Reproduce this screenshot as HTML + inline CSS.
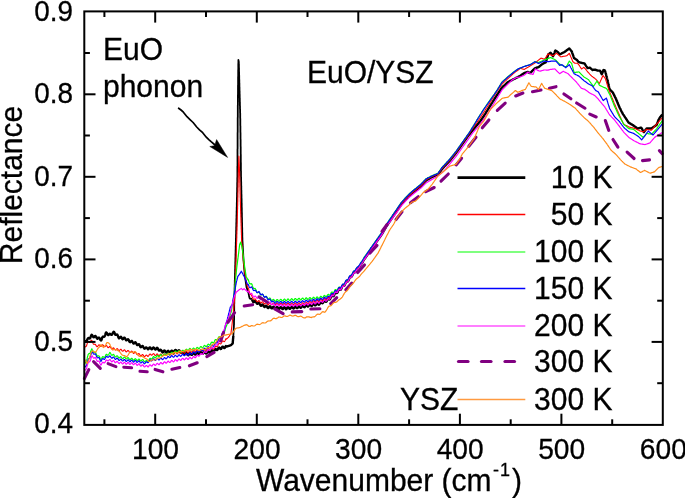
<!DOCTYPE html>
<html><head><meta charset="utf-8"><style>
html,body{margin:0;padding:0;background:#fff;}
body{width:685px;height:498px;overflow:hidden;font-family:"Liberation Sans",sans-serif;}
svg{display:block;will-change:transform;}
</style></head><body>
<svg width="685" height="498" viewBox="0 0 685 498">
<g><path d="M84.4,341.1 L84.8,340.9 L85.1,341.1 L85.5,341.4 L85.9,341.7 L86.2,341.6 L86.6,341.2 L86.9,340.5 L87.3,339.6 L87.7,338.8 L88.0,338.2 L88.4,338.0 L88.7,338.1 L89.0,338.3 L89.4,338.5 L89.7,338.5 L90.0,338.3 L90.3,337.8 L90.6,337.0 L91.0,336.1 L91.3,335.3 L91.6,334.7 L92.0,335.0 L92.5,335.7 L92.9,336.6 L93.4,337.2 L93.8,337.3 L94.3,336.9 L94.7,336.3 L95.2,335.9 L95.6,336.1 L96.1,336.8 L96.5,337.7 L96.9,338.4 L97.4,338.7 L97.8,338.4 L98.2,337.9 L98.7,337.6 L99.1,337.6 L99.6,338.2 L100.0,339.2 L100.4,340.0 L100.9,340.5 L101.3,340.4 L101.6,339.6 L101.9,338.7 L102.1,337.9 L102.4,337.3 L102.7,336.8 L103.0,336.6 L103.3,336.6 L103.6,336.7 L103.8,336.8 L104.1,336.8 L104.4,336.6 L104.7,336.1 L105.0,335.5 L105.3,334.6 L105.5,333.8 L105.8,333.0 L106.1,332.4 L106.5,332.6 L107.0,333.3 L107.4,334.2 L107.9,334.9 L108.3,335.1 L108.8,334.8 L109.2,334.2 L109.7,333.8 L110.1,333.9 L110.5,334.1 L110.9,334.5 L111.3,334.9 L111.7,334.9 L112.1,334.5 L112.5,333.7 L112.9,332.8 L113.3,332.1 L113.7,331.8 L114.1,331.9 L114.4,332.8 L114.8,333.6 L115.1,334.3 L115.4,334.8 L115.7,334.9 L116.1,334.8 L116.4,334.6 L116.7,334.4 L117.0,334.4 L117.4,334.7 L117.7,335.4 L118.0,336.2 L118.3,337.1 L118.7,337.8 L119.0,338.3 L119.5,338.1 L119.9,337.5 L120.4,336.9 L120.8,336.8 L121.3,337.2 L121.7,338.0 L122.2,338.8 L122.7,339.2 L123.1,339.0 L123.6,338.4 L124.0,337.8 L124.5,337.7 L124.9,338.1 L125.4,339.0 L125.8,339.8 L126.3,340.3 L126.7,340.3 L127.1,339.8 L127.6,339.4 L128.0,339.2 L128.5,339.6 L128.9,340.5 L129.3,341.4 L129.8,342.0 L130.2,342.2 L130.6,341.8 L131.1,341.2 L131.5,340.9 L131.9,341.0 L132.3,341.6 L132.8,342.5 L133.2,343.2 L133.6,343.6 L134.0,343.4 L134.5,342.9 L134.9,342.4 L135.3,342.2 L135.7,342.6 L136.2,343.4 L136.6,344.2 L137.0,344.9 L137.4,345.1 L137.9,344.9 L138.3,344.4 L138.7,344.2 L139.2,344.4 L139.6,345.1 L140.0,346.1 L140.4,346.9 L140.9,347.2 L141.3,347.1 L141.7,346.6 L142.1,346.1 L142.6,345.9 L143.0,346.3 L143.4,347.1 L143.9,348.0 L144.3,348.6 L144.7,348.7 L145.1,348.3 L145.6,347.8 L146.0,347.4 L146.5,347.4 L146.9,347.9 L147.4,348.6 L147.8,349.2 L148.3,349.2 L148.8,348.7 L149.2,347.9 L149.7,347.4 L150.2,347.4 L150.6,348.0 L151.1,348.7 L151.5,349.2 L152.0,349.2 L152.5,348.6 L152.9,347.9 L153.4,347.5 L153.8,347.6 L154.3,348.3 L154.8,349.1 L155.2,349.6 L155.7,349.5 L156.2,348.9 L156.6,348.2 L157.1,347.8 L157.5,348.0 L158.0,348.8 L158.4,349.7 L158.8,350.4 L159.2,350.6 L159.6,350.4 L160.1,350.0 L160.5,349.7 L160.9,349.8 L161.3,350.4 L161.7,351.3 L162.2,352.0 L162.6,352.4 L163.1,352.1 L163.6,351.4 L164.0,350.7 L164.5,350.5 L165.0,350.9 L165.4,351.7 L165.9,352.4 L166.4,352.6 L166.8,352.2 L167.3,351.5 L167.8,350.9 L168.2,350.8 L168.7,351.3 L169.2,352.1 L169.6,352.8 L170.1,352.8 L170.6,352.2 L171.0,351.3 L171.5,350.7 L171.9,350.6 L172.4,351.1 L172.9,351.8 L173.3,352.2 L173.8,352.1 L174.3,351.4 L174.7,350.5 L175.2,349.9 L175.6,349.9 L176.1,350.4 L176.6,351.3 L177.0,351.8 L177.5,351.8 L177.9,351.2 L178.4,350.5 L178.9,350.2 L179.3,350.4 L179.8,351.1 L180.2,352.1 L180.7,352.7 L181.2,352.8 L181.6,352.4 L182.1,351.9 L182.5,351.7 L183.0,352.0 L183.4,352.9 L183.9,353.8 L184.4,354.3 L184.8,354.2 L185.3,353.6 L185.8,353.0 L186.3,352.8 L186.8,353.3 L187.2,354.2 L187.7,355.0 L188.2,355.3 L188.7,354.8 L189.1,354.0 L189.6,353.3 L190.0,353.2 L190.5,353.6 L191.0,354.3 L191.4,354.9 L191.9,354.9 L192.4,354.3 L192.8,353.5 L193.3,352.9 L193.7,352.8 L194.2,353.3 L194.7,354.1 L195.2,354.6 L195.6,354.4 L196.1,353.7 L196.6,352.9 L197.1,352.4 L197.6,352.6 L198.1,353.3 L198.6,354.0 L199.0,354.2 L199.5,353.7 L200.0,352.9 L200.5,352.2 L200.9,352.0 L201.4,352.5 L201.9,353.2 L202.4,353.8 L202.8,353.8 L203.3,353.2 L203.8,352.4 L204.2,351.8 L204.7,351.8 L205.2,352.4 L205.6,353.1 L206.1,353.5 L206.6,353.4 L207.1,352.6 L207.5,351.8 L208.0,351.4 L208.4,351.5 L208.9,352.0 L209.3,352.6 L209.7,352.9 L210.2,352.6 L210.6,351.9 L211.1,351.1 L211.5,350.4 L211.9,350.3 L212.4,350.7 L212.8,351.3 L213.2,351.7 L213.7,351.7 L214.1,351.1 L214.5,350.2 L215.0,349.3 L215.4,348.9 L215.9,349.1 L216.3,349.7 L216.8,350.1 L217.2,350.0 L217.7,349.4 L218.2,348.5 L218.7,347.7 L219.1,347.5 L219.6,347.9 L220.1,348.6 L220.6,349.0 L221.1,348.9 L221.5,348.1 L222.0,347.2 L222.5,346.6 L223.0,346.7 L223.5,347.3 L223.9,347.9 L224.4,348.1 L224.9,347.7 L225.4,346.8 L225.9,346.0 L226.3,346.6 L226.8,346.5 L227.3,346.4 L227.8,346.2 L228.2,346.1 L228.7,345.9 L229.1,345.8 L229.6,345.6 L230.0,345.5 L230.5,345.3 L230.9,345.2 L231.3,344.8 L231.6,344.5 L232.0,344.1 L232.3,343.8 L232.7,343.4 L232.7,342.9 L232.8,342.5 L232.8,342.0 L232.8,341.6 L232.9,341.1 L232.9,340.7 L233.0,340.2 L233.0,339.8 L233.0,339.3 L233.1,338.8 L233.1,338.4 L233.2,337.9 L233.2,337.5 L233.2,337.0 L233.3,336.6 L233.3,336.1" fill="none" stroke="#000000" stroke-width="2.4" stroke-linejoin="round"/><path d="M233.3,336.1 L233.3,335.6 L233.4,335.2 L233.4,334.7 L233.4,334.3 L233.4,333.8 L233.5,333.3 L233.5,332.9 L233.5,332.4 L233.5,331.9 L233.6,331.5 L233.6,331.0 L233.6,330.6 L233.7,330.1 L233.7,329.6 L233.7,329.2 L233.7,328.7 L233.8,328.3 L233.8,327.8 L233.8,327.3 L233.8,326.9 L233.9,326.4 L233.9,325.9 L233.9,325.5 L233.9,325.0 L234.0,324.6 L234.0,324.1 L234.0,323.6 L234.0,323.2 L234.0,322.7 L234.0,322.3 L234.0,321.8 L234.0,321.4 L234.0,320.9 L234.0,320.5 L234.1,320.0 L234.1,319.6 L234.1,319.1 L234.1,318.6 L234.1,318.2 L234.1,317.7 L234.1,317.3 L234.1,316.8 L234.1,316.4 L234.1,315.9 L234.1,315.5 L234.1,315.0 L234.1,314.6 L234.1,314.1 L234.1,313.6 L234.1,313.2 L234.1,312.7 L234.1,312.3 L234.2,311.8 L234.2,311.4 L234.2,310.9 L234.2,310.5 L234.2,310.0 L234.2,309.5 L234.2,309.1 L234.2,308.6 L234.2,308.2 L234.2,307.7 L234.2,307.3 L234.2,306.8 L234.2,306.4 L234.2,305.9 L234.2,305.5 L234.2,305.0 L234.2,304.5 L234.2,304.1 L234.3,303.6 L234.3,303.2 L234.3,302.7 L234.3,302.3 L234.3,301.8 L234.3,301.4 L234.3,300.9 L234.3,300.5 L234.3,300.0 L234.3,299.5 L234.3,299.1 L234.3,298.6 L234.4,298.2 L234.4,297.7 L234.4,297.3 L234.4,296.8 L234.4,296.4 L234.4,295.9 L234.4,295.5 L234.4,295.0 L234.5,294.5 L234.5,294.1 L234.5,293.6 L234.5,293.2 L234.5,292.7 L234.5,292.3 L234.5,291.8 L234.5,291.4 L234.6,290.9 L234.6,290.5 L234.6,290.0 L234.6,289.5 L234.6,289.1 L234.6,288.6 L234.6,288.2 L234.6,287.7 L234.7,287.3 L234.7,286.8 L234.7,286.4 L234.7,285.9 L234.7,285.5 L234.7,285.0 L234.7,284.5 L234.7,284.1 L234.8,283.6 L234.8,283.2 L234.8,282.7 L234.8,282.3 L234.8,281.8 L234.8,281.4 L234.8,280.9 L234.8,280.5 L234.9,280.0 L234.9,279.5 L234.9,279.1 L234.9,278.6 L234.9,278.2 L234.9,277.7 L234.9,277.3 L234.9,276.8 L235.0,276.4 L235.0,275.9 L235.0,275.5 L235.0,275.0 L235.0,274.5 L235.0,274.1 L235.0,273.6 L235.0,273.2 L235.1,272.7 L235.1,272.3 L235.1,271.8 L235.1,271.4 L235.1,270.9 L235.1,270.5 L235.1,270.0 L235.1,269.5 L235.2,269.1 L235.2,268.6 L235.2,268.2 L235.2,267.7 L235.2,267.3 L235.2,266.8 L235.2,266.4 L235.2,265.9 L235.2,265.5 L235.3,265.0 L235.3,264.5 L235.3,264.1 L235.3,263.6 L235.3,263.2 L235.3,262.7 L235.3,262.3 L235.3,261.8 L235.4,261.4 L235.4,260.9 L235.4,260.5 L235.4,260.0 L235.4,259.5 L235.4,259.1 L235.4,258.6 L235.4,258.2 L235.4,257.7 L235.5,257.3 L235.5,256.8 L235.5,256.4 L235.5,255.9 L235.5,255.5 L235.5,255.0 L235.5,254.5 L235.5,254.1 L235.5,253.6 L235.6,253.2 L235.6,252.7 L235.6,252.3 L235.6,251.8 L235.6,251.4 L235.6,250.9 L235.6,250.5 L235.6,250.0 L235.7,249.5 L235.7,249.1 L235.7,248.6 L235.7,248.2 L235.7,247.7 L235.7,247.3 L235.7,246.8 L235.7,246.4 L235.7,245.9 L235.8,245.5 L235.8,245.0 L235.8,244.5 L235.8,244.1 L235.8,243.6 L235.8,243.2 L235.8,242.7 L235.8,242.3 L235.9,241.8 L235.9,241.4 L235.9,240.9 L235.9,240.5 L235.9,240.0 L235.9,239.5 L235.9,239.1 L235.9,238.6 L235.9,238.2 L236.0,237.7 L236.0,237.3 L236.0,236.8 L236.0,236.4 L236.0,235.9 L236.0,235.5 L236.0,235.0 L236.0,234.5 L236.1,234.1 L236.1,233.6 L236.1,233.2 L236.1,232.7 L236.1,232.3 L236.1,231.8 L236.1,231.4 L236.1,230.9 L236.1,230.5 L236.2,230.0 L236.2,229.5 L236.2,229.1 L236.2,228.6 L236.2,228.2 L236.2,227.7 L236.2,227.3 L236.2,226.8 L236.3,226.4 L236.3,225.9 L236.3,225.5 L236.3,225.0 L236.3,224.5 L236.3,224.1 L236.3,223.6 L236.3,223.2 L236.3,222.7 L236.4,222.3 L236.4,221.8 L236.4,221.4 L236.4,220.9 L236.4,220.5 L236.4,220.0 L236.4,219.5 L236.4,219.1 L236.4,218.6 L236.5,218.2 L236.5,217.7 L236.5,217.3 L236.5,216.8 L236.5,216.4 L236.5,215.9 L236.5,215.5 L236.5,215.0 L236.6,214.5 L236.6,214.1 L236.6,213.6 L236.6,213.2 L236.6,212.7 L236.6,212.3 L236.6,211.8 L236.6,211.4 L236.6,210.9 L236.7,210.5 L236.7,210.0 L236.7,209.5 L236.7,209.1 L236.7,208.6 L236.7,208.2 L236.7,207.7 L236.7,207.3 L236.8,206.8 L236.8,206.4 L236.8,205.9 L236.8,205.5 L236.8,205.0 L236.8,204.5 L236.8,204.1 L236.8,203.6 L236.8,203.2 L236.8,202.7 L236.9,202.3 L236.9,201.8 L236.9,201.4 L236.9,200.9 L236.9,200.5 L236.9,200.0 L236.9,199.5 L236.9,199.1 L236.9,198.6 L236.9,198.2 L236.9,197.7 L237.0,197.3 L237.0,196.8 L237.0,196.4 L237.0,195.9 L237.0,195.5 L237.0,195.0 L237.0,194.5 L237.0,194.1 L237.0,193.6 L237.0,193.2 L237.0,192.7 L237.1,192.3 L237.1,191.8 L237.1,191.4 L237.1,190.9 L237.1,190.5 L237.1,190.0 L237.1,189.5 L237.1,189.1 L237.1,188.6 L237.1,188.2 L237.1,187.7 L237.2,187.3 L237.2,186.8 L237.2,186.4 L237.2,185.9 L237.2,185.5 L237.2,185.0 L237.2,184.5 L237.2,184.1 L237.2,183.6 L237.2,183.2 L237.2,182.7 L237.3,182.3 L237.3,181.8 L237.3,181.4 L237.3,180.9 L237.3,180.5 L237.3,180.0 L237.3,179.5 L237.3,179.1 L237.3,178.6 L237.3,178.2 L237.3,177.7 L237.4,177.3 L237.4,176.8 L237.4,176.4 L237.4,175.9 L237.4,175.5 L237.4,175.0 L237.4,174.5 L237.4,174.1 L237.4,173.6 L237.4,173.2 L237.4,172.7 L237.4,172.3 L237.4,171.8 L237.4,171.4 L237.4,170.9 L237.4,170.5 L237.4,170.0 L237.4,169.5 L237.4,169.1 L237.4,168.6 L237.4,168.2 L237.4,167.7 L237.4,167.3 L237.4,166.8 L237.4,166.4 L237.5,165.9 L237.5,165.5 L237.5,165.0 L237.5,164.5 L237.5,164.1 L237.5,163.6 L237.5,163.2 L237.5,162.7 L237.5,162.3 L237.5,161.8 L237.5,161.4 L237.5,160.9 L237.5,160.5 L237.5,160.0 L237.5,159.5 L237.5,159.1 L237.5,158.6 L237.5,158.2 L237.5,157.7 L237.5,157.3 L237.5,156.8 L237.5,156.4 L237.5,155.9 L237.5,155.5 L237.5,155.0 L237.5,154.5 L237.5,154.1 L237.5,153.6 L237.5,153.2 L237.5,152.7 L237.5,152.3 L237.5,151.8 L237.5,151.4 L237.5,150.9 L237.5,150.5 L237.5,150.0 L237.5,149.5 L237.5,149.1 L237.6,148.6 L237.6,148.2 L237.6,147.7 L237.6,147.3 L237.6,146.8 L237.6,146.4 L237.6,145.9 L237.6,145.5 L237.6,145.0 L237.6,144.5 L237.6,144.1 L237.6,143.6 L237.6,143.2 L237.6,142.7 L237.6,142.3 L237.6,141.8 L237.6,141.4 L237.6,140.9 L237.6,140.5 L237.6,140.0 L237.6,139.5 L237.6,139.1 L237.6,138.6 L237.6,138.2 L237.6,137.7 L237.6,137.3 L237.6,136.8 L237.6,136.4 L237.6,135.9 L237.6,135.5 L237.6,135.0 L237.6,134.5 L237.6,134.1 L237.6,133.6 L237.6,133.2 L237.6,132.7 L237.7,132.3 L237.7,131.8 L237.7,131.4 L237.7,130.9 L237.7,130.5 L237.7,130.0 L237.7,129.5 L237.7,129.1 L237.7,128.6 L237.7,128.2 L237.7,127.7 L237.7,127.3 L237.7,126.8 L237.7,126.4 L237.7,125.9 L237.7,125.5 L237.7,125.0 L237.7,124.5 L237.7,124.1 L237.7,123.6 L237.7,123.2 L237.7,122.7 L237.7,122.3 L237.7,121.8 L237.7,121.4 L237.7,120.9 L237.7,120.5 L237.7,120.0 L237.7,119.5 L237.7,119.1 L237.7,118.6 L237.7,118.2 L237.7,117.7 L237.8,117.3 L237.8,116.8 L237.8,116.4 L237.8,115.9 L237.8,115.5 L237.8,115.0 L237.8,114.5 L237.8,114.1 L237.8,113.6 L237.8,113.2 L237.8,112.7 L237.8,112.3 L237.8,111.8 L237.8,111.4 L237.8,110.9 L237.8,110.5 L237.8,110.0 L237.8,109.5 L237.8,109.1 L237.8,108.6 L237.8,108.2 L237.8,107.7 L237.8,107.3 L237.8,106.8 L237.8,106.4 L237.8,105.9 L237.8,105.5 L237.9,105.0 L237.9,104.5 L237.9,104.1 L237.9,103.6 L237.9,103.2 L237.9,102.7 L237.9,102.3 L237.9,101.8 L237.9,101.4 L237.9,100.9 L237.9,100.5 L237.9,100.0 L237.9,99.5 L237.9,99.1 L237.9,98.6 L237.9,98.2 L237.9,97.7 L237.9,97.3 L237.9,96.8 L237.9,96.4 L237.9,95.9 L237.9,95.5 L237.9,95.0 L238.0,94.5 L238.0,94.1 L238.0,93.6 L238.0,93.2 L238.0,92.7 L238.0,92.3 L238.0,91.8 L238.0,91.4 L238.0,90.9 L238.0,90.5 L238.0,90.0 L238.0,89.5 L238.0,89.1 L238.0,88.6 L238.0,88.2 L238.0,87.7 L238.0,87.3 L238.0,86.8 L238.0,86.4 L238.0,85.9 L238.0,85.5 L238.1,85.0 L238.1,84.5 L238.1,84.1 L238.1,83.6 L238.1,83.2 L238.1,82.7 L238.1,82.3 L238.1,81.8 L238.1,81.4 L238.1,80.9 L238.1,80.5 L238.1,80.0 L238.1,79.5 L238.1,79.1 L238.1,78.6 L238.1,78.2 L238.1,77.7 L238.1,77.3 L238.1,76.8 L238.2,76.4 L238.2,75.9 L238.2,75.5 L238.2,75.0 L238.2,74.5 L238.2,74.1 L238.2,73.6 L238.2,73.2 L238.2,72.7 L238.2,72.3 L238.2,71.8 L238.2,71.4 L238.2,70.9 L238.2,70.5 L238.2,70.0 L238.3,69.5 L238.3,69.1 L238.3,68.6 L238.3,68.2 L238.3,67.7 L238.3,67.3 L238.3,66.8 L238.3,66.4 L238.3,65.9 L238.3,65.5 L238.3,65.0 L238.3,64.5 L238.3,64.1 L238.3,63.6 L238.4,63.2 L238.4,62.7 L238.4,62.3 L238.4,61.8 L238.4,61.4 L238.4,60.9 L238.4,60.5 L238.4,60.0 L238.5,60.5 L238.6,61.0 L238.7,61.5 L238.8,62.0 L238.8,62.5 L238.8,62.9 L238.8,63.4 L238.8,63.8 L238.9,64.3 L238.9,64.7 L238.9,65.2 L238.9,65.6 L238.9,66.1 L238.9,66.5 L238.9,67.0 L238.9,67.4 L239.0,67.9 L239.0,68.3 L239.0,68.8 L239.0,69.2 L239.0,69.7 L239.0,70.1 L239.0,70.6 L239.0,71.0 L239.0,71.5 L239.1,71.9 L239.1,72.4 L239.1,72.8 L239.1,73.3 L239.1,73.7 L239.1,74.2 L239.1,74.6 L239.1,75.1 L239.2,75.5 L239.2,76.0 L239.2,76.4 L239.2,76.9 L239.2,77.3 L239.2,77.8 L239.2,78.2 L239.2,78.7 L239.2,79.1 L239.3,79.6 L239.3,80.0 L239.3,80.5 L239.3,80.9 L239.3,81.4 L239.3,81.8 L239.3,82.3 L239.3,82.7 L239.4,83.2 L239.4,83.6 L239.4,84.1 L239.4,84.5 L239.4,85.0 L239.4,85.5 L239.4,85.9 L239.4,86.4 L239.4,86.8 L239.5,87.3 L239.5,87.7 L239.5,88.2 L239.5,88.6 L239.5,89.1 L239.5,89.5 L239.5,90.0 L239.5,90.5 L239.6,90.9 L239.6,91.4 L239.6,91.8 L239.6,92.3 L239.6,92.7 L239.6,93.2 L239.6,93.6 L239.6,94.1 L239.7,94.5 L239.7,95.0 L239.7,95.5 L239.7,95.9 L239.7,96.4 L239.7,96.8 L239.7,97.3 L239.7,97.7 L239.8,98.2 L239.8,98.6 L239.8,99.1 L239.8,99.5 L239.8,100.0 L239.8,100.5 L239.8,100.9 L239.8,101.4 L239.8,101.8 L239.9,102.3 L239.9,102.7 L239.9,103.2 L239.9,103.6 L239.9,104.1 L239.9,104.5 L239.9,105.0 L239.9,105.5 L240.0,105.9 L240.0,106.4 L240.0,106.8 L240.0,107.3 L240.0,107.7 L240.0,108.2 L240.0,108.6 L240.0,109.1 L240.1,109.5 L240.1,110.0 L240.1,110.5 L240.1,110.9 L240.1,111.4 L240.1,111.8 L240.1,112.3 L240.1,112.7 L240.2,113.2 L240.2,113.6 L240.2,114.1 L240.2,114.5 L240.2,115.0 L240.2,115.5 L240.2,115.9 L240.2,116.4 L240.2,116.8 L240.2,117.3 L240.2,117.7 L240.2,118.2 L240.3,118.6 L240.3,119.1 L240.3,119.5 L240.3,120.0 L240.3,120.5 L240.3,120.9 L240.3,121.4 L240.3,121.8 L240.3,122.3 L240.3,122.7 L240.3,123.2 L240.3,123.6 L240.3,124.1 L240.3,124.5 L240.3,125.0 L240.3,125.5 L240.4,125.9 L240.4,126.4 L240.4,126.8 L240.4,127.3 L240.4,127.7 L240.4,128.2 L240.4,128.6 L240.4,129.1 L240.4,129.5 L240.4,130.0 L240.4,130.5 L240.4,130.9 L240.4,131.4 L240.4,131.8 L240.4,132.3 L240.5,132.7 L240.5,133.2 L240.5,133.6 L240.5,134.1 L240.5,134.5 L240.5,135.0 L240.5,135.5 L240.5,135.9 L240.5,136.4 L240.5,136.8 L240.5,137.3 L240.5,137.7 L240.5,138.2 L240.5,138.6 L240.5,139.1 L240.6,139.5 L240.6,140.0 L240.6,140.5 L240.6,140.9 L240.6,141.4 L240.6,141.8 L240.6,142.3 L240.6,142.7 L240.6,143.2 L240.6,143.6 L240.6,144.1 L240.6,144.5 L240.6,145.0 L240.6,145.5 L240.6,145.9 L240.6,146.4 L240.7,146.8 L240.7,147.3 L240.7,147.7 L240.7,148.2 L240.7,148.6 L240.7,149.1 L240.7,149.5 L240.7,150.0 L240.7,150.5 L240.7,150.9 L240.7,151.4 L240.7,151.8 L240.7,152.3 L240.7,152.7 L240.7,153.2 L240.7,153.6 L240.7,154.1 L240.8,154.5 L240.8,155.0 L240.8,155.5 L240.8,155.9 L240.8,156.4 L240.8,156.8 L240.8,157.3 L240.8,157.7 L240.8,158.2 L240.8,158.6 L240.8,159.1 L240.8,159.5 L240.8,160.0 L240.8,160.5 L240.8,160.9 L240.8,161.4 L240.8,161.8 L240.8,162.3 L240.9,162.7 L240.9,163.2 L240.9,163.6 L240.9,164.1 L240.9,164.5 L240.9,165.0 L240.9,165.5 L240.9,165.9 L240.9,166.4 L240.9,166.8 L240.9,167.3 L240.9,167.7 L240.9,168.2 L240.9,168.6 L240.9,169.1 L240.9,169.5 L240.9,170.0 L240.9,170.5 L241.0,170.9 L241.0,171.4 L241.0,171.8 L241.0,172.3 L241.0,172.7 L241.0,173.2 L241.0,173.6 L241.0,174.1 L241.0,174.5 L241.0,175.0 L241.0,175.5 L241.0,175.9 L241.0,176.4 L241.0,176.8 L241.1,177.3 L241.1,177.7 L241.1,178.2 L241.1,178.6 L241.1,179.1 L241.1,179.5 L241.1,180.0 L241.1,180.5 L241.1,180.9 L241.1,181.4 L241.2,181.8 L241.2,182.3 L241.2,182.7 L241.2,183.2 L241.2,183.6 L241.2,184.1 L241.2,184.5 L241.2,185.0 L241.2,185.5 L241.3,185.9 L241.3,186.4 L241.3,186.8 L241.3,187.3 L241.3,187.7 L241.3,188.2 L241.3,188.6 L241.3,189.1 L241.3,189.5 L241.3,190.0 L241.4,190.5 L241.4,190.9 L241.4,191.4 L241.4,191.8 L241.4,192.3 L241.4,192.7 L241.4,193.2 L241.4,193.6 L241.4,194.1 L241.5,194.5 L241.5,195.0 L241.5,195.5 L241.5,195.9 L241.5,196.4 L241.5,196.8 L241.5,197.3 L241.5,197.7 L241.5,198.2 L241.6,198.6 L241.6,199.1 L241.6,199.5 L241.6,200.0 L241.6,200.5 L241.6,200.9 L241.6,201.4 L241.6,201.8 L241.6,202.3 L241.6,202.7 L241.7,203.2 L241.7,203.6 L241.7,204.1 L241.7,204.5 L241.7,205.0 L241.7,205.5 L241.7,205.9 L241.7,206.4 L241.7,206.8 L241.7,207.3 L241.8,207.7 L241.8,208.2 L241.8,208.6 L241.8,209.1 L241.8,209.5 L241.8,210.0 L241.8,210.5 L241.8,210.9 L241.8,211.4 L241.8,211.8 L241.8,212.3 L241.9,212.7 L241.9,213.2 L241.9,213.6 L241.9,214.1 L241.9,214.5 L241.9,215.0 L241.9,215.5 L241.9,215.9 L241.9,216.4 L241.9,216.8 L241.9,217.3 L242.0,217.7 L242.0,218.2 L242.0,218.6 L242.0,219.1 L242.0,219.5 L242.0,220.0 L242.0,220.5 L242.0,220.9 L242.0,221.4 L242.0,221.8 L242.0,222.3 L242.1,222.7 L242.1,223.2 L242.1,223.6 L242.1,224.1 L242.1,224.5 L242.1,225.0 L242.1,225.5 L242.1,225.9 L242.1,226.4 L242.1,226.8 L242.1,227.3 L242.2,227.7 L242.2,228.2 L242.2,228.6 L242.2,229.1 L242.2,229.5 L242.2,230.0 L242.2,230.5 L242.2,230.9 L242.2,231.4 L242.2,231.8 L242.2,232.3 L242.3,232.7 L242.3,233.2 L242.3,233.6 L242.3,234.1 L242.3,234.5 L242.3,235.0 L242.3,235.5 L242.3,235.9 L242.3,236.4 L242.3,236.8 L242.3,237.3 L242.4,237.7 L242.4,238.2 L242.4,238.6 L242.4,239.1 L242.4,239.5 L242.4,240.0 L242.4,240.5 L242.5,240.9 L242.5,241.4 L242.5,241.8 L242.5,242.3 L242.6,242.7 L242.6,243.2 L242.6,243.6 L242.6,244.1 L242.7,244.5 L242.7,245.0 L242.7,245.5 L242.7,245.9 L242.8,246.4 L242.8,246.8 L242.8,247.3 L242.8,247.7 L242.8,248.2 L242.9,248.6 L242.9,249.1 L242.9,249.5 L242.9,250.0 L243.0,250.5 L243.0,250.9 L243.0,251.4 L243.1,251.8 L243.1,252.3 L243.1,252.7 L243.1,253.2 L243.2,253.6 L243.2,254.1 L243.2,254.5 L243.2,255.0 L243.2,255.5 L243.3,255.9 L243.3,256.4 L243.3,256.8 L243.3,257.3 L243.4,257.7 L243.4,258.2 L243.4,258.6 L243.4,259.1 L243.5,259.5 L243.5,260.0 L243.5,260.5 L243.6,260.9 L243.6,261.4 L243.7,261.8 L243.7,262.3 L243.7,262.7 L243.8,263.2 L243.8,263.6 L243.9,264.1 L243.9,264.5 L243.9,265.0 L244.0,265.5 L244.0,265.9 L244.1,266.4 L244.1,266.8 L244.1,267.3 L244.2,267.7 L244.2,268.2 L244.2,268.6 L244.3,269.1 L244.3,269.5 L244.4,270.0 L244.4,270.5 L244.4,270.9 L244.5,271.4 L244.5,271.8 L244.6,272.3 L244.6,272.7 L244.6,273.2 L244.7,273.6 L244.7,274.1 L244.8,274.5 L244.8,275.0 L244.9,275.5 L244.9,275.9 L245.0,276.4 L245.1,276.8 L245.1,277.3 L245.2,277.8 L245.3,278.2 L245.3,278.7 L245.4,279.2 L245.5,279.6 L245.5,280.1 L245.6,280.5 L245.7,281.0 L245.7,281.5 L245.8,281.9 L245.8,282.4 L245.9,282.8 L246.0,283.3 L246.0,283.8 L246.1,284.2 L246.2,284.7 L246.2,285.2 L246.3,285.6 L246.4,286.1 L246.4,286.5 L246.5,287.0 L246.6,287.4 L246.8,287.9 L246.9,288.3 L247.0,288.7 L247.2,289.2 L247.3,289.6 L247.4,290.0 L247.5,290.5 L247.7,290.9 L247.8,291.3 L247.9,291.8 L248.1,291.2 L248.2,291.7 L248.3,292.2 L248.5,292.8 L248.6,293.4 L248.7,294.0 L248.8,294.6 L249.0,295.3 L249.1,296.0 L249.2,296.6 L249.4,297.2 L249.5,297.8 L249.8,298.4 L250.1,298.7 L250.3,298.9 L250.6,298.8 L250.9,298.8 L251.2,298.7 L251.4,298.8 L251.7,299.1 L252.0,299.6" fill="none" stroke="#000000" stroke-width="1.8" stroke-linejoin="round"/><path d="M252.0,299.6 L252.4,300.4 L252.9,301.4 L253.3,302.1 L253.8,302.2 L254.2,301.8 L254.7,301.3 L255.1,301.0 L255.6,301.2 L256.0,301.9 L256.4,302.9 L256.9,303.6 L257.3,303.9 L257.7,303.7 L258.1,303.2 L258.6,302.8 L259.0,302.8 L259.4,303.3 L259.9,304.2 L260.3,305.1 L260.7,305.7 L261.1,305.7 L261.6,305.3 L262.0,304.8 L262.4,304.5 L262.9,304.7 L263.3,305.4 L263.7,306.2 L264.2,306.9 L264.6,307.0 L265.1,306.6 L265.5,306.0 L265.9,305.6 L266.4,305.6 L266.8,306.2 L267.2,307.0 L267.7,307.8 L268.1,308.1 L268.6,307.8 L269.0,307.1 L269.5,306.4 L269.9,306.3 L270.4,306.7 L270.9,307.5 L271.3,308.2 L271.8,308.4 L272.3,308.1 L272.7,307.3 L273.2,306.8 L273.6,306.7 L274.1,307.2 L274.6,308.0 L275.0,308.6 L275.5,308.7 L275.9,308.3 L276.4,307.5 L276.9,306.9 L277.3,306.9 L277.8,307.5 L278.3,308.3 L278.7,308.9 L279.2,308.9 L279.6,308.3 L280.1,307.6 L280.6,307.1 L281.0,307.1 L281.5,307.7 L281.9,308.5 L282.4,309.1 L282.9,309.0 L283.3,308.4 L283.8,307.7 L284.3,307.2 L284.7,307.4 L285.2,308.0 L285.6,308.8 L286.1,309.3 L286.5,309.1 L287.0,308.4 L287.4,307.6 L287.9,307.2 L288.3,307.2 L288.8,307.8 L289.2,308.5 L289.7,308.9 L290.1,308.8 L290.6,308.2 L291.0,307.4 L291.5,306.8 L291.9,306.8 L292.4,307.3 L292.8,308.0 L293.3,308.5 L293.7,308.5 L294.2,307.9 L294.6,307.1 L295.1,306.5 L295.5,306.4 L296.0,306.9 L296.4,307.6 L296.9,308.1 L297.3,308.1 L297.8,307.6 L298.2,306.8 L298.7,306.1 L299.1,306.0 L299.6,306.5 L300.1,307.3 L300.6,307.7 L301.1,307.6 L301.5,306.9 L302.0,306.1 L302.4,305.6 L302.9,305.6 L303.3,306.1 L303.8,306.8 L304.2,307.2 L304.7,307.1 L305.1,306.4 L305.6,305.6 L306.0,305.0 L306.4,305.0 L306.9,305.4 L307.3,306.1 L307.8,306.6 L308.2,306.5 L308.7,306.0 L309.1,305.1 L309.6,304.5 L310.0,304.3 L310.4,304.7 L310.9,305.4 L311.4,305.9 L311.8,306.0 L312.2,305.5 L312.7,304.6 L313.1,303.9 L313.6,303.7 L314.1,304.1 L314.5,304.7 L314.9,305.3 L315.4,305.4 L315.9,304.9 L316.3,304.1 L316.8,303.4 L317.2,303.1 L317.6,303.4 L318.1,304.1 L318.6,304.7 L319.0,304.8 L319.4,304.3 L319.9,303.4 L320.3,302.6 L320.7,302.1 L321.1,302.1 L321.6,302.6 L322.0,303.1 L322.4,303.3 L322.9,303.0 L323.3,302.3 L323.7,301.4 L324.1,300.7 L324.6,300.5 L325.0,300.8 L325.4,301.3 L325.9,301.7 L326.3,301.7 L326.7,301.2 L327.1,300.3 L327.6,299.5 L328.0,299.0 L328.3,298.9 L328.7,299.0 L329.0,299.3 L329.4,299.5 L329.7,299.5 L330.1,299.1 L330.4,298.4 L330.8,297.5 L331.1,296.6 L331.5,296.0 L331.8,295.7 L332.2,295.7 L332.5,296.0 L332.9,296.2 L333.2,296.3 L333.6,296.1 L333.9,295.5 L334.3,294.7 L334.6,293.8 L335.0,293.1 L335.3,292.6 L335.7,292.5 L336.0,292.7 L336.3,292.9 L336.7,293.1 L337.0,293.1 L337.3,292.7 L337.7,292.0 L338.0,291.2 L338.3,290.3 L338.7,289.7 L339.0,289.3 L339.3,289.2 L339.7,289.4 L340.0,289.6 L340.3,289.8 L340.7,289.7 L341.0,289.3 L341.3,288.6 L341.7,287.8 L342.0,287.0 L342.3,286.3 L342.6,285.9 L342.9,285.7 L343.2,285.7 L343.5,285.8 L343.8,285.9 L344.1,285.8 L344.4,285.5 L344.7,285.1 L345.0,284.4 L345.3,283.6 L345.6,282.9 L345.9,282.3 L346.2,281.8 L346.5,281.6 L346.8,281.5 L347.1,281.5 L347.4,281.6 L347.7,281.5 L348.0,281.2 L348.3,280.8 L348.6,280.2 L348.9,279.5 L349.1,278.8 L349.4,278.2 L349.7,277.7 L350.0,277.4 L350.3,277.2 L350.6,277.1 L350.9,277.1 L351.1,277.0 L351.4,276.8 L351.7,276.4 L352.0,276.0 L352.3,275.4 L352.6,274.8 L352.9,274.2 L353.1,273.6 L353.4,273.2 L353.7,272.9 L354.0,272.7 L354.3,272.6 L354.6,272.5 L354.9,272.3 L355.2,272.1 L355.5,271.7 L355.8,271.2 L356.1,270.6 L356.4,270.1 L356.7,269.5 L357.0,269.1 L357.3,268.8 L357.6,268.6 L357.9,268.4 L358.2,268.2 L358.5,268.0 L358.8,267.7 L359.1,267.4 L359.4,266.9 L359.7,266.4 L360.0,265.9 L360.2,265.4 L360.5,265.0 L360.8,264.6 L361.0,264.2 L361.2,263.9 L361.5,263.6 L361.8,263.3 L362.0,263.0 L362.2,262.6 L362.5,262.3 L362.8,261.8 L363.0,261.4 L363.2,260.9 L363.5,260.5 L363.8,260.0 L364.0,259.6 L364.3,259.2 L364.5,258.8 L364.8,258.5 L365.0,258.1 L365.3,257.8 L365.6,257.5 L365.8,257.1 L366.1,256.7 L366.3,256.4 L366.6,256.0 L366.9,255.6 L367.1,255.2 L367.4,254.8 L367.7,254.4 L367.9,254.0 L368.2,253.6 L368.4,253.3 L368.7,252.9 L369.0,252.5 L369.2,252.1 L369.5,251.8 L369.7,251.4 L370.0,251.0 L370.3,250.6 L370.5,250.3 L370.8,249.9 L371.0,249.5 L371.3,249.2 L371.6,248.8 L371.8,248.4 L372.1,248.0 L372.3,247.7 L372.6,247.3 L372.9,246.9 L373.1,246.6 L373.4,246.2 L373.7,245.8 L373.9,245.5 L374.2,245.1 L374.4,244.7 L374.7,244.3 L375.0,244.0 L375.2,243.6 L375.5,243.2 L375.7,242.9 L376.0,242.5 L376.3,242.1 L376.5,241.8 L376.8,241.4 L377.0,241.0 L377.3,240.7 L377.6,240.3 L377.8,239.9 L378.1,239.5 L378.3,239.2 L378.6,238.8 L378.9,238.4 L379.1,238.1 L379.4,237.7 L379.7,237.3 L379.9,237.0 L380.2,236.6 L380.4,236.2 L380.7,235.8 L381.0,235.5 L381.2,235.1 L381.5,234.7 L381.7,234.4 L382.0,234.0 L382.2,233.6 L382.5,233.2 L382.7,232.8 L382.9,232.4 L383.1,232.0 L383.4,231.6 L383.6,231.2 L383.8,230.8 L384.1,230.4 L384.3,230.0 L384.5,229.6 L384.8,229.2 L385.0,228.8 L385.2,228.4 L385.5,228.0 L385.7,227.6 L385.9,227.2 L386.1,226.8 L386.4,226.4 L386.6,226.0 L386.9,225.6 L387.1,225.2 L387.4,224.9 L387.6,224.5 L387.9,224.1 L388.1,223.7 L388.4,223.3 L388.6,223.0 L388.9,222.6 L389.2,222.2 L389.4,221.8 L389.7,221.4 L389.9,221.1 L390.2,220.7 L390.4,220.3 L390.7,219.9 L391.0,219.5 L391.2,219.2 L391.5,218.8 L391.7,218.4 L392.0,218.0 L392.2,217.6 L392.5,217.3 L392.7,216.9 L393.0,216.5 L393.3,216.1 L393.5,215.7 L393.8,215.3 L394.1,215.0 L394.3,214.6 L394.6,214.2 L394.9,213.8 L395.1,213.4 L395.4,213.0 L395.7,212.6 L395.9,212.2 L396.2,211.9 L396.5,211.5 L396.7,211.1 L397.0,210.7 L397.3,210.3 L397.5,209.9 L397.8,209.5 L398.1,209.1 L398.3,208.7 L398.6,208.3 L398.9,207.9 L399.1,207.6 L399.4,207.2 L399.7,206.8 L399.9,206.4 L400.2,206.0 L400.5,205.6 L400.7,205.2 L401.0,204.8 L401.3,204.4 L401.6,204.1 L401.9,203.7 L402.2,203.4 L402.5,203.0 L402.8,202.7 L403.2,202.3 L403.5,202.0 L403.8,201.6 L404.1,201.3 L404.4,200.9 L404.7,200.6 L405.0,200.2 L405.3,199.8 L405.7,199.5 L406.0,199.1 L406.3,198.8 L406.7,198.4 L407.0,198.1 L407.3,197.8 L407.7,197.4 L408.0,197.1 L408.3,196.7 L408.7,196.3 L409.0,196.0 L409.4,195.7 L409.7,195.4 L410.1,195.0 L410.5,194.7 L410.8,194.4 L411.2,194.1 L411.5,193.8 L411.9,193.5 L412.3,193.1 L412.6,192.8 L413.0,192.5 L413.4,192.2 L413.7,191.9 L414.1,191.6 L414.5,191.3 L414.8,191.0 L415.2,190.8 L415.5,190.5 L415.9,190.2 L416.3,189.9 L416.6,189.6 L417.0,189.3 L417.4,189.0 L417.7,188.7 L418.1,188.4 L418.5,188.1 L418.8,187.8 L419.2,187.5 L419.5,187.2 L419.9,186.9 L420.3,186.6 L420.6,186.3 L421.0,186.0 L421.3,185.7 L421.6,185.3 L421.9,185.0 L422.2,184.6 L422.6,184.3 L422.9,183.9 L423.2,183.6 L423.5,183.2 L423.8,182.9 L424.1,182.6 L424.4,182.2 L424.8,181.9 L425.1,181.5 L425.4,181.2 L425.7,180.8 L426.0,180.5 L426.4,180.3 L426.8,180.0 L427.2,179.8 L427.6,179.6 L428.0,179.3 L428.4,179.1 L428.8,178.9 L429.2,178.6 L429.6,178.4 L430.0,178.2 L430.4,177.9 L430.8,177.7 L431.2,177.5 L431.6,177.2 L432.0,177.0 L432.4,176.8 L432.9,176.6 L433.3,176.5 L433.7,176.3 L434.1,176.1 L434.6,175.9 L435.0,175.8 L435.4,175.6 L435.9,175.4 L436.3,175.2 L436.7,175.0 L437.1,174.9 L437.6,174.7 L438.0,174.5 L438.3,174.1 L438.6,173.7 L438.9,173.3 L439.1,173.0 L439.4,172.6 L439.7,172.2 L440.0,171.8 L440.3,171.4 L440.6,171.0 L440.8,170.7 L441.1,170.3 L441.4,169.9 L441.7,169.5 L442.0,169.1 L442.4,168.7 L442.7,168.3 L443.0,168.0 L443.3,167.6 L443.7,167.2 L444.0,166.8 L444.3,166.5 L444.6,166.1 L444.9,165.8 L445.3,165.5 L445.6,165.1 L445.9,164.8 L446.2,164.5 L446.5,164.1 L446.8,163.8 L447.2,163.5 L447.5,163.2 L447.8,162.8 L448.1,162.5 L448.4,162.2 L448.7,161.8 L449.1,161.5 L449.4,161.2 L449.7,160.8 L450.0,160.5 L450.3,160.1 L450.6,159.8 L450.9,159.4 L451.1,159.1 L451.4,158.7 L451.7,158.4 L452.0,158.0 L452.3,157.6 L452.6,157.3 L452.9,156.9 L453.1,156.6 L453.4,156.2 L453.7,155.9 L454.0,155.5 L454.3,155.1 L454.6,154.8 L454.9,154.4 L455.1,154.1 L455.4,153.7 L455.7,153.4 L456.0,153.0 L456.3,152.6 L456.5,152.3 L456.8,151.9 L457.0,151.5 L457.3,151.2 L457.6,150.8 L457.8,150.4 L458.1,150.0 L458.3,149.7 L458.6,149.3 L458.9,148.9 L459.1,148.6 L459.4,148.2 L459.7,147.8 L459.9,147.5 L460.2,147.1 L460.4,146.7 L460.7,146.3 L461.0,146.0 L461.2,145.6 L461.5,145.2 L461.7,144.9 L462.0,144.5 L462.3,144.1 L462.5,143.8 L462.8,143.4 L463.0,143.0 L463.3,142.7 L463.6,142.3 L463.8,141.9 L464.1,141.5 L464.3,141.2 L464.6,140.8 L464.9,140.4 L465.1,140.1 L465.4,139.7 L465.7,139.3 L465.9,139.0 L466.2,138.6 L466.4,138.2 L466.7,137.8 L467.0,137.5 L467.2,137.1 L467.5,136.7 L467.7,136.4 L468.0,136.0 L468.3,135.6 L468.6,135.3 L468.9,134.9 L469.2,134.5 L469.5,134.2 L469.8,133.8 L470.1,133.5 L470.4,133.1 L470.7,132.7 L471.0,132.4 L471.2,132.0 L471.5,131.6 L471.8,131.3 L472.1,130.9 L472.4,130.5 L472.7,130.2 L473.0,129.8 L473.3,129.5 L473.6,129.1 L473.9,128.7 L474.2,128.4 L474.5,128.0 L474.8,127.6 L475.1,127.3 L475.4,126.9 L475.7,126.6 L476.0,126.2 L476.3,125.8 L476.6,125.5 L476.9,125.1 L477.2,124.8 L477.6,124.4 L477.9,124.0 L478.2,123.7 L478.5,123.3 L478.8,122.9 L479.1,122.6 L479.4,122.2 L479.7,121.9 L480.0,121.5 L480.3,121.1 L480.5,120.7 L480.8,120.4 L481.1,120.0 L481.3,119.6 L481.6,119.2 L481.9,118.8 L482.1,118.5 L482.4,118.1 L482.7,117.7 L482.9,117.3 L483.2,116.9 L483.5,116.6 L483.7,116.2 L484.0,115.8 L484.2,115.4 L484.5,115.0 L484.7,114.6 L485.0,114.2 L485.2,113.9 L485.4,113.5 L485.7,113.1 L485.9,112.7 L486.2,112.3 L486.4,111.9 L486.6,111.5 L486.9,111.1 L487.1,110.8 L487.4,110.4 L487.6,110.0 L487.8,109.6 L488.1,109.2 L488.3,108.8 L488.6,108.4 L488.8,108.0 L489.0,107.7 L489.3,107.3 L489.5,106.9 L489.8,106.5 L490.0,106.1 L490.2,105.7 L490.5,105.3 L490.7,104.9 L491.0,104.6 L491.2,104.2 L491.4,103.8 L491.7,103.4 L491.9,103.0 L492.2,102.6 L492.4,102.3 L492.6,101.9 L492.9,101.5 L493.1,101.1 L493.4,100.7 L493.6,100.3 L493.8,100.0 L494.1,99.6 L494.3,99.2 L494.6,98.8 L494.8,98.4 L495.0,98.0 L495.3,97.7 L495.5,97.3 L495.8,96.9 L496.0,96.5 L496.2,96.1 L496.5,95.8 L496.8,95.4 L497.0,95.0 L497.2,94.6 L497.5,94.2 L497.8,93.9 L498.0,93.5 L498.2,93.1 L498.5,92.8 L498.8,92.4 L499.0,92.0 L499.2,91.6 L499.5,91.2 L499.8,90.9 L500.0,90.5 L500.2,90.1 L500.5,89.8 L500.8,89.4 L501.0,89.0 L501.2,88.6 L501.5,88.2 L501.8,87.9 L502.0,87.5 L502.3,87.2 L502.7,86.9 L503.0,86.6 L503.3,86.3 L503.7,86.0 L504.0,85.7 L504.3,85.4 L504.7,85.1 L505.0,84.8 L505.3,84.4 L505.7,84.1 L506.0,83.8 L506.3,83.5 L506.7,83.2 L507.0,82.9 L507.3,82.6 L507.7,82.3 L508.0,82.0 L508.4,81.8 L508.9,81.6 L509.3,81.4 L509.7,81.1 L510.1,80.9 L510.6,80.7 L511.0,80.5 L511.4,80.3 L511.9,80.1 L512.3,79.9 L512.7,79.6 L513.1,79.4 L513.6,79.2 L514.0,79.0 L514.4,78.8 L514.9,78.6 L515.3,78.4 L515.7,78.1 L516.1,77.9 L516.6,77.7 L517.0,77.5 L517.4,77.3 L517.9,77.1 L518.3,76.9 L518.7,76.6 L519.1,76.4 L519.6,76.2 L520.0,76.0 L520.4,75.7 L520.7,75.5 L521.1,75.2 L521.5,74.9 L521.9,74.7 L522.2,74.4 L522.6,74.2 L523.0,73.9 L523.4,73.6 L523.7,73.4 L524.1,73.1 L524.6,72.9 L525.0,72.8 L525.5,72.7 L525.9,72.5 L526.4,72.3 L526.8,72.2 L527.2,72.1 L527.7,71.9 L528.2,72.1 L528.7,72.4 L529.1,72.6 L529.6,72.9 L530.1,73.1 L530.4,72.8 L530.7,72.5 L531.1,72.1 L531.4,71.8 L531.7,71.5 L532.0,71.2 L532.3,70.9 L532.7,70.5 L533.0,70.2 L533.3,69.9 L533.6,69.6 L533.9,69.3 L534.3,68.9 L534.6,68.6 L534.9,68.3 L535.4,68.1 L535.8,68.0 L536.3,67.8 L536.8,67.7 L537.2,67.5 L537.7,67.4 L538.1,67.2 L538.6,67.1 L539.0,66.8 L539.3,66.5 L539.7,66.2 L540.0,65.9 L540.4,65.6 L540.8,65.3 L541.1,65.0 L541.5,64.7 L541.8,64.4 L542.2,64.1 L542.7,63.9 L543.1,63.6 L543.5,63.4 L544.0,63.2 L544.5,63.0 L544.9,62.8 L545.3,62.5 L545.8,62.3 L545.9,61.9 L546.1,61.4 L546.2,61.0 L546.3,60.6 L546.5,60.1 L546.6,59.7 L546.7,59.3 L546.9,58.8 L547.0,58.4 L547.1,58.0 L547.3,57.5 L547.4,57.1 L547.5,56.7 L547.7,56.2 L547.8,55.8 L547.9,55.4 L548.1,54.9 L548.2,54.5 L548.6,54.2 L549.0,53.9 L549.4,53.6 L549.8,53.3 L550.2,53.0 L550.6,52.7 L550.9,53.1 L551.1,53.5 L551.4,53.9 L551.7,54.3 L551.9,54.7 L552.2,55.1 L552.5,55.5 L552.7,55.9 L553.0,56.3 L553.2,55.9 L553.4,55.4 L553.6,55.0 L553.7,54.5 L553.9,54.1 L554.1,53.6 L554.3,53.2 L554.5,52.7 L554.7,52.3 L554.8,51.8 L555.0,51.4 L555.2,50.9 L555.4,50.5 L555.8,50.8 L556.2,51.0 L556.6,51.2 L557.0,51.5 L557.4,51.8 L557.8,52.0 L558.1,52.4 L558.4,52.8 L558.7,53.2 L559.0,53.7 L559.3,54.1 L559.6,54.5 L560.0,54.3 L560.4,54.1 L560.8,53.9 L561.2,53.7 L561.6,53.5 L562.0,53.2 L562.5,53.0 L562.9,52.8 L563.3,52.6 L563.7,52.4 L564.1,52.2 L564.5,52.0 L564.9,51.7 L565.2,51.4 L565.6,51.2 L566.0,50.9 L566.3,50.6 L566.7,50.3 L567.1,50.1 L567.5,49.8 L567.8,49.5 L568.2,49.2 L568.6,49.0 L568.9,48.7 L569.3,48.4 L569.6,48.8 L569.9,49.1 L570.2,49.5 L570.5,49.9 L570.8,50.3 L571.1,50.6 L571.4,51.0 L571.7,51.4 L571.9,51.8 L572.0,52.3 L572.2,52.7 L572.3,53.2 L572.5,53.6 L572.7,54.1 L572.8,54.5 L573.0,55.0 L573.1,55.4 L573.3,55.9 L573.5,56.3 L573.6,56.8 L573.8,57.2 L573.9,57.7 L574.1,58.1 L574.5,58.4 L574.9,58.6 L575.3,58.9 L575.8,59.2 L576.2,59.5 L576.6,59.7 L577.0,60.0 L577.3,60.4 L577.6,60.8 L577.9,61.2 L578.2,61.6 L578.5,62.0 L579.0,62.2 L579.5,62.3 L580.0,62.5 L580.5,62.6 L580.9,62.7 L581.4,62.8 L581.8,62.9 L582.2,63.0 L582.7,63.1 L583.1,63.2 L583.6,63.3 L584.0,63.4 L584.5,63.5 L584.8,63.9 L585.0,64.2 L585.2,64.6 L585.5,65.0 L585.8,65.4 L586.0,65.8 L586.2,66.1 L586.5,66.5 L586.8,66.9 L587.0,67.2 L587.2,67.6 L587.5,68.0 L588.0,68.0 L588.5,67.9 L589.0,67.9 L589.5,67.8 L590.0,67.8 L590.4,68.1 L590.7,68.4 L591.1,68.7 L591.5,69.1 L591.9,69.4 L592.2,69.7 L592.6,70.0 L593.1,69.9 L593.6,69.8 L594.0,69.8 L594.5,69.7 L595.0,69.6 L595.4,69.8 L595.9,69.9 L596.3,70.1 L596.7,70.3 L597.2,70.4 L597.6,70.6 L598.1,70.6 L598.6,70.6 L599.0,70.6 L599.5,70.6 L600.0,70.6 L600.2,71.0 L600.4,71.4 L600.6,71.8 L600.8,72.2 L601.0,72.7 L601.2,73.1 L601.4,73.5 L601.6,73.9 L601.8,74.3 L602.0,73.9 L602.1,73.4 L602.3,73.0 L602.5,72.6 L602.6,72.2 L602.8,71.7 L603.0,71.3 L603.2,70.9 L603.3,70.4 L603.5,70.0 L604.0,70.2 L604.5,70.3 L605.0,70.5 L605.1,71.0 L605.2,71.4 L605.4,71.9 L605.5,72.3 L605.6,72.8 L605.7,73.2 L605.8,73.7 L606.0,74.1 L606.1,74.6 L606.2,75.0 L606.3,75.5 L606.4,75.9 L606.5,76.4 L606.7,76.8 L606.8,77.3 L606.9,77.7 L607.0,78.2 L607.1,78.6 L607.3,79.1 L607.4,79.5 L607.5,80.0 L607.6,80.4 L607.7,80.9 L607.8,81.3 L607.9,81.8 L608.0,82.2 L608.1,82.7 L608.2,83.1 L608.3,83.5 L608.4,84.0 L608.5,84.4 L608.6,84.9 L608.7,85.3 L608.8,85.8 L608.9,86.2 L609.0,86.6 L609.1,87.1 L609.2,87.5 L609.3,88.0 L609.4,88.4 L609.5,88.9 L609.6,89.3 L609.9,89.6 L610.2,89.9 L610.6,90.3 L610.9,90.6 L611.2,90.9 L611.5,91.2 L611.8,91.5 L612.2,91.9 L612.5,92.2 L612.8,92.5 L613.0,92.9 L613.2,93.4 L613.4,93.8 L613.7,94.2 L613.9,94.6 L614.1,95.1 L614.3,95.5 L614.5,95.9 L614.7,96.3 L614.9,96.8 L615.1,97.2 L615.4,97.6 L615.6,98.0 L615.8,98.5 L616.0,98.9 L616.2,99.3 L616.3,99.7 L616.5,100.2 L616.7,100.6 L616.9,101.0 L617.0,101.4 L617.2,101.8 L617.4,102.3 L617.6,102.7 L617.7,103.1 L617.9,103.5 L618.1,104.0 L618.3,104.4 L618.4,104.8 L618.6,105.2 L618.8,105.6 L619.0,106.1 L619.1,106.5 L619.3,106.9 L619.5,107.3 L619.7,107.8 L619.9,108.2 L620.2,108.6 L620.4,109.0 L620.6,109.5 L620.8,109.9 L621.0,110.3 L621.2,110.7 L621.4,111.2 L621.6,111.6 L621.9,112.0 L622.1,112.4 L622.3,112.9 L622.5,113.3 L622.7,113.7 L623.0,114.1 L623.2,114.4 L623.5,114.8 L623.7,115.2 L624.0,115.6 L624.2,115.9 L624.5,116.3 L624.7,116.7 L625.0,117.1 L625.2,117.4 L625.5,117.8 L625.7,118.2 L626.0,118.6 L626.2,119.0 L626.5,119.4 L626.8,119.8 L627.0,120.2 L627.3,120.6 L627.5,121.0 L627.8,121.4 L628.1,121.8 L628.3,122.2 L628.6,122.6 L629.0,122.8 L629.4,123.1 L629.8,123.3 L630.2,123.6 L630.6,123.8 L631.1,124.1 L631.5,124.3 L631.9,124.6 L632.3,124.8 L632.7,125.1 L633.1,125.3 L633.5,125.6 L633.9,125.8 L634.2,126.1 L634.6,126.4 L635.0,126.6 L635.4,126.9 L635.7,127.2 L636.1,127.4 L636.5,127.7 L636.9,128.0 L637.2,128.2 L637.6,128.5 L638.1,128.4 L638.5,128.3 L639.0,128.2 L639.4,128.1 L639.9,127.9 L640.3,127.8 L640.8,127.7 L641.2,127.6 L641.4,128.0 L641.7,128.4 L641.9,128.8 L642.2,129.2 L642.4,129.6 L642.7,130.1 L642.9,130.5 L643.2,130.9 L643.4,131.3 L643.7,131.7 L643.9,132.1 L644.2,131.7 L644.4,131.4 L644.7,131.0 L645.0,130.7 L645.2,130.3 L645.5,129.9 L645.8,129.6 L646.1,129.2 L646.3,128.9 L646.6,128.5 L647.1,128.5 L647.5,128.5 L648.0,128.5 L648.4,128.5 L648.9,128.5 L649.4,128.5 L649.8,128.5 L650.3,128.5 L650.7,128.5 L651.2,128.5 L651.6,128.2 L652.0,128.0 L652.4,127.8 L652.7,127.5 L653.1,127.2 L653.5,127.0 L653.9,126.7 L654.3,126.5 L654.7,126.2 L655.0,126.0 L655.4,125.7 L655.8,125.4 L656.2,125.2 L656.6,124.9 L656.8,124.5 L656.9,124.0 L657.1,123.6 L657.3,123.1 L657.5,122.7 L657.6,122.2 L657.8,121.8 L658.0,121.3 L658.2,120.9 L658.3,120.4 L658.5,120.0 L658.7,119.6 L659.0,119.1 L659.2,118.7 L659.5,118.3 L659.7,117.9 L660.0,117.4 L660.2,117.0 L660.5,116.6 L660.9,116.3 L661.2,115.9 L661.5,115.6 L661.8,115.2 L662.2,114.9 L662.5,114.5" fill="none" stroke="#000000" stroke-width="2.4" stroke-linejoin="round"/><path d="M84.4,347.6 L84.6,347.2 L84.9,347.0 L85.1,346.9 L85.3,346.8 L85.5,346.8 L85.8,346.7 L86.0,346.5 L86.2,346.3 L86.5,345.8 L86.7,345.3 L86.9,344.6 L87.1,343.9 L87.4,343.1 L87.6,342.4 L88.0,341.9 L88.4,341.7 L88.8,341.9 L89.2,342.3 L89.6,342.5 L90.0,342.4 L90.4,341.8 L90.8,341.0 L91.2,340.2 L91.5,340.2 L91.8,340.5 L92.2,341.1 L92.5,341.8 L92.8,342.7 L93.1,343.5 L93.4,344.1 L93.8,344.4 L94.1,344.4 L94.4,344.3 L94.7,344.2 L95.0,344.2 L95.4,344.4 L95.7,344.9 L96.0,345.6 L96.5,346.2 L96.9,346.7 L97.4,346.7 L97.8,346.2 L98.3,345.5 L98.8,344.9 L99.2,344.9 L99.7,345.3 L100.2,346.0 L100.6,346.5 L101.1,346.4 L101.5,345.8 L102.0,345.1 L102.5,344.7 L102.9,344.9 L103.4,345.5 L103.8,346.3 L104.3,346.8 L104.8,346.8 L105.2,346.4 L105.7,345.8 L106.2,345.5 L106.6,345.7 L107.1,346.3 L107.5,347.1 L108.0,347.6 L108.4,347.6 L108.9,347.3 L109.3,346.8 L109.7,346.5 L110.1,346.7 L110.6,347.3 L111.0,348.1 L111.4,348.8 L111.9,349.1 L112.3,348.9 L112.7,348.4 L113.1,348.0 L113.6,347.9 L114.0,348.4 L114.5,349.1 L114.9,349.8 L115.4,350.1 L115.8,349.9 L116.3,349.3 L116.8,348.8 L117.2,348.6 L117.7,349.0 L118.2,349.8 L118.6,350.5 L119.1,350.7 L119.5,350.5 L120.0,349.9 L120.5,349.3 L120.9,349.3 L121.4,349.7 L121.8,350.5 L122.3,351.1 L122.8,351.3 L123.2,351.0 L123.7,350.4 L124.2,349.9 L124.6,349.9 L125.1,350.4 L125.5,351.2 L126.0,351.8 L126.5,351.9 L126.9,351.5 L127.4,350.9 L127.8,350.5 L128.3,350.5 L128.8,351.1 L129.2,351.9 L129.7,352.5 L130.2,352.5 L130.6,352.1 L131.1,351.5 L131.5,351.1 L132.0,351.2 L132.4,351.8 L132.9,352.6 L133.3,353.2 L133.7,353.4 L134.1,353.2 L134.6,352.7 L135.0,352.3 L135.4,352.2 L135.9,352.7 L136.3,353.4 L136.7,354.2 L137.1,354.6 L137.6,354.6 L138.0,354.1 L138.5,353.6 L139.0,353.6 L139.5,354.1 L140.0,355.0 L140.5,355.7 L140.9,356.0 L141.4,355.7 L141.8,355.1 L142.3,354.6 L142.8,354.6 L143.2,355.1 L143.7,355.9 L144.2,356.5 L144.6,356.7 L145.1,356.3 L145.5,355.7 L146.0,355.3 L146.5,355.1 L146.9,355.4 L147.4,356.0 L147.8,356.4 L148.3,356.2 L148.8,355.6 L149.2,354.8 L149.7,354.2 L150.2,354.0 L150.6,354.4 L151.1,355.0 L151.5,355.3 L152.0,355.1 L152.5,354.6 L152.9,354.0 L153.4,353.6 L153.8,353.7 L154.3,354.3 L154.8,355.1 L155.2,355.5 L155.7,355.4 L156.2,354.9 L156.6,354.3 L157.1,353.9 L157.5,354.1 L158.0,354.8 L158.5,355.5 L158.9,355.8 L159.4,355.6 L159.9,354.9 L160.3,354.3 L160.8,354.0 L161.3,354.3 L161.8,355.0 L162.2,355.6 L162.7,355.8 L163.2,355.4 L163.6,354.8 L164.1,354.2 L164.6,354.0 L165.0,354.3 L165.5,355.0 L165.9,355.5 L166.4,355.5 L166.9,355.1 L167.3,354.3 L167.8,353.7 L168.3,353.6 L168.7,354.0 L169.2,354.7 L169.6,355.2 L170.1,355.1 L170.6,354.6 L171.0,353.8 L171.5,353.2 L171.9,353.1 L172.4,353.5 L172.9,354.1 L173.3,354.5 L173.8,354.4 L174.3,353.8 L174.7,353.0 L175.2,352.4 L175.6,352.4 L176.1,352.9 L176.5,353.5 L177.0,353.9 L177.4,353.8 L177.9,353.2 L178.3,352.5 L178.8,352.0 L179.2,352.0 L179.7,352.4 L180.1,353.1 L180.6,353.5 L181.0,353.4 L181.5,352.9 L181.9,352.2 L182.4,351.7 L182.8,351.6 L183.3,352.0 L183.7,352.6 L184.2,353.1 L184.6,353.1 L185.1,352.6 L185.5,351.9 L186.0,351.3 L186.4,351.2 L186.9,351.6 L187.3,352.2 L187.8,352.7 L188.2,352.8 L188.7,352.3 L189.1,351.5 L189.6,350.9 L190.0,350.7 L190.5,351.1 L191.0,351.7 L191.4,352.1 L191.9,352.2 L192.3,351.6 L192.8,350.9 L193.2,350.3 L193.7,350.1 L194.2,350.5 L194.6,351.1 L195.1,351.6 L195.5,351.5 L196.0,351.0 L196.5,350.2 L197.0,349.7 L197.5,349.8 L198.0,350.4 L198.5,351.1 L199.0,351.4 L199.5,351.1 L200.0,350.3 L200.5,349.7 L200.9,349.5 L201.4,349.9 L201.9,350.5 L202.4,351.0 L202.8,351.0 L203.3,350.4 L203.8,349.6 L204.2,349.1 L204.7,349.1 L205.2,349.5 L205.6,350.2 L206.1,350.5 L206.6,350.3 L207.1,349.7 L207.5,348.9 L208.0,348.5 L208.5,348.6 L208.9,349.2 L209.4,349.7 L209.9,349.9 L210.3,349.6 L210.8,348.8 L211.3,348.1 L211.8,347.8 L212.2,348.0 L212.7,348.6 L213.2,349.1 L213.6,349.2 L214.1,348.7 L214.5,347.9 L214.8,347.1 L215.2,346.5 L215.5,346.2 L215.9,346.2 L216.2,346.5 L216.6,346.7 L216.9,346.8 L217.3,346.5 L217.6,346.0 L218.0,345.2 L218.3,344.4 L218.7,343.7 L219.0,343.4 L219.4,343.3 L219.7,343.5 L220.1,343.7 L220.5,343.9 L220.9,343.8 L221.3,343.2 L221.7,342.4 L222.1,341.6 L222.5,341.0 L222.9,340.9 L223.3,341.1 L223.7,341.4 L224.1,341.7 L224.5,341.5 L224.9,341.0 L225.3,340.2 L225.6,339.3 L226.0,338.7 L226.3,339.2 L226.7,338.9 L227.1,338.5 L227.4,338.2 L227.8,337.9 L228.1,337.6 L228.5,337.3 L228.8,336.9 L229.0,336.5 L229.3,336.1 L229.6,335.7 L229.8,335.3 L230.1,334.9 L230.4,334.5 L230.6,334.1 L230.9,333.7 L231.0,333.2 L231.0,332.8 L231.1,332.3 L231.1,331.9 L231.2,331.4 L231.2,331.0 L231.3,330.5 L231.4,330.0 L231.4,329.6 L231.5,329.1 L231.5,328.7 L231.6,328.2 L231.6,327.8 L231.7,327.3 L231.8,326.8 L231.8,326.4 L231.9,325.9 L231.9,325.5 L232.0,325.0 L232.0,324.6 L232.1,324.1 L232.1,323.7 L232.2,323.2 L232.2,322.8 L232.3,322.3 L232.3,321.9 L232.4,321.4 L232.4,321.0 L232.5,320.5 L232.5,320.1 L232.5,319.6 L232.6,319.2 L232.6,318.7 L232.7,318.3 L232.7,317.8 L232.8,317.4 L232.8,316.9 L232.9,316.5 L232.9,316.0 L232.9,315.6 L233.0,315.1 L233.0,314.7 L233.1,314.2 L233.1,313.8 L233.2,313.3 L233.2,312.9 L233.3,312.4 L233.3,312.0 L233.4,311.5 L233.4,311.1 L233.5,310.6 L233.5,310.2 L233.6,309.7 L233.6,309.2 L233.7,308.8 L233.7,308.3 L233.8,307.8 L233.8,307.4 L233.8,306.9 L233.9,306.5 L233.9,306.0 L234.0,305.5 L234.1,305.1 L234.1,304.6 L234.2,304.2 L234.2,303.7 L234.2,303.2 L234.3,302.8 L234.3,302.3 L234.4,301.8 L234.4,301.4 L234.5,300.9 L234.5,300.5 L234.6,300.0 L234.6,299.5 L234.6,299.1 L234.6,298.6 L234.7,298.2 L234.7,297.7 L234.7,297.3 L234.7,296.8 L234.7,296.4 L234.7,295.9 L234.8,295.5 L234.8,295.0 L234.8,294.5 L234.8,294.1 L234.8,293.6 L234.8,293.2 L234.9,292.7 L234.9,292.3 L234.9,291.8 L234.9,291.4 L234.9,290.9 L234.9,290.5 L235.0,290.0 L235.0,289.5 L235.0,289.1 L235.0,288.6 L235.0,288.2 L235.0,287.7 L235.1,287.3 L235.1,286.8 L235.1,286.4 L235.1,285.9 L235.1,285.5 L235.1,285.0 L235.2,284.5 L235.2,284.1 L235.2,283.6 L235.2,283.2 L235.2,282.7 L235.2,282.3 L235.3,281.8 L235.3,281.4 L235.3,280.9 L235.3,280.5 L235.3,280.0 L235.3,279.5 L235.4,279.1 L235.4,278.6 L235.4,278.2 L235.4,277.7 L235.4,277.3 L235.4,276.8 L235.5,276.4 L235.5,275.9 L235.5,275.5 L235.5,275.0 L235.5,274.5 L235.5,274.1 L235.5,273.6 L235.6,273.2 L235.6,272.7 L235.6,272.3 L235.6,271.8 L235.6,271.4 L235.6,270.9 L235.7,270.5 L235.7,270.0 L235.7,269.5 L235.7,269.1 L235.7,268.6 L235.7,268.2 L235.7,267.7 L235.8,267.3 L235.8,266.8 L235.8,266.4 L235.8,265.9 L235.8,265.5 L235.8,265.0 L235.9,264.5 L235.9,264.1 L235.9,263.6 L235.9,263.2 L235.9,262.7 L235.9,262.3 L236.0,261.8 L236.0,261.4 L236.0,260.9 L236.0,260.5 L236.0,260.0 L236.0,259.5 L236.0,259.1 L236.1,258.6 L236.1,258.2 L236.1,257.7 L236.1,257.3 L236.1,256.8 L236.1,256.4 L236.2,255.9 L236.2,255.5 L236.2,255.0 L236.2,254.5 L236.2,254.1 L236.2,253.6 L236.2,253.2 L236.3,252.7 L236.3,252.3 L236.3,251.8 L236.3,251.4 L236.3,250.9 L236.3,250.5 L236.4,250.0 L236.4,249.5 L236.4,249.1 L236.4,248.6 L236.4,248.2 L236.4,247.7 L236.5,247.3 L236.5,246.8 L236.5,246.4 L236.5,245.9 L236.5,245.5 L236.5,245.0 L236.5,244.5 L236.6,244.1 L236.6,243.6 L236.6,243.2 L236.6,242.7 L236.6,242.3 L236.6,241.8 L236.7,241.4 L236.7,240.9 L236.7,240.5 L236.7,240.0 L236.7,239.5 L236.7,239.1 L236.7,238.6 L236.8,238.2 L236.8,237.7 L236.8,237.3 L236.8,236.8 L236.8,236.4 L236.8,235.9 L236.8,235.5 L236.8,235.0 L236.8,234.5 L236.9,234.1 L236.9,233.6 L236.9,233.2 L236.9,232.7 L236.9,232.3 L236.9,231.8 L236.9,231.4 L236.9,230.9 L237.0,230.5 L237.0,230.0 L237.0,229.5 L237.0,229.1 L237.0,228.6 L237.0,228.2 L237.0,227.7 L237.0,227.3 L237.1,226.8 L237.1,226.4 L237.1,225.9 L237.1,225.5 L237.1,225.0 L237.1,224.5 L237.1,224.1 L237.2,223.6 L237.2,223.2 L237.2,222.7 L237.2,222.3 L237.2,221.8 L237.2,221.4 L237.2,220.9 L237.2,220.5 L237.2,220.0 L237.3,219.5 L237.3,219.1 L237.3,218.6 L237.3,218.2 L237.3,217.7 L237.3,217.3 L237.3,216.8 L237.3,216.4 L237.4,215.9 L237.4,215.5 L237.4,215.0 L237.4,214.5 L237.4,214.1 L237.4,213.6 L237.4,213.2 L237.5,212.7 L237.5,212.3 L237.5,211.8 L237.5,211.4 L237.5,210.9 L237.5,210.5 L237.5,210.0 L237.5,209.5 L237.6,209.1 L237.6,208.6 L237.6,208.2 L237.6,207.7 L237.6,207.3 L237.6,206.8 L237.6,206.4 L237.6,205.9 L237.7,205.5 L237.7,205.0 L237.7,204.5 L237.7,204.1 L237.7,203.6 L237.7,203.2 L237.7,202.7 L237.7,202.3 L237.8,201.8 L237.8,201.4 L237.8,200.9 L237.8,200.5 L237.8,200.0 L237.8,199.5 L237.8,199.1 L237.8,198.6 L237.8,198.2 L237.8,197.7 L237.9,197.3 L237.9,196.8 L237.9,196.4 L237.9,195.9 L237.9,195.5 L237.9,195.0 L237.9,194.5 L237.9,194.1 L237.9,193.6 L237.9,193.2 L237.9,192.7 L238.0,192.3 L238.0,191.8 L238.0,191.4 L238.0,190.9 L238.0,190.5 L238.0,190.0 L238.0,189.5 L238.0,189.1 L238.0,188.6 L238.0,188.2 L238.0,187.7 L238.1,187.3 L238.1,186.8 L238.1,186.4 L238.1,185.9 L238.1,185.5 L238.1,185.0 L238.1,184.5 L238.1,184.1 L238.1,183.6 L238.1,183.2 L238.1,182.7 L238.2,182.3 L238.2,181.8 L238.2,181.4 L238.2,180.9 L238.2,180.5 L238.2,180.0 L238.2,179.5 L238.2,179.1 L238.2,178.6 L238.2,178.2 L238.2,177.7 L238.3,177.3 L238.3,176.8 L238.3,176.4 L238.3,175.9 L238.3,175.5 L238.3,175.0 L238.3,174.5 L238.3,174.1 L238.3,173.6 L238.3,173.2 L238.3,172.7 L238.4,172.3 L238.4,171.8 L238.4,171.4 L238.4,170.9 L238.4,170.5 L238.4,170.0 L238.4,169.5 L238.4,169.1 L238.4,168.6 L238.5,168.2 L238.5,167.7 L238.5,167.3 L238.5,166.8 L238.5,166.4 L238.5,165.9 L238.6,165.5 L238.6,165.0 L238.6,164.6 L238.6,164.1 L238.6,163.7 L238.6,163.2 L238.7,162.8 L238.7,162.3 L238.7,161.9 L238.7,161.4 L238.7,161.0 L238.7,160.5 L238.8,160.1 L238.8,159.6 L238.8,159.2 L238.8,158.7 L238.8,158.3 L238.8,157.8 L238.9,157.4 L238.9,156.9 L238.9,156.5 L238.9,156.0 L238.9,156.5 L238.9,156.9 L239.0,157.4 L239.0,157.8 L239.0,158.3 L239.0,158.7 L239.0,159.2 L239.1,159.6 L239.1,160.1 L239.1,160.5 L239.1,161.0 L239.1,161.4 L239.2,161.9 L239.2,162.3 L239.2,162.8 L239.2,163.2 L239.2,163.7 L239.2,164.1 L239.3,164.6 L239.3,165.0 L239.3,165.5 L239.3,165.9 L239.3,166.4 L239.4,166.8 L239.4,167.3 L239.4,167.7 L239.4,168.2 L239.4,168.6 L239.5,169.1 L239.5,169.5 L239.5,170.0 L239.5,170.5 L239.5,170.9 L239.5,171.4 L239.5,171.8 L239.6,172.3 L239.6,172.7 L239.6,173.2 L239.6,173.6 L239.6,174.1 L239.6,174.5 L239.6,175.0 L239.6,175.5 L239.7,175.9 L239.7,176.4 L239.7,176.8 L239.7,177.3 L239.7,177.7 L239.7,178.2 L239.7,178.6 L239.7,179.1 L239.8,179.5 L239.8,180.0 L239.8,180.5 L239.8,180.9 L239.8,181.4 L239.8,181.8 L239.8,182.3 L239.8,182.7 L239.9,183.2 L239.9,183.6 L239.9,184.1 L239.9,184.5 L239.9,185.0 L239.9,185.5 L239.9,185.9 L239.9,186.4 L239.9,186.8 L240.0,187.3 L240.0,187.7 L240.0,188.2 L240.0,188.6 L240.0,189.1 L240.0,189.5 L240.0,190.0 L240.0,190.5 L240.1,190.9 L240.1,191.4 L240.1,191.8 L240.1,192.3 L240.1,192.7 L240.1,193.2 L240.1,193.6 L240.1,194.1 L240.2,194.5 L240.2,195.0 L240.2,195.5 L240.2,195.9 L240.2,196.4 L240.2,196.8 L240.2,197.3 L240.2,197.7 L240.3,198.2 L240.3,198.6 L240.3,199.1 L240.3,199.5 L240.3,200.0 L240.3,200.5 L240.3,200.9 L240.3,201.4 L240.4,201.8 L240.4,202.3 L240.4,202.7 L240.4,203.2 L240.4,203.6 L240.4,204.1 L240.4,204.5 L240.5,205.0 L240.5,205.5 L240.5,205.9 L240.5,206.4 L240.5,206.8 L240.5,207.3 L240.6,207.7 L240.6,208.2 L240.6,208.6 L240.6,209.1 L240.6,209.5 L240.6,210.0 L240.6,210.5 L240.7,210.9 L240.7,211.4 L240.7,211.8 L240.7,212.3 L240.7,212.7 L240.7,213.2 L240.7,213.6 L240.8,214.1 L240.8,214.5 L240.8,215.0 L240.8,215.5 L240.8,215.9 L240.8,216.4 L240.8,216.8 L240.9,217.3 L240.9,217.7 L240.9,218.2 L240.9,218.6 L240.9,219.1 L240.9,219.5 L240.9,220.0 L241.0,220.5 L241.0,220.9 L241.0,221.4 L241.0,221.8 L241.0,222.3 L241.0,222.7 L241.1,223.2 L241.1,223.6 L241.1,224.1 L241.1,224.5 L241.1,225.0 L241.1,225.5 L241.1,225.9 L241.2,226.4 L241.2,226.8 L241.2,227.3 L241.2,227.7 L241.2,228.2 L241.2,228.6 L241.2,229.1 L241.3,229.5 L241.3,230.0 L241.3,230.5 L241.3,230.9 L241.3,231.4 L241.3,231.8 L241.3,232.3 L241.4,232.7 L241.4,233.2 L241.4,233.6 L241.4,234.1 L241.4,234.5 L241.4,235.0 L241.5,235.5 L241.5,235.9 L241.5,236.4 L241.5,236.8 L241.5,237.3 L241.5,237.7 L241.5,238.2 L241.6,238.6 L241.6,239.1 L241.6,239.5 L241.6,240.0 L241.6,240.4 L241.7,240.9 L241.7,241.3 L241.8,241.8 L241.8,242.2 L241.8,242.7 L241.9,243.1 L241.9,243.6 L241.9,244.0 L242.0,244.5 L242.0,244.9 L242.1,245.4 L242.1,245.8 L242.1,246.3 L242.2,246.7 L242.2,247.2 L242.3,247.6 L242.3,248.1 L242.3,248.5 L242.4,249.0 L242.4,249.4 L242.5,249.9 L242.5,250.3 L242.5,250.8 L242.6,251.2 L242.6,251.7 L242.6,252.1 L242.7,252.6 L242.7,253.0 L242.8,253.5 L242.8,253.9 L242.8,254.4 L242.9,254.8 L242.9,255.3 L243.0,255.7 L243.0,256.2 L243.0,256.6 L243.1,257.1 L243.1,257.5 L243.2,258.0 L243.2,258.4 L243.2,258.9 L243.3,259.3 L243.3,259.8 L243.3,260.2 L243.4,260.7 L243.4,261.1 L243.5,261.6 L243.5,262.0 L243.6,262.5 L243.6,262.9 L243.7,263.4 L243.7,263.8 L243.8,264.3 L243.8,264.7 L243.9,265.2 L244.0,265.7 L244.0,266.1 L244.1,266.6 L244.1,267.0 L244.2,267.5 L244.2,267.9 L244.3,268.4 L244.4,268.9 L244.4,269.3 L244.5,269.8 L244.5,270.2 L244.6,270.7 L244.6,271.1 L244.7,271.6 L244.8,272.1 L244.8,272.5 L244.9,273.0 L244.9,273.4 L245.0,273.9 L245.0,274.3 L245.1,274.8 L245.2,275.3 L245.2,275.7 L245.3,276.2 L245.3,276.6 L245.4,277.1 L245.4,277.5 L245.5,278.0 L245.6,278.4 L245.7,278.9 L245.8,279.4 L245.9,279.8 L246.0,280.2 L246.1,280.7 L246.2,281.1 L246.3,281.6 L246.4,282.1 L246.5,282.5 L246.6,282.9 L246.7,283.4 L246.8,283.9 L246.9,284.3 L247.0,284.8 L247.1,285.2 L247.2,285.6 L247.3,286.1 L247.4,286.6 L247.5,287.0 L247.7,287.4 L247.9,287.9 L248.0,287.4 L248.2,287.9 L248.4,288.4 L248.6,289.0 L248.8,289.7 L248.9,290.4 L249.1,291.1 L249.3,291.8 L249.5,292.4 L249.6,293.0 L249.8,293.5 L250.0,293.9 L250.2,294.2 L250.4,294.4 L250.6,294.5 L250.8,294.6 L251.0,294.8 L251.2,294.9 L251.4,295.1 L251.6,295.5 L251.8,295.9 L252.0,296.4 L252.4,297.2 L252.7,298.0 L253.1,298.8 L253.5,299.3 L253.8,299.5 L254.2,299.3 L254.5,299.1 L254.9,298.9 L255.3,299.0 L255.6,299.4 L256.0,300.2 L256.4,300.9 L256.9,301.6 L257.3,301.8 L257.7,301.6 L258.1,301.1 L258.6,300.6 L259.0,300.6 L259.4,301.0 L259.9,301.8 L260.3,302.5 L260.7,303.0 L261.1,302.9 L261.6,302.5 L262.0,302.0 L262.5,301.7 L262.9,302.0 L263.4,302.7 L263.8,303.5 L264.3,304.0 L264.8,303.9 L265.2,303.4 L265.7,302.9 L266.2,302.6 L266.6,303.0 L267.1,303.7 L267.5,304.5 L268.0,304.9 L268.5,304.7 L268.9,304.0 L269.4,303.3 L269.9,303.1 L270.3,303.4 L270.8,304.0 L271.3,304.6 L271.8,304.8 L272.2,304.5 L272.7,303.8 L273.2,303.2 L273.6,303.0 L274.1,303.4 L274.6,304.2 L275.0,304.7 L275.5,304.8 L275.9,304.3 L276.4,303.7 L276.9,303.1 L277.3,303.1 L277.8,303.6 L278.3,304.3 L278.7,304.8 L279.2,304.8 L279.6,304.3 L280.1,303.6 L280.6,303.2 L281.0,303.2 L281.5,303.7 L281.9,304.4 L282.4,304.9 L282.9,304.8 L283.3,304.3 L283.8,303.6 L284.3,303.2 L284.7,303.3 L285.2,303.9 L285.6,304.6 L286.1,305.0 L286.6,304.8 L287.0,304.2 L287.5,303.6 L287.9,303.2 L288.4,303.3 L288.8,303.9 L289.3,304.5 L289.8,304.9 L290.2,304.7 L290.7,304.1 L291.1,303.4 L291.6,303.1 L292.1,303.2 L292.5,303.8 L293.0,304.5 L293.4,304.8 L293.9,304.6 L294.3,304.0 L294.8,303.3 L295.3,303.0 L295.7,303.2 L296.2,303.8 L296.6,304.4 L297.1,304.7 L297.5,304.5 L298.0,303.8 L298.5,303.1 L299.0,302.9 L299.5,303.3 L300.0,304.0 L300.5,304.6 L301.0,304.6 L301.5,304.1 L302.0,303.3 L302.4,302.8 L302.9,302.9 L303.3,303.3 L303.8,303.9 L304.2,304.2 L304.7,304.1 L305.1,303.5 L305.6,302.8 L306.0,302.2 L306.4,302.1 L306.9,302.5 L307.3,303.1 L307.8,303.5 L308.2,303.5 L308.7,303.0 L309.1,302.2 L309.6,301.6 L310.0,301.4 L310.4,301.8 L310.9,302.4 L311.4,302.8 L311.8,302.9 L312.2,302.4 L312.7,301.6 L313.1,301.0 L313.6,300.8 L314.1,301.1 L314.5,301.7 L314.9,302.2 L315.4,302.2 L315.9,301.8 L316.3,301.0 L316.8,300.4 L317.2,300.1 L317.6,300.4 L318.1,301.0 L318.6,301.5 L319.0,301.6 L319.4,301.2 L319.9,300.4 L320.4,299.7 L320.8,299.4 L321.2,299.6 L321.7,300.1 L322.1,300.6 L322.6,300.7 L323.1,300.3 L323.5,299.6 L323.9,298.8 L324.4,298.5 L324.9,298.6 L325.3,299.2 L325.8,299.7 L326.2,299.8 L326.6,299.5 L327.1,298.7 L327.6,298.0 L328.0,297.6 L328.4,297.5 L328.7,297.6 L329.1,297.9 L329.5,298.0 L329.8,297.9 L330.2,297.5 L330.5,296.7 L330.9,295.9 L331.3,295.1 L331.6,294.6 L332.0,294.5 L332.4,294.6 L332.7,294.9 L333.1,295.1 L333.5,295.0 L333.8,294.5 L334.2,293.8 L334.5,292.9 L334.9,292.2 L335.3,291.7 L335.6,291.6 L336.0,291.7 L336.4,291.9 L336.7,292.1 L337.1,292.0 L337.4,291.6 L337.8,290.9 L338.1,290.1 L338.5,289.3 L338.8,288.8 L339.2,288.5 L339.5,288.6 L339.9,288.8 L340.2,289.0 L340.6,289.0 L340.9,288.7 L341.3,288.1 L341.6,287.3 L342.0,286.5 L342.3,285.9 L342.6,285.5 L342.9,285.3 L343.2,285.2 L343.5,285.3 L343.8,285.3 L344.1,285.2 L344.4,285.0 L344.7,284.5 L345.0,283.9 L345.3,283.1 L345.6,282.4 L345.9,281.8 L346.2,281.4 L346.5,281.2 L346.8,281.1 L347.1,281.0 L347.4,281.0 L347.7,280.9 L348.0,280.6 L348.3,280.2 L348.6,279.6 L348.9,279.0 L349.1,278.3 L349.4,277.8 L349.7,277.3 L350.0,276.9 L350.3,276.7 L350.6,276.6 L350.9,276.5 L351.1,276.4 L351.4,276.2 L351.7,275.9 L352.0,275.4 L352.3,274.9 L352.6,274.3 L352.9,273.7 L353.1,273.2 L353.4,272.7 L353.7,272.4 L354.0,272.2 L354.3,272.1 L354.6,272.0 L354.9,271.8 L355.2,271.5 L355.5,271.1 L355.8,270.6 L356.1,270.1 L356.4,269.6 L356.7,269.1 L357.0,268.7 L357.3,268.3 L357.6,268.1 L357.9,267.9 L358.2,267.7 L358.5,267.5 L358.8,267.2 L359.1,266.8 L359.4,266.4 L359.7,265.9 L360.0,265.4 L360.2,264.9 L360.5,264.5 L360.8,264.1 L361.0,263.7 L361.2,263.4 L361.5,263.1 L361.8,262.8 L362.0,262.5 L362.2,262.1 L362.5,261.7 L362.8,261.3 L363.0,260.9 L363.2,260.4 L363.5,260.0 L363.8,259.5 L364.0,259.1 L364.3,258.7 L364.5,258.3 L364.8,258.0 L365.0,257.6 L365.3,257.3 L365.6,257.0 L365.8,256.6 L366.1,256.2 L366.3,255.8 L366.6,255.5 L366.9,255.1 L367.1,254.7 L367.4,254.3 L367.7,253.9 L367.9,253.5 L368.2,253.1 L368.4,252.8 L368.7,252.4 L369.0,252.0 L369.2,251.6 L369.5,251.3 L369.7,250.9 L370.0,250.5 L370.3,250.1 L370.5,249.8 L370.8,249.4 L371.0,249.0 L371.3,248.7 L371.6,248.3 L371.8,247.9 L372.1,247.5 L372.3,247.2 L372.6,246.8 L372.9,246.4 L373.1,246.1 L373.4,245.7 L373.7,245.3 L373.9,245.0 L374.2,244.6 L374.4,244.2 L374.7,243.8 L375.0,243.5 L375.2,243.1 L375.5,242.7 L375.7,242.4 L376.0,242.0 L376.3,241.6 L376.5,241.3 L376.8,240.9 L377.0,240.5 L377.3,240.2 L377.6,239.8 L377.8,239.4 L378.1,239.0 L378.3,238.7 L378.6,238.3 L378.9,237.9 L379.1,237.6 L379.4,237.2 L379.7,236.8 L379.9,236.5 L380.2,236.1 L380.4,235.7 L380.7,235.3 L381.0,235.0 L381.2,234.6 L381.5,234.2 L381.7,233.9 L382.0,233.5 L382.2,233.1 L382.5,232.7 L382.7,232.3 L382.9,231.9 L383.1,231.5 L383.4,231.1 L383.6,230.7 L383.8,230.3 L384.1,229.9 L384.3,229.5 L384.5,229.1 L384.8,228.7 L385.0,228.3 L385.2,227.9 L385.5,227.5 L385.7,227.1 L385.9,226.7 L386.1,226.3 L386.4,225.9 L386.6,225.5 L386.9,225.1 L387.1,224.7 L387.4,224.4 L387.6,224.0 L387.9,223.6 L388.1,223.2 L388.4,222.8 L388.6,222.5 L388.9,222.1 L389.2,221.7 L389.4,221.3 L389.7,220.9 L389.9,220.6 L390.2,220.2 L390.4,219.8 L390.7,219.4 L391.0,219.0 L391.2,218.7 L391.5,218.3 L391.7,217.9 L392.0,217.5 L392.2,217.1 L392.5,216.8 L392.7,216.4 L393.0,216.0 L393.3,215.6 L393.5,215.2 L393.8,214.8 L394.1,214.5 L394.3,214.1 L394.6,213.7 L394.9,213.3 L395.1,212.9 L395.4,212.5 L395.7,212.1 L395.9,211.7 L396.2,211.4 L396.5,211.0 L396.7,210.6 L397.0,210.2 L397.3,209.8 L397.5,209.4 L397.8,209.0 L398.1,208.6 L398.3,208.2 L398.6,207.8 L398.9,207.4 L399.1,207.1 L399.4,206.7 L399.7,206.3 L399.9,205.9 L400.2,205.5 L400.5,205.1 L400.7,204.7 L401.0,204.3 L401.3,203.9 L401.6,203.6 L401.9,203.2 L402.2,202.9 L402.5,202.5 L402.8,202.2 L403.2,201.8 L403.5,201.5 L403.8,201.1 L404.1,200.8 L404.4,200.4 L404.7,200.1 L405.0,199.7 L405.3,199.3 L405.7,199.0 L406.0,198.6 L406.3,198.3 L406.7,197.9 L407.0,197.6 L407.3,197.2 L407.7,196.9 L408.0,196.6 L408.3,196.2 L408.7,195.8 L409.0,195.5 L409.4,195.2 L409.7,194.9 L410.1,194.5 L410.5,194.2 L410.8,193.9 L411.2,193.6 L411.5,193.3 L411.9,193.0 L412.3,192.6 L412.6,192.3 L413.0,192.0 L413.4,191.7 L413.7,191.4 L414.1,191.1 L414.5,190.8 L414.8,190.5 L415.2,190.3 L415.5,190.0 L415.9,189.7 L416.3,189.4 L416.6,189.1 L417.0,188.8 L417.4,188.5 L417.7,188.2 L418.1,187.9 L418.5,187.6 L418.8,187.3 L419.2,187.0 L419.5,186.7 L419.9,186.4 L420.3,186.1 L420.6,185.8 L421.0,185.5 L421.3,185.2 L421.6,184.8 L421.9,184.5 L422.2,184.1 L422.6,183.8 L422.9,183.4 L423.2,183.1 L423.5,182.8 L423.8,182.4 L424.1,182.1 L424.4,181.7 L424.8,181.4 L425.1,181.0 L425.4,180.7 L425.7,180.3 L426.0,180.0 L426.4,179.8 L426.8,179.5 L427.2,179.3 L427.6,179.1 L428.0,178.8 L428.4,178.6 L428.8,178.4 L429.2,178.1 L429.6,177.9 L430.0,177.7 L430.4,177.4 L430.8,177.2 L431.2,177.0 L431.6,176.7 L432.0,176.5 L432.4,176.3 L432.9,176.1 L433.3,176.0 L433.7,175.8 L434.1,175.6 L434.6,175.4 L435.0,175.2 L435.4,175.1 L435.9,174.9 L436.3,174.7 L436.7,174.5 L437.1,174.4 L437.6,174.2 L438.0,174.0 L438.3,173.6 L438.6,173.2 L438.9,172.8 L439.1,172.5 L439.4,172.1 L439.7,171.7 L440.0,171.3 L440.3,170.9 L440.6,170.5 L440.8,170.2 L441.1,169.8 L441.4,169.4 L441.7,169.0 L442.0,168.6 L442.4,168.2 L442.7,167.8 L443.0,167.5 L443.3,167.1 L443.7,166.7 L444.0,166.3 L444.3,166.0 L444.6,165.6 L444.9,165.3 L445.3,165.0 L445.6,164.6 L445.9,164.3 L446.2,164.0 L446.5,163.6 L446.8,163.3 L447.2,163.0 L447.5,162.7 L447.8,162.3 L448.1,162.0 L448.4,161.7 L448.7,161.3 L449.1,161.0 L449.4,160.7 L449.7,160.3 L450.0,160.0 L450.3,159.6 L450.6,159.3 L450.9,158.9 L451.1,158.6 L451.4,158.2 L451.7,157.9 L452.0,157.5 L452.3,157.1 L452.6,156.8 L452.9,156.4 L453.1,156.1 L453.4,155.7 L453.7,155.4 L454.0,155.0 L454.3,154.6 L454.6,154.3 L454.9,153.9 L455.1,153.6 L455.4,153.2 L455.7,152.9 L456.0,152.5 L456.3,152.1 L456.5,151.8 L456.8,151.4 L457.0,151.0 L457.3,150.7 L457.6,150.3 L457.8,149.9 L458.1,149.5 L458.3,149.2 L458.6,148.8 L458.9,148.4 L459.1,148.1 L459.4,147.7 L459.7,147.3 L459.9,147.0 L460.2,146.6 L460.4,146.2 L460.7,145.8 L461.0,145.5 L461.2,145.1 L461.5,144.7 L461.7,144.4 L462.0,144.0 L462.3,143.6 L462.5,143.3 L462.8,142.9 L463.0,142.5 L463.3,142.2 L463.6,141.8 L463.8,141.4 L464.1,141.0 L464.3,140.7 L464.6,140.3 L464.9,139.9 L465.1,139.6 L465.4,139.2 L465.7,138.8 L465.9,138.5 L466.2,138.1 L466.4,137.7 L466.7,137.3 L467.0,137.0 L467.2,136.6 L467.5,136.2 L467.7,135.9 L468.0,135.5 L468.2,135.1 L468.5,134.8 L468.8,134.4 L469.0,134.0 L469.2,133.6 L469.5,133.2 L469.8,132.9 L470.0,132.5 L470.2,132.1 L470.5,131.8 L470.8,131.4 L471.0,131.0 L471.2,130.6 L471.5,130.2 L471.8,129.9 L472.0,129.5 L472.2,129.1 L472.5,128.8 L472.8,128.4 L473.0,128.0 L473.3,127.6 L473.5,127.3 L473.8,126.9 L474.1,126.5 L474.3,126.2 L474.6,125.8 L474.8,125.4 L475.1,125.1 L475.4,124.7 L475.6,124.3 L475.9,123.9 L476.2,123.6 L476.4,123.2 L476.7,122.8 L476.9,122.5 L477.2,122.1 L477.5,121.7 L477.7,121.4 L478.0,121.0 L478.2,120.6 L478.5,120.2 L478.8,119.9 L479.0,119.5 L479.2,119.1 L479.5,118.8 L479.8,118.4 L480.0,118.0 L480.2,117.6 L480.5,117.2 L480.8,116.9 L481.0,116.5 L481.2,116.1 L481.5,115.8 L481.8,115.4 L482.0,115.0 L482.2,114.6 L482.5,114.2 L482.8,113.9 L483.0,113.5 L483.2,113.1 L483.5,112.8 L483.8,112.4 L484.0,112.0 L484.2,111.6 L484.5,111.2 L484.8,110.8 L485.0,110.4 L485.2,110.0 L485.5,109.6 L485.8,109.2 L486.0,108.8 L486.2,108.4 L486.5,108.0 L486.8,107.6 L487.0,107.2 L487.2,106.9 L487.5,106.5 L487.8,106.1 L488.0,105.7 L488.2,105.3 L488.5,104.9 L488.8,104.5 L489.0,104.1 L489.2,103.7 L489.5,103.3 L489.8,102.9 L490.0,102.5 L490.2,102.1 L490.5,101.7 L490.8,101.3 L491.0,100.9 L491.2,100.5 L491.5,100.1 L491.8,99.7 L492.0,99.3 L492.2,98.9 L492.5,98.5 L492.8,98.1 L493.0,97.8 L493.2,97.4 L493.5,97.0 L493.8,96.6 L494.0,96.2 L494.2,95.8 L494.5,95.4 L494.8,95.0 L495.0,94.6 L495.2,94.2 L495.5,93.8 L495.8,93.4 L496.0,93.0 L496.2,92.6 L496.5,92.2 L496.8,91.9 L497.0,91.5 L497.2,91.1 L497.5,90.8 L497.8,90.4 L498.0,90.0 L498.2,89.6 L498.5,89.2 L498.8,88.9 L499.0,88.5 L499.2,88.1 L499.5,87.8 L499.8,87.4 L500.0,87.0 L500.2,86.6 L500.5,86.2 L500.8,85.9 L501.0,85.5 L501.2,85.1 L501.5,84.8 L501.8,84.4 L502.0,84.0 L502.3,83.7 L502.7,83.4 L503.0,83.1 L503.3,82.8 L503.7,82.5 L504.0,82.2 L504.3,81.9 L504.7,81.6 L505.0,81.2 L505.3,80.9 L505.7,80.6 L506.0,80.3 L506.3,80.0 L506.7,79.7 L507.0,79.4 L507.3,79.1 L507.7,78.8 L508.0,78.5 L508.3,78.2 L508.7,77.9 L509.0,77.6 L509.3,77.3 L509.7,77.0 L510.0,76.7 L510.3,76.4 L510.7,76.1 L511.0,75.8 L511.3,75.4 L511.7,75.1 L512.0,74.8 L512.3,74.5 L512.7,74.2 L513.0,73.9 L513.3,73.6 L513.7,73.3 L514.0,73.0 L514.4,72.7 L514.8,72.4 L515.1,72.2 L515.5,71.9 L515.9,71.6 L516.3,71.3 L516.7,71.1 L517.1,70.8 L517.4,70.5 L517.8,70.2 L518.2,70.0 L518.6,69.7 L519.0,69.4 L519.4,69.1 L519.7,68.9 L520.1,68.6 L520.5,68.3 L521.0,68.5 L521.4,68.6 L521.9,68.8 L522.3,68.9 L522.8,69.0 L523.2,69.2 L523.6,69.3 L524.1,69.5 L524.5,69.3 L524.9,69.0 L525.3,68.8 L525.7,68.6 L526.1,68.3 L526.5,68.1 L526.9,67.9 L527.2,67.6 L527.6,67.4 L528.0,67.2 L528.4,66.9 L528.8,66.7 L529.2,66.5 L529.6,66.2 L530.0,66.0 L530.4,65.8 L530.8,65.5 L531.2,65.2 L531.6,65.0 L532.0,64.8 L532.5,64.5 L532.9,64.2 L533.3,64.0 L533.7,63.8 L534.1,63.5 L534.5,63.2 L534.9,63.0 L535.3,62.7 L535.6,62.4 L536.0,62.1 L536.3,61.8 L536.7,61.6 L537.1,61.3 L537.4,61.0 L537.8,60.7 L538.1,60.4 L538.5,60.1 L538.8,59.8 L539.2,59.5 L539.6,59.3 L539.9,59.0 L540.3,58.7 L540.6,58.4 L541.0,58.1 L541.5,58.2 L541.9,58.4 L542.4,58.5 L542.8,58.7 L543.2,58.9 L543.7,59.0 L544.1,59.1 L544.6,59.3 L544.9,58.9 L545.1,58.5 L545.4,58.1 L545.6,57.8 L545.9,57.4 L546.1,57.0 L546.4,56.6 L546.7,56.2 L546.9,55.8 L547.2,55.4 L547.4,55.1 L547.7,54.7 L547.9,54.3 L548.2,53.9 L548.6,54.1 L549.1,54.2 L549.5,54.4 L549.9,54.6 L550.4,54.7 L550.8,54.9 L551.3,55.0 L551.7,55.2 L552.1,55.4 L552.6,55.5 L553.0,55.7 L553.4,55.4 L553.8,55.2 L554.2,54.9 L554.6,54.6 L555.0,54.4 L555.4,54.1 L555.8,53.8 L556.2,53.6 L556.6,53.3 L557.0,53.6 L557.3,53.9 L557.6,54.2 L558.0,54.5 L558.4,54.8 L558.7,55.1 L559.0,55.4 L559.4,55.7 L559.8,56.0 L560.1,56.3 L560.4,56.6 L560.8,56.9 L561.3,56.8 L561.7,56.7 L562.2,56.6 L562.7,56.5 L563.1,56.4 L563.6,56.3 L564.1,56.3 L564.6,56.2 L565.0,56.1 L565.5,56.0 L566.0,55.9 L566.4,55.8 L566.9,55.7 L567.2,55.4 L567.6,55.0 L567.9,54.7 L568.3,54.3 L568.6,54.0 L569.0,53.6 L569.3,53.3 L569.5,53.7 L569.7,54.1 L569.8,54.6 L570.0,55.0 L570.2,55.4 L570.4,55.8 L570.6,56.2 L570.7,56.7 L570.9,57.1 L571.1,57.5 L571.3,57.9 L571.5,58.3 L571.6,58.8 L571.8,59.2 L572.0,59.6 L572.2,60.0 L572.4,60.4 L572.5,60.9 L572.7,61.3 L572.9,61.7 L573.3,62.0 L573.7,62.3 L574.2,62.7 L574.6,63.0 L575.0,63.3 L575.5,63.3 L576.0,63.3 L576.5,63.3 L577.0,63.3 L577.5,63.3 L577.8,63.6 L578.1,64.0 L578.4,64.3 L578.7,64.7 L579.0,65.0 L579.2,65.4 L579.5,65.8 L579.8,66.2 L580.0,66.6 L580.2,67.0 L580.5,67.4 L580.8,67.8 L581.0,68.2 L581.2,68.6 L581.5,69.0 L581.9,68.7 L582.3,68.4 L582.6,68.2 L583.0,67.9 L583.4,67.6 L583.8,67.3 L584.1,67.6 L584.5,68.0 L584.8,68.3 L585.2,68.7 L585.5,69.0 L585.8,69.4 L586.1,69.7 L586.4,70.1 L586.6,70.5 L586.9,70.9 L587.2,71.2 L587.5,71.6 L587.8,72.0 L588.1,72.3 L588.5,72.7 L588.8,73.0 L589.1,73.4 L589.4,73.7 L589.7,74.1 L590.0,74.4 L590.4,74.8 L590.7,75.1 L591.0,75.5 L591.4,75.8 L591.7,76.1 L592.1,76.4 L592.5,76.6 L592.8,76.9 L593.2,77.2 L593.6,77.5 L594.0,77.8 L594.3,78.1 L594.7,78.3 L595.1,78.6 L595.4,78.9 L595.8,79.2 L596.1,79.5 L596.4,79.9 L596.7,80.2 L597.0,80.6 L597.3,81.0 L597.6,81.3 L597.9,81.7 L598.2,82.0 L598.5,82.4 L598.8,82.7 L599.1,83.1 L599.4,83.4 L599.6,83.0 L599.8,82.6 L600.0,82.2 L600.2,81.7 L600.3,81.3 L600.5,80.9 L600.7,80.5 L600.9,80.1 L601.1,79.7 L601.3,79.2 L601.5,78.8 L601.7,78.4 L601.9,78.0 L602.1,77.6 L602.2,77.2 L602.4,76.7 L602.6,76.3 L602.8,75.9 L603.0,75.5 L603.3,75.9 L603.6,76.3 L603.9,76.7 L604.2,77.0 L604.5,77.4 L604.8,77.8 L605.1,78.2 L605.4,78.6 L605.5,79.0 L605.7,79.5 L605.8,79.9 L605.9,80.4 L606.1,80.8 L606.2,81.2 L606.3,81.7 L606.5,82.1 L606.6,82.5 L606.7,83.0 L606.9,83.4 L607.0,83.9 L607.1,84.3 L607.3,84.7 L607.4,85.2 L607.5,85.6 L607.7,86.1 L607.8,86.5 L608.0,87.0 L608.1,87.4 L608.3,87.9 L608.4,88.3 L608.6,88.8 L608.7,89.2 L608.9,89.7 L609.0,90.1 L609.2,90.6 L609.3,91.0 L609.5,91.5 L609.7,91.9 L609.8,92.3 L610.0,92.8 L610.2,93.2 L610.4,93.6 L610.5,94.0 L610.7,94.5 L610.9,94.9 L611.0,95.3 L611.2,95.8 L611.4,96.2 L611.5,96.6 L611.7,97.0 L611.9,97.5 L612.1,97.9 L612.2,98.3 L612.4,98.7 L612.6,99.2 L612.7,99.6 L612.9,100.0 L613.1,100.4 L613.3,100.8 L613.4,101.3 L613.6,101.7 L613.8,102.1 L614.0,102.5 L614.1,102.9 L614.3,103.4 L614.5,103.8 L614.7,104.2 L614.8,104.6 L615.0,105.0 L615.2,105.4 L615.4,105.8 L615.6,106.3 L615.7,106.7 L615.9,107.1 L616.1,107.5 L616.3,107.9 L616.4,108.3 L616.6,108.8 L616.8,109.2 L617.0,109.6 L617.2,110.0 L617.3,110.4 L617.5,110.8 L617.7,111.2 L617.9,111.7 L618.0,112.1 L618.2,112.5 L618.4,112.9 L618.6,113.3 L618.8,113.7 L619.0,114.1 L619.2,114.5 L619.3,115.0 L619.5,115.4 L619.7,115.8 L619.9,116.2 L620.1,116.6 L620.3,117.0 L620.5,117.4 L620.7,117.8 L620.9,118.2 L621.0,118.7 L621.2,119.1 L621.4,119.5 L621.6,119.9 L621.8,120.3 L622.0,120.7 L622.2,121.1 L622.4,121.5 L622.6,121.9 L622.7,122.4 L622.9,122.8 L623.1,123.2 L623.3,123.6 L623.5,124.0 L623.9,124.2 L624.3,124.5 L624.7,124.7 L625.2,124.9 L625.6,125.2 L626.0,125.4 L626.4,125.6 L626.8,125.8 L627.2,126.1 L627.7,126.3 L628.1,126.5 L628.5,126.8 L628.9,127.0 L629.4,127.1 L629.8,127.2 L630.3,127.3 L630.7,127.5 L631.2,127.6 L631.6,127.7 L632.1,127.8 L632.6,127.9 L633.0,128.0 L633.5,128.1 L633.9,128.3 L634.4,128.4 L634.8,128.5 L635.3,128.6 L635.7,128.8 L636.2,129.0 L636.6,129.3 L637.0,129.5 L637.5,129.7 L637.9,129.9 L638.4,130.1 L638.8,130.3 L639.2,130.6 L639.7,130.8 L640.1,131.0 L640.6,131.1 L641.0,131.2 L641.5,131.3 L641.9,131.5 L642.4,131.6 L642.8,131.7 L643.3,131.8 L643.7,131.5 L644.1,131.2 L644.5,130.9 L644.9,130.6 L645.3,130.3 L645.7,130.0 L646.1,129.7 L646.5,129.4 L646.9,129.5 L647.4,129.5 L647.8,129.6 L648.3,129.7 L648.7,129.8 L649.2,129.8 L649.6,129.9 L650.1,130.0 L650.5,130.1 L651.0,130.1 L651.4,130.2 L651.7,129.8 L652.0,129.5 L652.3,129.1 L652.6,128.8 L652.9,128.4 L653.2,128.1 L653.5,127.7 L653.8,127.4 L654.1,127.0 L654.4,126.7 L654.7,126.3 L655.0,126.0 L655.3,125.6 L655.6,125.3 L655.9,124.9 L656.2,124.6 L656.5,124.2 L656.8,123.9 L657.1,123.5 L657.4,123.2 L657.8,122.8 L658.1,122.5 L658.4,122.1 L658.7,121.8 L659.0,121.4 L659.3,121.0 L659.6,120.7 L659.9,120.3 L660.2,120.0 L660.6,119.6 L660.9,119.3 L661.2,118.9 L661.5,118.6 L661.8,118.2 L662.1,117.8 L662.4,117.3 L662.7,116.9 L663.0,116.5" fill="none" stroke="#ff0000" stroke-width="1.1" stroke-linejoin="round"/><path d="M84.2,365.2 L84.4,364.7 L84.5,364.2 L84.7,363.9 L84.9,363.6 L85.0,363.3 L85.2,363.1 L85.3,362.9 L85.5,362.7 L85.7,362.5 L85.8,362.3 L86.0,362.0 L86.2,361.7 L86.3,361.3 L86.5,360.8 L86.7,360.2 L86.8,359.6 L87.0,359.0 L87.2,358.3 L87.3,357.6 L87.5,356.9 L87.7,356.3 L87.8,355.7 L88.0,355.2 L88.1,354.7 L88.3,354.3 L88.5,354.0 L88.6,353.8 L88.8,353.6 L89.1,353.6 L89.3,353.6 L89.6,353.5 L89.9,353.3 L90.2,352.8 L90.4,352.2 L90.7,351.4 L91.0,350.6 L91.3,349.9 L91.5,349.2 L91.8,348.8 L92.1,349.3 L92.4,350.0 L92.8,350.8 L93.1,351.6 L93.4,352.2 L93.7,352.5 L94.1,352.5 L94.4,352.4 L94.7,352.3 L95.0,352.2 L95.4,352.4 L95.7,352.8 L96.0,353.5 L96.3,354.3 L96.7,355.1 L97.0,355.7 L97.3,356.1 L97.6,356.2 L98.0,356.0 L98.3,355.9 L98.6,355.8 L98.9,355.9 L99.3,356.3 L99.6,356.9 L99.9,357.7 L100.2,358.5 L100.6,359.2 L100.9,359.6 L101.3,359.1 L101.7,358.3 L102.1,357.4 L102.5,356.8 L102.9,356.6 L103.3,356.8 L103.7,357.2 L104.1,357.4 L104.5,357.3 L104.9,356.9 L105.3,356.1 L105.7,355.2 L106.1,354.6 L106.5,354.4 L107.0,354.6 L107.4,355.0 L107.8,355.3 L108.2,355.1 L108.6,354.6 L109.1,353.7 L109.5,352.9 L109.9,352.4 L110.3,352.8 L110.7,353.6 L111.2,354.5 L111.6,355.1 L112.0,355.3 L112.4,355.1 L112.8,354.7 L113.3,354.4 L113.7,354.6 L114.1,355.2 L114.6,356.0 L115.0,356.7 L115.5,357.0 L115.9,356.7 L116.4,356.2 L116.9,355.8 L117.3,355.8 L117.8,356.4 L118.3,357.2 L118.7,357.9 L119.2,358.1 L119.6,357.8 L120.1,357.2 L120.6,356.7 L121.0,356.8 L121.5,357.3 L122.0,358.1 L122.4,358.6 L122.9,358.6 L123.4,358.1 L123.9,357.4 L124.3,357.0 L124.8,357.2 L125.3,357.8 L125.7,358.6 L126.2,359.0 L126.7,358.9 L127.1,358.4 L127.6,357.8 L128.0,357.6 L128.5,357.9 L129.0,358.6 L129.4,359.4 L129.9,359.7 L130.4,359.6 L130.8,359.0 L131.3,358.5 L131.7,358.3 L132.2,358.7 L132.7,359.4 L133.1,360.1 L133.6,360.3 L134.0,360.1 L134.5,359.5 L135.0,358.9 L135.4,358.7 L135.9,359.1 L136.4,359.8 L136.8,360.5 L137.3,360.7 L137.7,360.4 L138.2,359.7 L138.7,359.2 L139.2,359.1 L139.6,359.7 L140.1,360.4 L140.6,361.0 L141.1,361.0 L141.6,360.5 L142.1,359.8 L142.6,359.5 L143.0,359.7 L143.5,360.4 L144.0,361.1 L144.4,361.6 L144.8,361.7 L145.2,361.4 L145.6,361.0 L146.0,360.8 L146.4,360.5 L146.8,360.6 L147.2,360.9 L147.6,361.2 L148.0,361.3 L148.4,360.9 L148.8,360.2 L149.2,359.4 L149.6,358.7 L150.0,358.3 L150.4,358.4 L150.8,358.7 L151.2,359.0 L151.6,359.1 L152.0,358.8 L152.5,358.1 L152.9,357.3 L153.4,356.7 L153.8,356.6 L154.3,357.1 L154.8,357.6 L155.2,357.9 L155.7,357.6 L156.2,356.9 L156.6,356.0 L157.1,355.5 L157.5,355.5 L158.0,356.0 L158.5,356.6 L158.9,356.8 L159.4,356.5 L159.9,355.8 L160.3,355.0 L160.8,354.6 L161.3,354.8 L161.8,355.4 L162.2,356.0 L162.7,356.1 L163.2,355.6 L163.6,354.8 L164.1,354.2 L164.6,353.9 L165.0,354.2 L165.5,354.8 L165.9,355.3 L166.4,355.3 L166.9,354.8 L167.3,354.0 L167.8,353.4 L168.3,353.2 L168.7,353.6 L169.2,354.2 L169.6,354.6 L170.1,354.5 L170.6,353.9 L171.0,353.1 L171.5,352.5 L171.9,352.3 L172.4,352.7 L172.9,353.2 L173.3,353.6 L173.8,353.4 L174.3,352.7 L174.7,351.9 L175.2,351.3 L175.6,351.2 L176.1,351.7 L176.6,352.3 L177.0,352.7 L177.5,352.5 L178.0,351.9 L178.4,351.1 L178.9,350.7 L179.4,350.9 L179.9,351.5 L180.3,352.1 L180.8,352.3 L181.3,352.0 L181.7,351.3 L182.2,350.6 L182.7,350.3 L183.1,350.4 L183.6,351.0 L184.0,351.4 L184.5,351.5 L185.0,351.0 L185.4,350.2 L185.9,349.5 L186.4,349.2 L186.8,349.4 L187.3,350.0 L187.7,350.4 L188.2,350.4 L188.7,349.9 L189.1,349.2 L189.6,348.6 L190.0,348.4 L190.5,348.8 L191.0,349.5 L191.4,350.0 L191.9,350.0 L192.4,349.5 L192.8,348.7 L193.3,348.2 L193.7,348.1 L194.2,348.5 L194.6,349.1 L195.1,349.5 L195.5,349.5 L196.0,348.9 L196.4,348.2 L196.9,347.6 L197.3,347.4 L197.8,347.7 L198.2,348.3 L198.7,348.7 L199.1,348.8 L199.6,348.3 L200.0,347.5 L200.4,346.8 L200.9,346.5 L201.3,346.7 L201.8,347.3 L202.2,347.7 L202.7,347.8 L203.1,347.3 L203.6,346.5 L204.0,345.8 L204.4,345.4 L204.9,345.5 L205.3,346.0 L205.8,346.5 L206.2,346.7 L206.7,346.3 L207.1,345.5 L207.6,344.8 L208.0,344.3 L208.4,344.2 L208.8,344.5 L209.2,344.9 L209.6,345.1 L210.0,344.9 L210.4,344.3 L210.8,343.4 L211.3,342.6 L211.7,342.1 L212.1,342.1 L212.5,342.4 L212.9,342.7 L213.3,342.9 L213.7,342.7 L214.1,342.1 L214.5,341.2 L214.8,340.4 L215.2,339.8 L215.5,339.6 L215.9,339.6 L216.3,339.8 L216.6,340.0 L217.0,340.1 L217.3,339.8 L217.7,339.1 L218.1,338.3 L218.5,337.4 L218.9,336.9 L219.3,336.7 L219.7,336.9 L220.1,337.3 L220.5,337.4 L220.9,337.3 L221.3,336.7 L221.5,335.9 L221.8,335.2 L222.0,334.4 L222.3,333.8 L222.5,333.2 L222.7,332.8 L223.0,332.6 L223.2,332.5 L223.5,332.4 L223.7,332.4 L223.9,332.3 L224.2,332.1 L224.4,331.8 L224.7,331.3 L224.9,330.7 L225.1,330.1 L225.2,329.4 L225.4,328.7 L225.6,328.0 L225.7,327.4 L225.9,326.7 L226.0,327.0 L226.2,326.6 L226.4,326.2 L226.5,325.7 L226.7,325.3 L226.9,324.9 L227.0,324.4 L227.2,324.0 L227.4,323.6 L227.5,323.1 L227.7,322.7 L227.8,322.2 L228.0,321.8 L228.2,321.4 L228.3,320.9 L228.5,320.5 L228.6,320.1 L228.8,319.6 L228.9,319.2 L229.0,318.7 L229.2,318.3 L229.3,317.9 L229.5,317.4 L229.6,317.0 L229.7,316.5 L229.9,316.1 L230.0,315.6 L230.1,315.2 L230.3,314.8 L230.4,314.3 L230.5,313.9 L230.7,313.4 L230.8,313.0 L231.0,312.6 L231.1,312.1 L231.2,311.7 L231.4,311.2 L231.5,310.8 L231.6,310.4 L231.6,309.9 L231.7,309.4 L231.8,309.0 L231.8,308.6 L231.9,308.1 L231.9,307.7 L232.0,307.2 L232.1,306.8 L232.1,306.3 L232.2,305.9 L232.2,305.4 L232.3,304.9 L232.4,304.5 L232.4,304.1 L232.5,303.6 L232.6,303.1 L232.6,302.7 L232.7,302.2 L232.8,301.8 L232.8,301.4 L232.9,300.9 L232.9,300.4 L233.0,300.0 L233.1,299.6 L233.2,299.1 L233.3,298.7 L233.3,298.2 L233.4,297.8 L233.5,297.3 L233.6,296.9 L233.7,296.4 L233.8,296.0 L233.9,295.5 L234.0,295.1 L234.0,294.6 L234.1,294.2 L234.2,293.7 L234.3,293.3 L234.3,292.8 L234.4,292.4 L234.4,291.9 L234.5,291.5 L234.5,291.0 L234.5,290.6 L234.6,290.1 L234.6,289.7 L234.7,289.2 L234.7,288.8 L234.7,288.3 L234.8,287.9 L234.8,287.4 L234.9,287.0 L234.9,286.5 L234.9,286.1 L235.0,285.6 L235.0,285.2 L235.1,284.7 L235.1,284.3 L235.1,283.8 L235.2,283.4 L235.2,282.9 L235.3,282.5 L235.3,282.0 L235.3,281.5 L235.4,281.1 L235.4,280.6 L235.5,280.2 L235.5,279.7 L235.6,279.3 L235.6,278.8 L235.7,278.4 L235.7,277.9 L235.8,277.5 L235.8,277.0 L235.8,276.6 L235.9,276.1 L235.9,275.7 L236.0,275.2 L236.0,274.8 L236.1,274.3 L236.1,273.9 L236.2,273.4 L236.2,273.0 L236.2,272.5 L236.3,272.1 L236.3,271.6 L236.4,271.2 L236.4,270.7 L236.5,270.3 L236.5,269.8 L236.6,269.4 L236.6,268.9 L236.7,268.5 L236.7,268.0 L236.8,267.5 L236.8,267.1 L236.9,266.6 L236.9,266.2 L237.0,265.7 L237.0,265.3 L237.1,264.8 L237.2,264.4 L237.2,263.9 L237.3,263.5 L237.3,263.0 L237.4,262.6 L237.5,262.1 L237.5,261.7 L237.6,261.2 L237.6,260.8 L237.7,260.3 L237.7,259.9 L237.8,259.4 L237.9,259.0 L237.9,258.5 L238.0,258.1 L238.0,257.6 L238.1,257.2 L238.2,256.7 L238.2,256.3 L238.3,255.8 L238.3,255.4 L238.4,254.9 L238.4,254.5 L238.5,254.0 L238.6,253.6 L238.6,253.1 L238.7,252.7 L238.7,252.2 L238.8,251.8 L238.8,251.3 L238.9,250.8 L238.9,250.4 L239.0,249.9 L239.1,249.5 L239.1,249.1 L239.2,248.6 L239.2,248.2 L239.3,247.7 L239.3,247.2 L239.4,246.8 L239.4,246.3 L239.5,245.9 L239.5,245.4 L239.6,245.0 L239.8,244.5 L239.9,244.0 L240.1,243.6 L240.3,243.1 L240.4,242.6 L240.6,242.1 L240.7,242.5 L240.9,243.0 L241.0,243.4 L241.1,243.9 L241.2,244.3 L241.4,244.8 L241.5,245.2 L241.6,245.7 L241.7,246.1 L241.9,246.6 L242.0,247.0 L242.1,247.5 L242.1,247.9 L242.2,248.4 L242.3,248.9 L242.3,249.3 L242.4,249.8 L242.5,250.3 L242.5,250.7 L242.6,251.2 L242.7,251.7 L242.7,252.1 L242.8,252.6 L242.9,253.1 L242.9,253.5 L243.0,254.0 L243.1,254.5 L243.1,254.9 L243.2,255.4 L243.3,255.9 L243.3,256.3 L243.4,256.8 L243.5,257.2 L243.5,257.7 L243.6,258.1 L243.6,258.6 L243.7,259.0 L243.7,259.5 L243.8,259.9 L243.8,260.4 L243.9,260.8 L244.0,261.3 L244.0,261.7 L244.1,262.2 L244.1,262.6 L244.2,263.1 L244.2,263.5 L244.3,264.0 L244.4,264.4 L244.4,264.9 L244.5,265.3 L244.5,265.8 L244.6,266.2 L244.6,266.7 L244.7,267.1 L244.7,267.6 L244.8,268.0 L244.9,268.4 L244.9,268.9 L245.0,269.3 L245.1,269.8 L245.2,270.2 L245.2,270.7 L245.3,271.1 L245.4,271.6 L245.5,272.0 L245.5,272.5 L245.6,272.9 L245.7,273.4 L245.8,273.8 L245.8,274.3 L245.9,274.7 L246.0,275.2 L246.1,275.6 L246.1,276.1 L246.2,276.5 L246.4,276.9 L246.6,277.3 L246.8,277.8 L247.1,278.2 L247.3,278.6 L247.5,279.0 L247.7,279.5 L247.9,279.9 L248.1,279.4 L248.4,280.0 L248.6,280.6 L248.8,281.3 L249.0,282.1 L249.3,282.9 L249.6,283.5 L250.0,283.9 L250.3,284.0 L250.6,283.9 L250.9,283.8 L251.3,283.7 L251.6,283.8 L251.9,284.2 L252.1,284.7 L252.3,285.4 L252.6,286.1 L252.8,286.9 L253.0,287.6 L253.3,288.2 L253.6,288.6 L253.9,288.7 L254.2,288.6 L254.6,288.5 L254.9,288.4 L255.2,288.5 L255.5,288.9 L255.8,289.5 L256.1,290.3 L256.4,291.1 L256.8,291.8 L257.1,292.4 L257.4,292.6 L257.7,292.7 L258.0,292.6 L258.4,292.2 L258.8,292.1 L259.2,292.4 L259.6,293.0 L260.0,293.9 L260.4,294.6 L260.8,295.0 L261.2,295.0 L261.6,294.7 L262.0,294.4 L262.4,294.2 L262.8,294.5 L263.2,295.1 L263.6,295.9 L264.0,296.7 L264.4,297.1 L264.9,297.1 L265.3,296.7 L265.7,296.3 L266.1,296.2 L266.6,296.5 L267.0,297.3 L267.4,298.2 L267.9,298.8 L268.3,299.0 L268.7,298.7 L269.1,298.3 L269.6,298.0 L270.0,298.1 L270.5,298.7 L270.9,299.6 L271.4,300.3 L271.8,300.5 L272.3,300.3 L272.7,299.8 L273.2,299.4 L273.6,299.5 L274.1,300.0 L274.6,300.7 L275.0,301.2 L275.5,301.3 L275.9,300.8 L276.4,300.1 L276.9,299.6 L277.3,299.5 L277.8,299.9 L278.3,300.6 L278.7,301.1 L279.2,301.1 L279.6,300.6 L280.1,299.8 L280.6,299.3 L281.0,299.3 L281.5,299.8 L281.9,300.5 L282.4,300.9 L282.9,300.9 L283.3,300.3 L283.8,299.6 L284.3,299.1 L284.7,299.2 L285.2,299.7 L285.6,300.4 L286.1,300.8 L286.6,300.6 L287.0,300.0 L287.5,299.3 L287.9,298.9 L288.4,299.0 L288.8,299.6 L289.3,300.2 L289.7,300.6 L290.2,300.4 L290.6,299.8 L291.1,299.1 L291.6,298.7 L292.0,298.8 L292.5,299.4 L292.9,300.0 L293.4,300.4 L293.8,300.2 L294.3,299.6 L294.7,298.9 L295.2,298.5 L295.6,298.6 L296.1,299.1 L296.5,299.8 L297.0,300.2 L297.5,300.0 L297.9,299.4 L298.4,298.7 L298.8,298.3 L299.3,298.4 L299.7,298.9 L300.2,299.6 L300.6,300.0 L301.1,299.8 L301.5,299.2 L302.0,298.5 L302.5,298.1 L302.9,298.2 L303.4,298.8 L303.9,299.4 L304.4,299.7 L304.8,299.4 L305.3,298.8 L305.8,298.1 L306.2,297.8 L306.7,298.1 L307.2,298.7 L307.6,299.3 L308.1,299.4 L308.6,299.0 L309.1,298.3 L309.5,297.7 L310.0,297.5 L310.4,297.9 L310.9,298.5 L311.4,299.1 L311.8,299.1 L312.2,298.7 L312.7,298.0 L313.1,297.4 L313.6,297.2 L314.1,297.5 L314.5,298.2 L314.9,298.7 L315.4,298.8 L315.9,298.4 L316.3,297.7 L316.8,297.1 L317.2,296.9 L317.6,297.2 L318.1,297.8 L318.6,298.4 L319.0,298.5 L319.4,298.1 L319.9,297.3 L320.4,296.6 L320.8,296.3 L321.2,296.5 L321.7,297.0 L322.1,297.5 L322.6,297.6 L323.1,297.2 L323.5,296.5 L323.9,295.7 L324.4,295.4 L324.9,295.5 L325.3,296.1 L325.8,296.6 L326.2,296.7 L326.6,296.4 L327.1,295.6 L327.6,294.9 L328.0,294.5 L328.4,294.4 L328.8,294.6 L329.1,295.0 L329.5,295.1 L329.9,295.0 L330.3,294.5 L330.7,293.7 L331.0,292.9 L331.4,292.3 L331.8,292.0 L332.2,292.0 L332.6,292.3 L333.0,292.6 L333.3,292.7 L333.7,292.4 L334.1,291.7 L334.5,290.9 L334.9,290.1 L335.2,289.6 L335.6,289.5 L336.0,289.7 L336.4,290.0 L336.8,290.2 L337.1,290.1 L337.5,289.7 L337.9,289.0 L338.2,288.1 L338.6,287.5 L339.0,287.1 L339.4,287.1 L339.8,287.4 L340.1,287.7 L340.5,287.8 L340.9,287.6 L341.2,287.0 L341.6,286.3 L342.0,285.5 L342.3,284.9 L342.6,284.5 L342.9,284.3 L343.2,284.2 L343.5,284.3 L343.8,284.3 L344.1,284.2 L344.4,284.0 L344.7,283.5 L345.0,282.9 L345.3,282.1 L345.6,281.4 L345.9,280.8 L346.2,280.4 L346.5,280.2 L346.8,280.1 L347.1,280.0 L347.4,280.0 L347.7,279.9 L348.0,279.6 L348.3,279.2 L348.6,278.6 L348.9,278.0 L349.1,277.3 L349.4,276.7 L349.7,276.2 L350.0,275.9 L350.3,275.7 L350.6,275.5 L350.9,275.4 L351.1,275.3 L351.4,275.1 L351.7,274.8 L352.0,274.3 L352.3,273.7 L352.6,273.1 L352.9,272.5 L353.1,272.0 L353.4,271.6 L353.7,271.2 L354.0,271.0 L354.3,270.9 L354.6,270.8 L354.9,270.6 L355.3,270.3 L355.6,269.9 L355.9,269.4 L356.2,268.9 L356.5,268.3 L356.8,267.9 L357.2,267.5 L357.5,267.2 L357.8,267.0 L358.1,266.8 L358.4,266.6 L358.7,266.4 L359.1,266.0 L359.4,265.6 L359.7,265.1 L360.0,264.6 L360.2,264.1 L360.5,263.7 L360.7,263.2 L360.9,262.8 L361.2,262.5 L361.4,262.1 L361.6,261.8 L361.9,261.5 L362.1,261.1 L362.4,260.8 L362.6,260.3 L362.8,259.9 L363.1,259.4 L363.3,259.0 L363.5,258.5 L363.8,258.0 L364.0,257.6 L364.3,257.2 L364.5,256.8 L364.8,256.5 L365.0,256.1 L365.3,255.8 L365.6,255.5 L365.8,255.1 L366.1,254.7 L366.3,254.3 L366.6,254.0 L366.9,253.6 L367.1,253.2 L367.4,252.8 L367.7,252.4 L367.9,252.0 L368.2,251.6 L368.4,251.3 L368.7,250.9 L369.0,250.5 L369.2,250.1 L369.5,249.8 L369.7,249.4 L370.0,249.0 L370.3,248.6 L370.5,248.3 L370.8,247.9 L371.0,247.5 L371.3,247.2 L371.6,246.8 L371.8,246.4 L372.1,246.0 L372.3,245.7 L372.6,245.3 L372.9,244.9 L373.1,244.6 L373.4,244.2 L373.7,243.8 L373.9,243.5 L374.2,243.1 L374.4,242.7 L374.7,242.3 L375.0,242.0 L375.2,241.6 L375.5,241.2 L375.7,240.9 L376.0,240.5 L376.3,240.1 L376.5,239.8 L376.8,239.4 L377.0,239.0 L377.3,238.7 L377.6,238.3 L377.8,237.9 L378.1,237.5 L378.3,237.2 L378.6,236.8 L378.9,236.4 L379.1,236.1 L379.4,235.7 L379.7,235.3 L379.9,235.0 L380.2,234.6 L380.4,234.2 L380.7,233.8 L381.0,233.5 L381.2,233.1 L381.5,232.7 L381.7,232.4 L382.0,232.0 L382.2,231.6 L382.5,231.2 L382.7,230.8 L382.9,230.4 L383.1,230.0 L383.4,229.6 L383.6,229.2 L383.8,228.8 L384.1,228.4 L384.3,228.0 L384.5,227.6 L384.8,227.2 L385.0,226.8 L385.2,226.4 L385.5,226.0 L385.7,225.6 L385.9,225.2 L386.1,224.8 L386.4,224.4 L386.6,224.0 L386.9,223.6 L387.1,223.2 L387.4,222.9 L387.6,222.5 L387.9,222.1 L388.1,221.7 L388.4,221.3 L388.6,221.0 L388.9,220.6 L389.2,220.2 L389.4,219.8 L389.7,219.4 L389.9,219.1 L390.2,218.7 L390.4,218.3 L390.7,217.9 L391.0,217.5 L391.2,217.2 L391.5,216.8 L391.7,216.4 L392.0,216.0 L392.2,215.6 L392.5,215.3 L392.7,214.9 L393.0,214.5 L393.3,214.1 L393.5,213.7 L393.8,213.3 L394.1,213.0 L394.3,212.6 L394.6,212.2 L394.9,211.8 L395.1,211.4 L395.4,211.0 L395.7,210.6 L395.9,210.2 L396.2,209.9 L396.5,209.5 L396.7,209.1 L397.0,208.7 L397.3,208.3 L397.5,207.9 L397.8,207.5 L398.1,207.1 L398.3,206.7 L398.6,206.3 L398.9,205.9 L399.1,205.6 L399.4,205.2 L399.7,204.8 L399.9,204.4 L400.2,204.0 L400.5,203.6 L400.7,203.2 L401.0,202.8 L401.3,202.4 L401.6,202.1 L401.9,201.7 L402.2,201.4 L402.5,201.0 L402.8,200.7 L403.2,200.3 L403.5,200.0 L403.8,199.6 L404.1,199.3 L404.4,198.9 L404.7,198.6 L405.0,198.2 L405.3,197.8 L405.7,197.5 L406.0,197.1 L406.3,196.8 L406.7,196.4 L407.0,196.1 L407.3,195.8 L407.7,195.4 L408.0,195.1 L408.3,194.7 L408.7,194.3 L409.0,194.0 L409.4,193.7 L409.7,193.4 L410.1,193.0 L410.5,192.7 L410.8,192.4 L411.2,192.1 L411.5,191.8 L411.9,191.5 L412.3,191.1 L412.6,190.8 L413.0,190.5 L413.4,190.2 L413.7,189.9 L414.1,189.6 L414.5,189.3 L414.8,189.0 L415.2,188.8 L415.5,188.5 L415.9,188.2 L416.3,187.9 L416.6,187.6 L417.0,187.3 L417.4,187.0 L417.7,186.7 L418.1,186.4 L418.5,186.1 L418.8,185.8 L419.2,185.5 L419.5,185.2 L419.9,184.9 L420.3,184.6 L420.6,184.3 L421.0,184.0 L421.3,183.7 L421.6,183.3 L421.9,183.0 L422.2,182.7 L422.6,182.3 L422.9,182.0 L423.2,181.7 L423.5,181.3 L423.8,181.0 L424.1,180.7 L424.4,180.4 L424.8,180.0 L425.1,179.7 L425.4,179.4 L425.7,179.0 L426.0,178.7 L426.4,178.5 L426.9,178.3 L427.3,178.1 L427.7,177.8 L428.1,177.6 L428.6,177.4 L429.0,177.2 L429.4,177.0 L429.9,176.8 L430.3,176.6 L430.7,176.3 L431.1,176.1 L431.6,175.9 L432.0,175.7 L432.4,175.5 L432.9,175.3 L433.3,175.2 L433.7,175.0 L434.1,174.8 L434.6,174.6 L435.0,174.4 L435.4,174.3 L435.9,174.1 L436.3,173.9 L436.7,173.7 L437.1,173.6 L437.6,173.4 L438.0,173.2 L438.3,172.8 L438.5,172.4 L438.8,172.0 L439.1,171.7 L439.3,171.3 L439.6,170.9 L439.9,170.5 L440.1,170.1 L440.4,169.7 L440.6,169.3 L440.9,169.0 L441.2,168.6 L441.4,168.2 L441.7,167.8 L442.0,167.4 L442.4,167.1 L442.7,166.7 L443.0,166.3 L443.3,165.9 L443.7,165.6 L444.0,165.2 L444.3,164.9 L444.6,164.5 L444.9,164.2 L445.3,163.8 L445.6,163.5 L445.9,163.1 L446.2,162.8 L446.5,162.5 L446.8,162.1 L447.2,161.8 L447.5,161.4 L447.8,161.1 L448.1,160.8 L448.4,160.4 L448.7,160.1 L449.1,159.7 L449.4,159.4 L449.7,159.0 L450.0,158.7 L450.3,158.3 L450.6,158.0 L450.9,157.6 L451.1,157.3 L451.4,156.9 L451.7,156.6 L452.0,156.2 L452.3,155.8 L452.6,155.5 L452.9,155.1 L453.1,154.8 L453.4,154.4 L453.7,154.1 L454.0,153.7 L454.3,153.3 L454.6,153.0 L454.9,152.6 L455.1,152.3 L455.4,151.9 L455.7,151.6 L456.0,151.2 L456.3,150.8 L456.5,150.5 L456.8,150.1 L457.0,149.7 L457.3,149.4 L457.6,149.0 L457.8,148.6 L458.1,148.2 L458.3,147.9 L458.6,147.5 L458.9,147.1 L459.1,146.8 L459.4,146.4 L459.7,146.0 L459.9,145.7 L460.2,145.3 L460.4,144.9 L460.7,144.5 L461.0,144.2 L461.2,143.8 L461.5,143.4 L461.7,143.1 L462.0,142.7 L462.3,142.3 L462.5,142.0 L462.8,141.6 L463.0,141.2 L463.3,140.9 L463.6,140.5 L463.8,140.1 L464.1,139.7 L464.3,139.4 L464.6,139.0 L464.9,138.6 L465.1,138.3 L465.4,137.9 L465.7,137.5 L465.9,137.2 L466.2,136.8 L466.4,136.4 L466.7,136.0 L467.0,135.7 L467.2,135.3 L467.5,134.9 L467.7,134.6 L468.0,134.2 L468.3,133.8 L468.5,133.4 L468.8,133.1 L469.0,132.7 L469.3,132.3 L469.5,131.9 L469.8,131.5 L470.0,131.1 L470.3,130.8 L470.5,130.4 L470.8,130.0 L471.0,129.6 L471.3,129.2 L471.5,128.8 L471.8,128.4 L472.0,128.0 L472.2,127.6 L472.5,127.2 L472.7,126.9 L473.0,126.5 L473.2,126.1 L473.4,125.7 L473.7,125.3 L473.9,124.9 L474.2,124.5 L474.4,124.1 L474.6,123.7 L474.9,123.3 L475.1,122.9 L475.4,122.5 L475.6,122.1 L475.8,121.7 L476.1,121.3 L476.3,121.0 L476.6,120.6 L476.8,120.2 L477.0,119.8 L477.3,119.4 L477.5,119.0 L477.8,118.6 L478.0,118.2 L478.2,117.8 L478.5,117.4 L478.7,117.0 L479.0,116.7 L479.2,116.3 L479.4,115.9 L479.7,115.5 L479.9,115.1 L480.2,114.7 L480.4,114.4 L480.6,114.0 L480.9,113.6 L481.1,113.2 L481.4,112.8 L481.6,112.4 L481.8,112.1 L482.1,111.7 L482.3,111.3 L482.6,110.9 L482.8,110.5 L483.0,110.1 L483.3,109.8 L483.5,109.4 L483.8,109.0 L484.0,108.6 L484.3,108.2 L484.5,107.9 L484.8,107.5 L485.0,107.1 L485.3,106.8 L485.6,106.4 L485.8,106.0 L486.1,105.6 L486.3,105.3 L486.6,104.9 L486.9,104.5 L487.1,104.2 L487.4,103.8 L487.7,103.4 L487.9,103.1 L488.2,102.7 L488.4,102.3 L488.7,101.9 L489.0,101.6 L489.2,101.2 L489.5,100.8 L489.7,100.5 L490.0,100.1 L490.3,99.7 L490.5,99.3 L490.8,99.0 L491.1,98.6 L491.4,98.2 L491.6,97.8 L491.9,97.4 L492.2,97.0 L492.5,96.7 L492.7,96.3 L493.0,95.9 L493.3,95.5 L493.5,95.1 L493.8,94.8 L494.1,94.4 L494.4,94.0 L494.6,93.6 L494.9,93.2 L495.2,92.8 L495.5,92.5 L495.7,92.1 L496.0,91.7 L496.2,91.3 L496.5,90.9 L496.7,90.5 L497.0,90.1 L497.2,89.8 L497.4,89.4 L497.7,89.0 L497.9,88.6 L498.2,88.2 L498.4,87.8 L498.6,87.4 L498.9,87.0 L499.1,86.7 L499.4,86.3 L499.6,85.9 L499.8,85.5 L500.1,85.1 L500.3,84.7 L500.6,84.3 L500.8,83.9 L501.0,83.6 L501.3,83.2 L501.5,82.8 L501.8,82.4 L502.0,82.0 L502.4,81.7 L502.7,81.4 L503.1,81.0 L503.4,80.7 L503.8,80.4 L504.1,80.1 L504.5,79.8 L504.8,79.5 L505.2,79.1 L505.5,78.8 L505.9,78.5 L506.2,78.2 L506.6,77.9 L506.9,77.6 L507.3,77.2 L507.6,76.9 L508.0,76.6 L508.4,76.3 L508.7,76.0 L509.1,75.7 L509.4,75.4 L509.8,75.2 L510.1,74.9 L510.5,74.6 L510.8,74.3 L511.2,74.0 L511.5,73.7 L511.9,73.4 L512.2,73.1 L512.6,72.9 L512.9,72.6 L513.3,72.3 L513.6,72.0 L514.0,71.7 L514.4,71.4 L514.8,71.2 L515.2,70.9 L515.6,70.6 L516.0,70.3 L516.4,70.1 L516.8,69.8 L517.2,69.5 L517.6,69.3 L518.0,69.0 L518.4,68.8 L518.9,68.6 L519.3,68.5 L519.7,68.3 L520.1,68.1 L520.6,67.9 L521.0,67.8 L521.4,67.6 L521.9,67.4 L522.3,67.2 L522.7,67.0 L523.1,66.9 L523.6,66.7 L524.0,66.5 L524.5,66.4 L524.9,66.2 L525.4,66.1 L525.8,65.9 L526.3,65.8 L526.8,65.7 L527.2,65.5 L527.7,65.4 L528.2,65.3 L528.6,65.1 L529.1,65.0 L529.5,64.8 L530.0,64.7 L530.4,64.5 L530.8,64.2 L531.2,64.0 L531.6,63.7 L532.0,63.5 L532.5,63.2 L532.9,63.0 L533.3,62.7 L533.7,62.5 L534.1,62.2 L534.5,62.0 L534.9,61.7 L535.4,61.8 L535.8,61.9 L536.3,62.0 L536.8,62.1 L537.2,62.2 L537.7,62.3 L538.1,62.4 L538.6,62.5 L539.0,62.3 L539.5,62.1 L539.9,61.9 L540.3,61.8 L540.7,61.6 L541.2,61.4 L541.6,61.2 L542.0,61.0 L542.5,60.8 L542.9,60.6 L543.3,60.5 L543.7,60.3 L544.2,60.1 L544.6,59.9 L545.0,59.7 L545.5,59.6 L545.9,59.4 L546.3,59.2 L546.7,59.0 L547.2,58.9 L547.6,58.7 L548.0,58.5 L548.5,58.4 L548.9,58.2 L549.3,58.0 L549.7,57.8 L550.2,57.7 L550.6,57.5 L551.0,57.7 L551.5,57.9 L551.9,58.2 L552.3,58.4 L552.8,58.6 L553.2,58.8 L553.7,59.0 L554.1,59.2 L554.5,59.5 L555.0,59.7 L555.4,59.9 L555.7,60.2 L556.0,60.5 L556.4,60.9 L556.7,61.2 L557.0,61.5 L557.3,61.8 L557.7,62.2 L558.0,62.5 L558.3,62.8 L558.6,63.1 L559.0,63.5 L559.3,63.8 L559.6,64.1 L560.0,64.3 L560.4,64.5 L560.8,64.7 L561.2,64.9 L561.6,65.1 L562.0,65.3 L562.5,65.5 L562.9,65.7 L563.3,65.9 L563.7,66.1 L564.1,66.3 L564.5,66.5 L565.0,66.5 L565.5,66.5 L566.0,66.5 L566.5,66.5 L566.7,66.1 L566.9,65.7 L567.1,65.3 L567.4,64.8 L567.6,64.4 L567.8,64.0 L568.0,63.6 L568.2,63.2 L568.4,62.8 L568.7,62.3 L568.9,61.9 L569.1,61.5 L569.3,61.1 L569.6,61.4 L570.0,61.8 L570.3,62.1 L570.7,62.5 L571.0,62.8 L571.4,63.2 L571.7,63.5 L571.8,64.0 L571.9,64.4 L572.1,64.8 L572.2,65.3 L572.3,65.8 L572.4,66.2 L572.5,66.7 L572.7,67.1 L572.8,67.5 L572.9,68.0 L573.0,68.5 L573.1,68.9 L573.3,69.3 L573.4,69.8 L573.5,70.2 L573.6,70.7 L573.7,71.2 L573.9,71.6 L574.0,72.0 L574.1,72.5 L574.6,72.4 L575.1,72.4 L575.5,72.3 L576.0,72.3 L576.5,72.2 L577.0,72.1 L577.5,72.1 L577.9,72.0 L578.4,72.0 L578.9,71.9 L579.2,72.2 L579.5,72.5 L579.9,72.9 L580.2,73.2 L580.5,73.5 L580.8,73.8 L581.1,74.1 L581.5,74.5 L581.8,74.8 L582.1,75.1 L582.4,75.4 L582.7,75.7 L583.1,76.1 L583.4,76.4 L583.7,76.7 L584.1,77.0 L584.5,77.2 L584.9,77.5 L585.3,77.7 L585.7,78.0 L586.2,78.2 L586.6,78.5 L587.0,78.8 L587.4,79.0 L587.8,79.3 L588.2,79.5 L588.6,79.8 L588.9,80.2 L589.1,80.5 L589.4,80.9 L589.7,81.3 L589.9,81.6 L590.2,82.0 L590.5,82.4 L590.7,82.7 L591.0,83.1 L591.3,83.5 L591.5,83.8 L591.8,84.2 L592.1,84.6 L592.3,84.9 L592.6,85.3 L592.9,85.7 L593.1,86.0 L593.4,86.4 L593.7,86.0 L593.9,85.6 L594.2,85.2 L594.4,84.9 L594.7,84.5 L594.9,84.1 L595.2,83.7 L595.5,83.3 L595.7,82.9 L596.0,82.5 L596.2,82.2 L596.5,81.8 L596.7,81.4 L597.0,81.0 L597.2,81.4 L597.5,81.8 L597.7,82.3 L598.0,82.7 L598.2,83.1 L598.4,83.5 L598.7,83.9 L598.9,84.4 L599.2,84.8 L599.4,85.2 L599.9,85.4 L600.3,85.7 L600.8,85.9 L601.2,86.1 L601.6,86.3 L602.1,86.5 L602.5,86.8 L603.0,87.0 L603.5,87.2 L603.9,87.4 L604.4,87.6 L604.8,87.8 L605.2,87.9 L605.7,88.1 L606.1,88.3 L606.6,88.5 L606.8,88.9 L607.0,89.3 L607.2,89.7 L607.5,90.1 L607.7,90.5 L607.9,90.9 L608.1,91.3 L608.3,91.8 L608.5,92.2 L608.7,92.6 L608.9,93.0 L609.1,93.4 L609.4,93.8 L609.6,94.2 L609.8,94.6 L610.0,95.0 L610.2,95.4 L610.3,95.8 L610.5,96.3 L610.7,96.7 L610.8,97.1 L611.0,97.5 L611.2,98.0 L611.4,98.4 L611.5,98.8 L611.7,99.2 L611.9,99.7 L612.0,100.1 L612.2,100.5 L612.4,100.9 L612.5,101.3 L612.7,101.8 L612.9,102.2 L613.0,102.6 L613.2,103.0 L613.4,103.5 L613.6,103.9 L613.7,104.3 L613.9,104.7 L614.1,105.2 L614.2,105.6 L614.4,106.0 L614.6,106.4 L614.8,106.8 L615.0,107.3 L615.2,107.7 L615.4,108.1 L615.6,108.5 L615.8,108.9 L616.0,109.4 L616.2,109.8 L616.4,110.2 L616.6,110.6 L616.8,111.0 L616.9,111.5 L617.1,111.9 L617.3,112.3 L617.5,112.7 L617.7,113.1 L617.9,113.6 L618.1,114.0 L618.3,114.4 L618.5,114.8 L618.7,115.2 L618.9,115.7 L619.1,116.1 L619.3,116.5 L619.5,116.9 L619.8,117.3 L620.0,117.7 L620.3,118.1 L620.5,118.5 L620.7,118.9 L621.0,119.3 L621.2,119.7 L621.5,120.1 L621.7,120.5 L621.9,121.0 L622.2,121.4 L622.4,121.8 L622.7,122.2 L622.9,122.6 L623.1,123.0 L623.4,123.4 L623.6,123.8 L623.9,124.2 L624.1,124.6 L624.5,124.9 L624.8,125.2 L625.2,125.5 L625.6,125.8 L625.9,126.1 L626.3,126.4 L626.7,126.8 L627.1,127.1 L627.4,127.4 L627.8,127.7 L628.2,128.0 L628.5,128.3 L628.9,128.6 L629.4,128.7 L629.9,128.8 L630.3,128.8 L630.8,128.9 L631.3,129.0 L631.8,129.1 L632.3,129.2 L632.7,129.2 L633.2,129.3 L633.7,129.4 L634.1,129.7 L634.4,130.0 L634.8,130.3 L635.2,130.6 L635.5,130.9 L635.9,131.2 L636.3,131.6 L636.7,131.9 L637.0,132.2 L637.4,132.5 L637.8,132.8 L638.1,133.1 L638.5,133.4 L638.9,133.7 L639.2,134.0 L639.6,134.3 L640.0,134.6 L640.3,134.9 L640.7,135.2 L641.1,135.6 L641.5,135.9 L641.8,136.2 L642.2,136.5 L642.6,136.8 L642.9,137.1 L643.3,137.4 L643.6,137.0 L643.9,136.7 L644.2,136.3 L644.5,135.9 L644.8,135.6 L645.0,135.2 L645.3,134.9 L645.6,134.5 L645.9,134.1 L646.2,133.8 L646.5,133.4 L646.9,133.5 L647.4,133.5 L647.8,133.6 L648.3,133.7 L648.7,133.8 L649.2,133.8 L649.6,133.9 L650.1,134.0 L650.5,134.1 L651.0,134.1 L651.4,134.2 L651.7,133.9 L652.0,133.6 L652.4,133.2 L652.7,132.9 L653.0,132.6 L653.3,132.3 L653.6,132.0 L654.0,131.6 L654.3,131.3 L654.6,131.0 L654.9,130.7 L655.2,130.4 L655.6,130.0 L655.9,129.7 L656.2,129.4 L656.5,129.0 L656.7,128.6 L657.0,128.3 L657.3,127.9 L657.5,127.5 L657.8,127.1 L658.1,126.7 L658.3,126.4 L658.6,126.0 L658.9,125.6 L659.1,125.2 L659.4,124.8 L659.7,124.4 L659.9,124.1 L660.2,123.7 L660.5,123.3 L660.7,122.9 L661.0,122.5 L661.3,122.2 L661.5,121.8 L661.8,121.4 L662.1,120.9 L662.4,120.5 L662.7,120.0 L663.0,119.5" fill="none" stroke="#00ff00" stroke-width="1.2" stroke-linejoin="round"/><path d="M84.2,368.6 L84.4,368.1 L84.6,367.7 L84.7,367.3 L84.9,367.1 L85.1,366.9 L85.3,366.8 L85.5,366.6 L85.7,366.5 L85.8,366.3 L86.0,366.0 L86.2,365.7 L86.4,365.3 L86.6,364.8 L86.8,364.2 L86.9,363.5 L87.1,362.8 L87.3,362.1 L87.5,361.5 L87.7,360.8 L87.9,360.2 L88.0,359.7 L88.2,359.3 L88.4,359.0 L88.6,358.8 L88.8,358.7 L89.0,358.6 L89.2,358.5 L89.5,358.4 L89.7,358.2 L89.9,357.9 L90.1,357.4 L90.3,356.9 L90.5,356.2 L90.7,355.5 L90.9,354.8 L91.1,354.1 L91.3,353.4 L91.6,352.9 L91.8,352.4 L92.0,352.1 L92.2,351.9 L92.4,351.7 L92.7,352.5 L93.1,353.3 L93.4,353.9 L93.7,354.2 L94.0,354.3 L94.4,354.1 L94.7,353.9 L95.0,353.8 L95.3,354.0 L95.7,354.4 L96.0,355.1 L96.3,355.9 L96.7,356.7 L97.0,357.3 L97.3,357.7 L97.6,357.8 L98.0,357.7 L98.3,357.6 L98.6,357.5 L98.9,357.6 L99.3,358.0 L99.6,358.7 L99.9,359.5 L100.2,360.3 L100.6,361.0 L100.9,361.4 L101.3,360.9 L101.7,360.1 L102.1,359.3 L102.5,358.7 L102.9,358.5 L103.3,358.7 L103.7,359.1 L104.1,359.4 L104.5,359.3 L104.9,358.8 L105.3,358.1 L105.7,357.2 L106.1,356.6 L106.5,356.4 L106.9,356.6 L107.3,356.9 L107.7,357.2 L108.1,357.2 L108.6,357.1 L109.0,356.6 L109.5,356.1 L109.9,355.9 L110.4,356.3 L110.8,357.1 L111.3,357.8 L111.7,358.2 L112.2,358.1 L112.6,357.6 L113.1,357.1 L113.5,357.0 L114.0,357.4 L114.4,358.1 L114.9,358.9 L115.3,359.3 L115.7,359.3 L116.2,358.8 L116.6,358.3 L117.0,358.1 L117.5,358.3 L117.9,358.9 L118.4,359.7 L118.8,360.3 L119.2,360.5 L119.7,360.1 L120.1,359.6 L120.6,359.1 L121.0,359.1 L121.5,359.6 L121.9,360.4 L122.4,360.9 L122.8,361.0 L123.3,360.6 L123.7,360.0 L124.2,359.5 L124.6,359.5 L125.1,360.0 L125.5,360.7 L126.0,361.3 L126.5,361.4 L127.0,360.9 L127.4,360.3 L127.9,359.8 L128.4,359.9 L128.9,360.6 L129.3,361.3 L129.8,361.8 L130.3,361.6 L130.8,361.0 L131.2,360.4 L131.7,360.2 L132.2,360.5 L132.7,361.2 L133.2,361.9 L133.6,362.1 L134.1,361.7 L134.6,361.0 L135.1,360.5 L135.6,360.5 L136.1,361.1 L136.6,361.8 L137.0,362.3 L137.5,362.2 L138.0,361.6 L138.5,361.1 L138.9,360.8 L139.4,361.1 L139.8,361.8 L140.3,362.6 L140.8,363.0 L141.2,362.9 L141.7,362.4 L142.2,361.9 L142.6,361.7 L143.1,362.0 L143.5,362.8 L144.0,363.5 L144.5,363.8 L145.0,363.4 L145.5,362.6 L146.0,362.0 L146.4,361.7 L146.9,361.9 L147.3,362.3 L147.7,362.7 L148.1,362.6 L148.6,362.1 L149.0,361.3 L149.4,360.5 L149.9,360.0 L150.3,359.9 L150.7,360.3 L151.1,360.7 L151.6,360.9 L152.0,360.6 L152.4,360.0 L152.9,359.3 L153.3,358.8 L153.8,358.8 L154.2,359.3 L154.7,359.9 L155.1,360.3 L155.6,360.3 L156.0,359.8 L156.5,359.0 L156.9,358.5 L157.4,358.4 L157.8,358.8 L158.3,359.5 L158.7,359.9 L159.2,359.9 L159.6,359.5 L160.1,358.7 L160.5,358.2 L161.0,358.0 L161.4,358.4 L161.9,359.0 L162.3,359.5 L162.8,359.6 L163.2,359.2 L163.7,358.5 L164.1,357.9 L164.6,357.6 L165.0,357.8 L165.5,358.4 L165.9,358.8 L166.4,358.7 L166.9,358.2 L167.3,357.3 L167.8,356.6 L168.3,356.4 L168.7,356.7 L169.2,357.3 L169.6,357.7 L170.1,357.5 L170.6,357.0 L171.0,356.3 L171.5,355.7 L171.9,355.7 L172.4,356.1 L172.9,356.8 L173.3,357.2 L173.8,357.1 L174.3,356.6 L174.7,355.8 L175.2,355.3 L175.6,355.4 L176.1,355.9 L176.5,356.5 L177.0,356.8 L177.4,356.7 L177.9,356.1 L178.3,355.4 L178.8,354.9 L179.2,354.8 L179.7,355.2 L180.1,355.9 L180.6,356.3 L181.0,356.2 L181.5,355.7 L181.9,354.9 L182.4,354.3 L182.8,354.3 L183.3,354.6 L183.7,355.3 L184.2,355.7 L184.6,355.7 L185.1,355.2 L185.5,354.4 L186.0,353.8 L186.4,353.7 L186.9,354.0 L187.3,354.6 L187.8,355.1 L188.2,355.2 L188.6,354.7 L189.1,353.9 L189.5,353.2 L189.9,352.9 L190.4,353.1 L190.8,353.6 L191.3,354.1 L191.7,354.2 L192.1,353.9 L192.6,353.1 L193.0,352.4 L193.4,351.9 L193.9,352.0 L194.3,352.4 L194.8,352.9 L195.2,353.2 L195.6,353.0 L196.1,352.4 L196.5,351.6 L196.9,351.0 L197.4,350.9 L197.8,351.2 L198.3,351.8 L198.7,352.2 L199.1,352.1 L199.6,351.6 L200.0,350.8 L200.4,350.1 L200.8,349.7 L201.3,349.8 L201.7,350.3 L202.1,350.7 L202.5,350.8 L202.9,350.5 L203.4,349.8 L203.8,349.0 L204.2,348.4 L204.6,348.2 L205.1,348.4 L205.5,348.9 L205.9,349.2 L206.3,349.2 L206.7,348.7 L207.2,348.0 L207.6,347.2 L208.0,346.7 L208.4,346.7 L208.9,347.1 L209.3,347.6 L209.7,347.8 L210.2,347.5 L210.6,346.8 L211.1,346.0 L211.5,345.4 L211.9,345.2 L212.4,345.5 L212.8,346.0 L213.2,346.3 L213.7,346.2 L214.1,345.7 L214.4,344.9 L214.7,344.1 L215.0,343.4 L215.4,342.9 L215.7,342.7 L216.0,342.7 L216.3,342.9 L216.6,343.0 L216.9,342.9 L217.3,342.6 L217.6,342.1 L217.9,341.3 L218.2,340.5 L218.5,339.7 L218.8,339.1 L219.2,338.8 L219.5,338.7 L219.8,338.8 L220.1,338.9 L220.3,338.8 L220.5,338.6 L220.7,338.3 L220.9,337.9 L221.1,337.3 L221.3,336.7 L221.5,336.1 L221.7,335.3 L221.9,334.6 L222.1,334.0 L222.3,333.4 L222.5,332.8 L222.7,332.4 L222.9,332.1 L223.1,331.9 L223.3,331.8 L223.5,331.7 L223.7,331.6 L223.8,331.3 L224.0,331.0 L224.1,330.7 L224.2,330.4 L224.4,330.0 L224.5,329.5 L224.6,329.0 L224.8,328.5 L224.9,327.9 L225.0,327.3 L225.2,326.7 L225.3,326.0 L225.4,325.4 L225.6,324.7 L225.7,324.1 L225.8,323.5 L226.0,322.9 L226.1,323.3 L226.2,322.9 L226.4,322.4 L226.5,322.0 L226.6,321.5 L226.8,321.1 L226.9,320.6 L227.0,320.2 L227.2,319.7 L227.3,319.3 L227.4,318.9 L227.5,318.4 L227.6,318.0 L227.7,317.5 L227.9,317.1 L228.0,316.6 L228.1,316.2 L228.2,315.7 L228.3,315.3 L228.4,314.8 L228.5,314.4 L228.6,313.9 L228.7,313.5 L228.9,313.0 L229.0,312.6 L229.1,312.1 L229.2,311.7 L229.3,311.2 L229.4,310.8 L229.5,310.3 L229.6,309.9 L229.7,309.4 L229.9,309.0 L230.0,308.5 L230.1,308.1 L230.2,307.6 L230.3,307.2 L230.6,306.8 L230.8,306.5 L231.1,306.1 L231.4,305.7 L231.7,305.3 L231.9,305.0 L232.2,304.6 L232.3,304.1 L232.4,303.7 L232.5,303.2 L232.5,302.8 L232.6,302.3 L232.7,301.9 L232.8,301.4 L232.9,301.0 L233.0,300.5 L233.0,300.1 L233.1,299.6 L233.2,299.2 L233.3,298.7 L233.4,298.3 L233.5,297.8 L233.5,297.4 L233.6,296.9 L233.7,296.5 L233.8,296.0 L233.9,295.6 L234.0,295.1 L234.0,294.7 L234.1,294.2 L234.2,293.8 L234.3,293.3 L234.4,292.8 L234.5,292.4 L234.6,291.9 L234.6,291.5 L234.7,291.0 L234.8,290.6 L234.9,290.1 L235.0,289.7 L235.1,289.2 L235.1,288.8 L235.2,288.3 L235.3,287.9 L235.4,287.4 L235.5,287.0 L235.6,286.5 L235.6,286.1 L235.7,285.6 L235.8,285.2 L235.9,284.7 L236.0,284.3 L236.1,283.8 L236.1,283.4 L236.2,282.9 L236.3,282.5 L236.4,282.0 L236.5,281.5 L236.6,281.1 L236.8,280.6 L236.9,280.2 L237.0,279.7 L237.1,279.2 L237.2,278.8 L237.3,278.3 L237.5,277.9 L237.6,277.4 L237.7,277.0 L237.8,276.5 L238.1,276.1 L238.4,275.7 L238.7,275.3 L239.0,274.9 L239.3,274.5 L239.6,274.1 L239.9,273.7 L240.1,273.3 L240.4,272.9 L240.6,272.4 L240.8,272.0 L241.1,271.6 L241.3,271.2 L241.5,271.6 L241.8,272.0 L242.0,272.4 L242.2,272.9 L242.5,273.3 L242.7,273.7 L242.9,274.1 L243.1,274.5 L243.3,275.0 L243.5,275.4 L243.8,275.8 L244.0,276.2 L244.2,276.6 L244.4,277.1 L244.6,277.5 L244.8,277.9 L245.0,278.3 L245.1,278.8 L245.3,279.2 L245.5,279.6 L245.6,280.1 L245.8,280.5 L246.0,280.9 L246.2,281.3 L246.3,281.8 L246.5,282.2 L246.7,282.6 L246.8,283.1 L247.0,283.5 L247.3,283.9 L247.6,284.3 L247.9,284.7 L248.1,284.2 L248.4,284.8 L248.7,285.5 L249.0,286.4 L249.4,287.2 L249.8,287.7 L250.2,287.7 L250.7,287.5 L251.1,287.1 L251.5,286.9 L251.9,287.2 L252.2,287.8 L252.6,288.7 L252.9,289.5 L253.3,290.2 L253.6,290.5 L254.0,290.6 L254.3,290.5 L254.7,290.3 L255.0,290.2 L255.4,290.3 L255.9,290.8 L256.3,291.7 L256.8,292.4 L257.2,292.7 L257.7,292.5 L258.1,292.1 L258.6,291.6 L259.0,291.6 L259.4,292.1 L259.8,292.9 L260.2,293.7 L260.5,294.4 L260.9,294.7 L261.3,294.7 L261.7,294.4 L262.1,294.1 L262.5,294.0 L262.8,294.4 L263.2,295.1 L263.6,295.9 L264.0,296.7 L264.4,297.2 L264.8,297.3 L265.2,297.1 L265.5,296.7 L265.9,296.6 L266.3,296.7 L266.7,297.3 L267.1,298.1 L267.5,298.9 L267.8,299.5 L268.2,299.8 L268.6,299.7 L269.0,299.4 L269.4,299.1 L269.9,299.1 L270.3,299.5 L270.7,300.3 L271.1,301.2 L271.6,301.8 L272.0,301.9 L272.4,301.7 L272.8,301.2 L273.2,301.0 L273.7,301.2 L274.1,301.8 L274.6,302.5 L275.0,303.1 L275.5,303.2 L275.9,302.7 L276.4,302.0 L276.9,301.5 L277.3,301.5 L277.8,301.9 L278.3,302.6 L278.7,303.1 L279.2,303.1 L279.6,302.6 L280.1,301.9 L280.6,301.5 L281.0,301.5 L281.5,302.0 L281.9,302.7 L282.4,303.2 L282.9,303.1 L283.3,302.5 L283.8,301.9 L284.3,301.4 L284.7,301.5 L285.2,302.1 L285.6,302.8 L286.1,303.2 L286.6,303.0 L287.0,302.4 L287.5,301.8 L287.9,301.4 L288.4,301.5 L288.8,302.1 L289.3,302.7 L289.8,303.1 L290.2,302.9 L290.7,302.3 L291.1,301.6 L291.6,301.3 L292.1,301.4 L292.5,302.0 L293.0,302.7 L293.4,303.0 L293.9,302.8 L294.3,302.2 L294.8,301.5 L295.3,301.2 L295.7,301.4 L296.2,302.0 L296.6,302.6 L297.1,302.9 L297.5,302.7 L298.0,302.0 L298.5,301.3 L299.0,301.0 L299.5,301.3 L300.0,302.0 L300.5,302.6 L301.0,302.5 L301.5,301.9 L302.0,301.1 L302.5,300.7 L302.9,300.8 L303.4,301.3 L303.9,301.9 L304.4,302.2 L304.8,301.9 L305.3,301.2 L305.8,300.5 L306.2,300.2 L306.7,300.4 L307.2,301.0 L307.6,301.6 L308.1,301.7 L308.6,301.3 L309.1,300.5 L309.5,299.9 L310.0,299.7 L310.4,300.1 L310.9,300.7 L311.4,301.2 L311.8,301.2 L312.2,300.8 L312.7,300.0 L313.1,299.4 L313.6,299.2 L314.1,299.6 L314.5,300.2 L314.9,300.7 L315.4,300.8 L315.9,300.3 L316.3,299.6 L316.8,299.0 L317.2,298.7 L317.6,299.0 L318.1,299.6 L318.6,300.2 L319.0,300.3 L319.4,299.9 L319.9,299.1 L320.4,298.4 L320.8,298.1 L321.2,298.3 L321.7,298.8 L322.1,299.3 L322.6,299.4 L323.1,299.0 L323.5,298.3 L323.9,297.5 L324.4,297.2 L324.9,297.3 L325.3,297.9 L325.8,298.4 L326.2,298.5 L326.6,298.2 L327.1,297.4 L327.6,296.7 L328.0,296.3 L328.4,296.2 L328.7,296.3 L329.1,296.6 L329.5,296.8 L329.8,296.7 L330.2,296.3 L330.5,295.5 L330.9,294.7 L331.3,294.0 L331.6,293.5 L332.0,293.4 L332.4,293.5 L332.7,293.8 L333.1,294.0 L333.5,293.9 L333.8,293.4 L334.2,292.7 L334.5,291.9 L334.9,291.1 L335.3,290.7 L335.6,290.5 L336.0,290.7 L336.4,290.9 L336.7,291.1 L337.1,291.0 L337.4,290.6 L337.8,289.8 L338.1,289.0 L338.5,288.2 L338.8,287.7 L339.2,287.4 L339.5,287.5 L339.9,287.7 L340.2,287.9 L340.6,287.9 L340.9,287.5 L341.3,286.9 L341.6,286.1 L342.0,285.3 L342.3,284.7 L342.6,284.3 L342.9,284.1 L343.2,284.0 L343.5,284.1 L343.8,284.1 L344.1,284.0 L344.4,283.8 L344.7,283.3 L345.0,282.7 L345.3,281.9 L345.6,281.2 L345.9,280.6 L346.2,280.2 L346.5,280.0 L346.8,279.9 L347.1,279.8 L347.4,279.8 L347.7,279.7 L348.0,279.4 L348.3,279.0 L348.6,278.4 L348.9,277.8 L349.1,277.1 L349.4,276.6 L349.7,276.1 L350.0,275.7 L350.3,275.5 L350.6,275.4 L350.9,275.3 L351.1,275.2 L351.4,275.0 L351.7,274.7 L352.0,274.2 L352.3,273.7 L352.6,273.1 L352.9,272.5 L353.1,272.0 L353.4,271.5 L353.7,271.2 L354.0,271.0 L354.3,270.9 L354.6,270.8 L354.9,270.6 L355.2,270.3 L355.5,269.9 L355.8,269.4 L356.1,268.9 L356.4,268.4 L356.7,267.9 L357.0,267.5 L357.3,267.1 L357.6,266.9 L357.9,266.7 L358.2,266.5 L358.5,266.3 L358.8,266.0 L359.1,265.6 L359.4,265.2 L359.7,264.7 L360.0,264.2 L360.2,263.7 L360.5,263.3 L360.8,262.9 L361.0,262.5 L361.2,262.2 L361.5,261.9 L361.8,261.6 L362.0,261.3 L362.2,260.9 L362.5,260.5 L362.8,260.1 L363.0,259.7 L363.2,259.2 L363.5,258.8 L363.8,258.3 L364.0,257.9 L364.3,257.5 L364.5,257.1 L364.8,256.8 L365.0,256.4 L365.3,256.1 L365.6,255.8 L365.8,255.4 L366.1,255.0 L366.3,254.6 L366.6,254.3 L366.9,253.9 L367.1,253.5 L367.4,253.1 L367.7,252.7 L367.9,252.3 L368.2,251.9 L368.4,251.6 L368.7,251.2 L369.0,250.8 L369.2,250.4 L369.5,250.1 L369.7,249.7 L370.0,249.3 L370.3,248.9 L370.5,248.6 L370.8,248.2 L371.0,247.8 L371.3,247.5 L371.6,247.1 L371.8,246.7 L372.1,246.3 L372.3,246.0 L372.6,245.6 L372.9,245.2 L373.1,244.9 L373.4,244.5 L373.7,244.1 L373.9,243.8 L374.2,243.4 L374.4,243.0 L374.7,242.6 L375.0,242.3 L375.2,241.9 L375.5,241.5 L375.7,241.2 L376.0,240.8 L376.3,240.4 L376.5,240.1 L376.8,239.7 L377.0,239.3 L377.3,239.0 L377.6,238.6 L377.8,238.2 L378.1,237.8 L378.3,237.5 L378.6,237.1 L378.9,236.7 L379.1,236.4 L379.4,236.0 L379.7,235.6 L379.9,235.3 L380.2,234.9 L380.4,234.5 L380.7,234.1 L381.0,233.8 L381.2,233.4 L381.5,233.0 L381.7,232.7 L382.0,232.3 L382.2,231.9 L382.5,231.5 L382.7,231.1 L382.9,230.7 L383.1,230.3 L383.4,229.9 L383.6,229.5 L383.8,229.1 L384.1,228.7 L384.3,228.3 L384.5,227.9 L384.8,227.5 L385.0,227.1 L385.2,226.7 L385.5,226.3 L385.7,225.9 L385.9,225.5 L386.1,225.1 L386.4,224.7 L386.6,224.3 L386.9,223.9 L387.1,223.5 L387.4,223.2 L387.6,222.8 L387.9,222.4 L388.1,222.0 L388.4,221.6 L388.6,221.3 L388.9,220.9 L389.2,220.5 L389.4,220.1 L389.7,219.7 L389.9,219.4 L390.2,219.0 L390.4,218.6 L390.7,218.2 L391.0,217.8 L391.2,217.5 L391.5,217.1 L391.7,216.7 L392.0,216.3 L392.2,215.9 L392.5,215.6 L392.7,215.2 L393.0,214.8 L393.3,214.4 L393.5,214.0 L393.8,213.6 L394.1,213.3 L394.3,212.9 L394.6,212.5 L394.9,212.1 L395.1,211.7 L395.4,211.3 L395.7,210.9 L395.9,210.5 L396.2,210.2 L396.5,209.8 L396.7,209.4 L397.0,209.0 L397.3,208.6 L397.5,208.2 L397.8,207.8 L398.1,207.4 L398.3,207.0 L398.6,206.6 L398.9,206.2 L399.1,205.9 L399.4,205.5 L399.7,205.1 L399.9,204.7 L400.2,204.3 L400.5,203.9 L400.7,203.5 L401.0,203.1 L401.3,202.7 L401.6,202.4 L401.9,202.0 L402.2,201.7 L402.5,201.3 L402.8,201.0 L403.2,200.6 L403.5,200.3 L403.8,199.9 L404.1,199.6 L404.4,199.2 L404.7,198.9 L405.0,198.5 L405.3,198.2 L405.7,197.8 L406.0,197.4 L406.3,197.1 L406.7,196.8 L407.0,196.4 L407.3,196.1 L407.7,195.7 L408.0,195.4 L408.3,195.0 L408.7,194.7 L409.0,194.3 L409.4,194.0 L409.7,193.7 L410.1,193.3 L410.5,193.0 L410.8,192.7 L411.2,192.4 L411.5,192.1 L411.9,191.8 L412.3,191.4 L412.6,191.1 L413.0,190.8 L413.4,190.5 L413.7,190.2 L414.1,189.9 L414.5,189.6 L414.8,189.3 L415.2,189.1 L415.5,188.8 L415.9,188.5 L416.3,188.2 L416.6,187.9 L417.0,187.6 L417.4,187.3 L417.7,187.0 L418.1,186.7 L418.5,186.4 L418.8,186.1 L419.2,185.8 L419.5,185.5 L419.9,185.2 L420.3,184.9 L420.6,184.6 L421.0,184.3 L421.3,184.0 L421.6,183.6 L421.9,183.3 L422.2,183.0 L422.6,182.6 L422.9,182.3 L423.2,182.0 L423.5,181.7 L423.8,181.3 L424.1,181.0 L424.4,180.7 L424.8,180.3 L425.1,180.0 L425.4,179.7 L425.7,179.3 L426.0,179.0 L426.4,178.8 L426.9,178.6 L427.3,178.4 L427.7,178.1 L428.1,177.9 L428.6,177.7 L429.0,177.5 L429.4,177.3 L429.9,177.1 L430.3,176.9 L430.7,176.6 L431.1,176.4 L431.6,176.2 L432.0,176.0 L432.4,175.8 L432.9,175.6 L433.3,175.5 L433.7,175.3 L434.1,175.1 L434.6,174.9 L435.0,174.8 L435.4,174.6 L435.9,174.4 L436.3,174.2 L436.7,174.0 L437.1,173.9 L437.6,173.7 L438.0,173.5 L438.3,173.1 L438.5,172.7 L438.8,172.3 L439.1,171.9 L439.3,171.5 L439.6,171.1 L439.9,170.8 L440.1,170.4 L440.4,170.0 L440.6,169.6 L440.9,169.2 L441.2,168.8 L441.4,168.4 L441.7,168.0 L442.0,167.6 L442.4,167.3 L442.7,166.9 L443.0,166.6 L443.3,166.2 L443.7,165.9 L444.0,165.5 L444.3,165.2 L444.6,164.8 L444.9,164.5 L445.3,164.1 L445.6,163.8 L445.9,163.4 L446.2,163.1 L446.5,162.8 L446.8,162.4 L447.2,162.1 L447.5,161.7 L447.8,161.4 L448.1,161.1 L448.4,160.7 L448.7,160.4 L449.1,160.0 L449.4,159.7 L449.7,159.3 L450.0,159.0 L450.3,158.6 L450.6,158.3 L450.9,157.9 L451.1,157.6 L451.4,157.2 L451.7,156.9 L452.0,156.5 L452.3,156.1 L452.6,155.8 L452.9,155.4 L453.1,155.1 L453.4,154.7 L453.7,154.4 L454.0,154.0 L454.3,153.6 L454.6,153.3 L454.9,152.9 L455.1,152.6 L455.4,152.2 L455.7,151.9 L456.0,151.5 L456.3,151.1 L456.5,150.8 L456.8,150.4 L457.0,150.0 L457.3,149.7 L457.6,149.3 L457.8,148.9 L458.1,148.5 L458.3,148.2 L458.6,147.8 L458.9,147.4 L459.1,147.1 L459.4,146.7 L459.7,146.3 L459.9,146.0 L460.2,145.6 L460.4,145.2 L460.7,144.8 L461.0,144.5 L461.2,144.1 L461.5,143.7 L461.7,143.4 L462.0,143.0 L462.3,142.6 L462.5,142.3 L462.8,141.9 L463.0,141.5 L463.3,141.2 L463.6,140.8 L463.8,140.4 L464.1,140.0 L464.3,139.7 L464.6,139.3 L464.9,138.9 L465.1,138.6 L465.4,138.2 L465.7,137.8 L465.9,137.5 L466.2,137.1 L466.4,136.7 L466.7,136.3 L467.0,136.0 L467.2,135.6 L467.5,135.2 L467.7,134.9 L468.0,134.5 L468.3,134.1 L468.5,133.7 L468.8,133.4 L469.0,133.0 L469.3,132.6 L469.5,132.2 L469.8,131.8 L470.0,131.4 L470.3,131.1 L470.5,130.7 L470.8,130.3 L471.0,129.9 L471.3,129.5 L471.5,129.1 L471.8,128.7 L472.0,128.3 L472.2,127.9 L472.5,127.5 L472.7,127.2 L473.0,126.8 L473.2,126.4 L473.4,126.0 L473.7,125.6 L473.9,125.2 L474.2,124.8 L474.4,124.4 L474.6,124.0 L474.9,123.6 L475.1,123.2 L475.4,122.8 L475.6,122.4 L475.8,122.0 L476.1,121.6 L476.3,121.3 L476.6,120.9 L476.8,120.5 L477.0,120.1 L477.3,119.7 L477.5,119.3 L477.8,118.9 L478.0,118.5 L478.2,118.1 L478.5,117.7 L478.8,117.3 L479.0,116.9 L479.2,116.5 L479.5,116.1 L479.8,115.7 L480.0,115.3 L480.2,114.9 L480.5,114.5 L480.8,114.1 L481.0,113.8 L481.2,113.4 L481.5,113.0 L481.8,112.6 L482.0,112.2 L482.2,111.8 L482.5,111.4 L482.8,111.0 L483.0,110.6 L483.2,110.2 L483.5,109.8 L483.8,109.4 L484.0,109.0 L484.3,108.6 L484.5,108.3 L484.8,107.9 L485.0,107.5 L485.3,107.2 L485.6,106.8 L485.8,106.4 L486.1,106.0 L486.3,105.7 L486.6,105.3 L486.9,104.9 L487.1,104.6 L487.4,104.2 L487.7,103.8 L487.9,103.5 L488.2,103.1 L488.4,102.7 L488.7,102.3 L489.0,102.0 L489.2,101.6 L489.5,101.2 L489.7,100.9 L490.0,100.5 L490.3,100.1 L490.5,99.8 L490.8,99.4 L491.0,99.0 L491.3,98.7 L491.6,98.3 L491.8,97.9 L492.1,97.5 L492.3,97.2 L492.6,96.8 L492.9,96.4 L493.1,96.1 L493.4,95.7 L493.7,95.3 L493.9,95.0 L494.2,94.6 L494.4,94.2 L494.7,93.8 L495.0,93.5 L495.2,93.1 L495.5,92.7 L495.7,92.4 L496.0,92.0 L496.2,91.6 L496.5,91.2 L496.7,90.8 L497.0,90.4 L497.2,90.1 L497.4,89.7 L497.7,89.3 L497.9,88.9 L498.2,88.5 L498.4,88.1 L498.6,87.7 L498.9,87.3 L499.1,87.0 L499.4,86.6 L499.6,86.2 L499.8,85.8 L500.1,85.4 L500.3,85.0 L500.6,84.6 L500.8,84.2 L501.0,83.9 L501.3,83.5 L501.5,83.1 L501.8,82.7 L502.0,82.3 L502.4,82.0 L502.7,81.7 L503.1,81.4 L503.4,81.1 L503.8,80.7 L504.1,80.4 L504.5,80.1 L504.8,79.8 L505.2,79.5 L505.5,79.2 L505.9,78.9 L506.2,78.6 L506.6,78.2 L506.9,77.9 L507.3,77.6 L507.6,77.3 L508.0,77.0 L508.4,76.7 L508.7,76.4 L509.1,76.1 L509.4,75.8 L509.8,75.5 L510.1,75.2 L510.5,74.9 L510.8,74.6 L511.2,74.4 L511.5,74.1 L511.9,73.8 L512.2,73.5 L512.6,73.2 L512.9,72.9 L513.3,72.6 L513.6,72.3 L514.0,72.0 L514.4,71.7 L514.7,71.4 L515.1,71.2 L515.5,70.9 L515.9,70.6 L516.2,70.3 L516.6,70.0 L517.0,69.7 L517.4,69.5 L517.7,69.2 L518.1,68.9 L518.5,68.7 L519.0,68.6 L519.4,68.4 L519.8,68.2 L520.2,68.0 L520.7,67.9 L521.1,67.7 L521.5,67.5 L522.0,67.4 L522.4,67.2 L522.8,67.0 L523.2,66.8 L523.7,66.7 L524.1,66.5 L524.6,66.4 L525.0,66.2 L525.5,66.1 L525.9,65.9 L526.4,65.8 L526.9,65.7 L527.3,65.5 L527.8,65.4 L528.3,65.3 L528.7,65.1 L529.2,65.0 L529.6,64.8 L530.1,64.7 L530.5,64.5 L530.9,64.2 L531.3,64.0 L531.7,63.7 L532.1,63.5 L532.5,63.2 L532.9,63.0 L533.3,62.7 L533.7,62.5 L534.1,62.2 L534.5,62.0 L534.9,61.7 L535.3,61.9 L535.7,62.1 L536.1,62.3 L536.5,62.5 L537.0,62.7 L537.4,62.9 L537.8,63.1 L538.2,63.3 L538.6,63.5 L539.0,63.3 L539.5,63.1 L539.9,62.8 L540.3,62.6 L540.8,62.4 L541.2,62.2 L541.7,62.0 L542.1,61.8 L542.5,61.5 L543.0,61.3 L543.4,61.1 L543.9,61.2 L544.4,61.2 L544.8,61.3 L545.3,61.3 L545.8,61.4 L546.3,61.5 L546.8,61.5 L547.2,61.6 L547.7,61.6 L548.2,61.7 L548.7,61.6 L549.1,61.6 L549.5,61.5 L550.0,61.4 L550.5,61.3 L550.9,61.2 L551.3,61.2 L551.8,61.1 L552.3,61.1 L552.7,61.1 L553.2,61.1 L553.7,61.1 L554.1,61.1 L554.6,61.1 L555.1,61.1 L555.5,61.1 L556.0,61.1 L556.3,61.5 L556.6,61.8 L556.9,62.1 L557.2,62.5 L557.5,62.9 L557.8,63.2 L558.1,63.5 L558.4,63.9 L558.7,64.2 L559.0,64.6 L559.3,65.0 L559.6,65.3 L560.1,65.2 L560.6,65.1 L561.0,64.9 L561.5,64.8 L562.0,64.7 L562.4,65.0 L562.7,65.3 L563.1,65.6 L563.5,65.9 L563.9,66.2 L564.2,66.5 L564.6,66.8 L565.0,67.1 L565.3,67.4 L565.7,67.7 L566.1,67.4 L566.4,67.1 L566.8,66.8 L567.1,66.5 L567.5,66.2 L567.9,65.9 L568.2,65.6 L568.6,65.3 L568.9,65.0 L569.3,64.7 L569.5,65.1 L569.7,65.5 L570.0,65.9 L570.2,66.3 L570.4,66.7 L570.6,67.2 L570.8,67.6 L571.0,68.0 L571.3,68.4 L571.5,68.8 L571.7,69.2 L571.9,69.6 L572.1,70.0 L572.4,70.4 L572.6,70.8 L572.8,71.2 L573.0,71.7 L573.2,72.1 L573.4,72.5 L573.7,72.9 L573.9,73.3 L574.1,73.7 L574.5,73.9 L575.0,74.1 L575.4,74.4 L575.8,74.6 L576.3,74.8 L576.7,75.0 L577.2,75.2 L577.6,75.4 L578.0,75.7 L578.5,75.9 L578.9,76.1 L579.2,76.4 L579.6,76.7 L579.9,77.0 L580.3,77.3 L580.6,77.6 L581.0,77.9 L581.3,78.2 L581.6,78.6 L582.0,78.9 L582.3,79.2 L582.7,79.5 L583.0,79.8 L583.4,80.1 L583.7,80.4 L584.1,80.7 L584.5,81.0 L584.8,81.2 L585.2,81.5 L585.6,81.8 L586.0,82.1 L586.3,82.3 L586.7,82.6 L587.1,82.9 L587.5,83.2 L587.8,83.4 L588.2,83.7 L588.6,84.0 L589.1,84.2 L589.5,84.5 L590.0,84.7 L590.4,84.9 L590.9,85.1 L591.3,85.3 L591.8,85.6 L592.2,85.8 L592.5,86.2 L592.8,86.5 L593.0,86.9 L593.3,87.3 L593.6,87.6 L593.9,88.0 L594.1,88.4 L594.4,88.8 L594.7,89.1 L595.0,89.5 L595.2,89.9 L595.5,90.2 L595.8,90.6 L596.3,90.8 L596.8,91.1 L597.2,91.3 L597.7,91.6 L598.2,91.8 L598.4,92.2 L598.7,92.6 L598.9,93.1 L599.2,93.5 L599.4,93.9 L599.6,94.3 L599.9,94.7 L600.1,95.2 L600.4,95.6 L600.6,96.0 L600.8,96.4 L601.1,96.8 L601.3,97.2 L601.5,97.6 L601.8,98.0 L602.0,98.5 L602.3,98.9 L602.5,99.3 L602.7,99.7 L603.0,100.1 L603.2,100.5 L603.6,100.2 L604.0,99.9 L604.4,99.6 L604.8,99.3 L605.2,99.0 L605.6,98.7 L606.0,98.4 L606.4,98.1 L606.5,98.5 L606.7,99.0 L606.8,99.4 L606.9,99.8 L607.1,100.3 L607.2,100.7 L607.3,101.1 L607.5,101.6 L607.6,102.0 L607.7,102.4 L607.9,102.9 L608.0,103.3 L608.1,103.7 L608.3,104.2 L608.4,104.6 L608.5,105.0 L608.7,105.5 L608.8,105.9 L608.9,106.3 L609.1,106.8 L609.2,107.2 L609.3,107.6 L609.5,108.1 L609.6,108.5 L609.8,108.9 L610.1,109.3 L610.3,109.7 L610.6,110.1 L610.8,110.5 L611.0,110.9 L611.3,111.3 L611.5,111.7 L611.8,112.1 L612.0,112.5 L612.2,112.9 L612.5,113.3 L612.7,113.7 L613.0,114.1 L613.2,114.5 L613.4,114.9 L613.7,115.3 L613.9,115.7 L614.2,116.1 L614.4,116.5 L614.7,116.8 L615.1,117.2 L615.4,117.5 L615.7,117.8 L616.0,118.1 L616.4,118.5 L616.7,118.8 L617.0,119.1 L617.3,119.4 L617.7,119.8 L618.0,120.1 L618.3,120.4 L618.6,120.7 L619.0,121.1 L619.3,121.4 L619.6,121.8 L619.9,122.2 L620.1,122.5 L620.4,122.9 L620.7,123.3 L621.0,123.7 L621.3,124.0 L621.6,124.4 L621.8,124.8 L622.1,125.2 L622.4,125.5 L622.7,125.9 L623.0,126.3 L623.3,126.7 L623.5,127.0 L623.8,127.4 L624.1,127.8 L624.5,128.1 L624.8,128.4 L625.2,128.7 L625.6,129.0 L625.9,129.3 L626.3,129.6 L626.7,130.0 L627.1,130.3 L627.4,130.6 L627.8,130.9 L628.2,131.2 L628.5,131.5 L628.9,131.8 L629.3,131.9 L629.8,132.1 L630.2,132.2 L630.6,132.4 L631.1,132.5 L631.5,132.7 L632.0,132.8 L632.4,133.0 L632.8,133.1 L633.3,133.3 L633.7,133.4 L634.1,133.7 L634.5,133.9 L634.9,134.2 L635.3,134.5 L635.7,134.7 L636.1,135.0 L636.5,135.3 L636.9,135.5 L637.3,135.8 L637.7,136.1 L638.1,136.3 L638.5,136.6 L638.8,136.9 L639.1,137.2 L639.5,137.6 L639.8,137.9 L640.1,138.2 L640.4,138.5 L640.7,138.8 L641.1,139.2 L641.4,139.5 L641.7,139.8 L642.0,139.4 L642.3,139.1 L642.6,138.7 L642.9,138.3 L643.2,138.0 L643.4,137.6 L643.7,137.3 L644.0,136.9 L644.3,136.5 L644.6,136.2 L644.9,135.8 L645.2,135.4 L645.5,135.0 L645.7,134.6 L646.0,134.2 L646.3,133.8 L646.5,133.4 L646.8,133.0 L647.1,132.6 L647.4,132.2 L647.7,131.8 L647.9,131.4 L648.2,131.0 L648.6,131.3 L648.9,131.6 L649.3,131.9 L649.7,132.2 L650.0,132.5 L650.4,132.8 L650.8,133.2 L651.2,133.5 L651.5,133.8 L651.9,134.1 L652.3,134.4 L652.6,134.7 L653.0,135.0 L653.3,134.7 L653.6,134.3 L653.9,133.9 L654.2,133.6 L654.5,133.2 L654.8,132.9 L655.1,132.6 L655.4,132.2 L655.7,131.8 L656.0,131.5 L656.3,131.2 L656.6,130.8 L656.9,130.5 L657.2,130.1 L657.5,129.8 L657.8,129.4 L658.1,129.0 L658.4,128.7 L658.7,128.3 L659.0,127.9 L659.3,127.6 L659.6,127.2 L660.0,126.8 L660.3,126.4 L660.6,126.1 L660.9,125.7 L661.2,125.3 L661.5,125.0 L661.8,124.6 L662.1,124.2 L662.4,123.8 L662.7,123.4 L663.0,123.0" fill="none" stroke="#0000ff" stroke-width="1.2" stroke-linejoin="round"/><path d="M84.2,371.9 L84.4,371.4 L84.6,371.0 L84.7,370.6 L84.9,370.4 L85.1,370.2 L85.3,370.0 L85.5,369.9 L85.7,369.7 L85.8,369.5 L86.0,369.3 L86.2,369.0 L86.4,368.5 L86.6,368.0 L86.8,367.4 L86.9,366.8 L87.1,366.1 L87.3,365.4 L87.5,364.7 L87.7,364.0 L87.9,363.5 L88.0,363.0 L88.2,362.5 L88.4,362.2 L88.6,362.1 L88.9,362.0 L89.1,362.0 L89.3,361.9 L89.6,361.8 L89.8,361.5 L90.0,361.1 L90.3,360.6 L90.5,359.9 L90.8,359.2 L91.0,358.4 L91.2,357.7 L91.5,357.1 L91.7,356.6 L91.9,356.2 L92.2,356.0 L92.4,355.9 L92.8,356.8 L93.2,357.6 L93.6,358.1 L94.0,358.2 L94.4,357.9 L94.8,357.6 L95.2,357.5 L95.6,357.9 L96.0,358.6 L96.3,359.4 L96.7,360.2 L97.0,360.9 L97.3,361.3 L97.6,361.4 L98.0,361.3 L98.3,361.2 L98.6,361.1 L98.9,361.2 L99.3,361.7 L99.6,362.3 L99.9,363.2 L100.2,364.0 L100.6,364.7 L100.9,365.1 L101.3,364.6 L101.7,363.8 L102.1,363.0 L102.5,362.4 L102.9,362.2 L103.3,362.4 L103.7,362.7 L104.1,363.0 L104.5,362.9 L104.9,362.5 L105.3,361.7 L105.7,360.9 L106.1,360.2 L106.5,360.0 L106.9,360.2 L107.3,360.5 L107.7,360.8 L108.1,360.8 L108.6,360.7 L109.0,360.2 L109.5,359.6 L109.9,359.5 L110.4,359.9 L110.8,360.6 L111.3,361.4 L111.7,361.8 L112.2,361.7 L112.6,361.1 L113.1,360.6 L113.5,360.5 L114.0,360.9 L114.5,361.6 L114.9,362.4 L115.4,362.7 L115.9,362.5 L116.3,361.9 L116.8,361.4 L117.3,361.4 L117.8,361.9 L118.2,362.7 L118.7,363.3 L119.2,363.6 L119.6,363.2 L120.1,362.6 L120.6,362.1 L121.0,362.1 L121.5,362.6 L121.9,363.3 L122.4,363.9 L122.8,363.9 L123.3,363.5 L123.7,362.9 L124.2,362.4 L124.6,362.4 L125.1,362.8 L125.5,363.5 L126.0,364.1 L126.5,364.2 L127.0,363.7 L127.4,363.0 L127.9,362.5 L128.4,362.6 L128.9,363.2 L129.3,364.0 L129.8,364.4 L130.3,364.2 L130.8,363.6 L131.2,363.0 L131.7,362.7 L132.2,363.0 L132.6,363.7 L133.1,364.4 L133.5,364.7 L134.0,364.5 L134.4,364.0 L134.9,363.4 L135.3,363.2 L135.8,363.5 L136.2,364.1 L136.7,364.9 L137.1,365.3 L137.6,365.2 L138.0,364.6 L138.5,364.1 L138.9,363.8 L139.4,364.1 L139.8,364.9 L140.3,365.6 L140.8,366.1 L141.2,366.0 L141.7,365.5 L142.2,364.9 L142.6,364.8 L143.1,365.1 L143.5,365.9 L144.0,366.6 L144.5,367.0 L145.0,366.7 L145.5,366.1 L146.0,365.6 L146.5,365.5 L146.9,365.8 L147.4,366.4 L147.8,366.9 L148.3,366.8 L148.8,366.2 L149.2,365.4 L149.7,364.8 L150.2,364.8 L150.6,365.2 L151.1,365.8 L151.5,366.1 L152.0,366.0 L152.5,365.4 L152.9,364.6 L153.4,364.1 L153.8,364.1 L154.3,364.5 L154.8,365.1 L155.2,365.4 L155.7,365.2 L156.2,364.5 L156.6,363.8 L157.1,363.3 L157.5,363.4 L158.0,363.9 L158.5,364.5 L158.9,364.7 L159.4,364.4 L159.9,363.7 L160.3,362.9 L160.8,362.5 L161.3,362.7 L161.8,363.3 L162.2,363.9 L162.7,364.0 L163.2,363.5 L163.6,362.7 L164.1,362.1 L164.6,361.8 L165.0,362.1 L165.5,362.7 L165.9,363.2 L166.4,363.2 L166.9,362.7 L167.3,361.9 L167.8,361.3 L168.3,361.1 L168.7,361.5 L169.2,362.1 L169.6,362.5 L170.1,362.4 L170.6,361.9 L171.0,361.1 L171.5,360.5 L171.9,360.4 L172.4,360.8 L172.9,361.4 L173.3,361.8 L173.8,361.7 L174.3,361.1 L174.7,360.3 L175.2,359.7 L175.6,359.7 L176.1,360.2 L176.6,360.8 L177.0,361.1 L177.5,360.9 L178.0,360.2 L178.4,359.4 L178.9,359.0 L179.4,359.1 L179.9,359.6 L180.3,360.2 L180.8,360.4 L181.3,360.0 L181.7,359.3 L182.2,358.5 L182.7,358.3 L183.1,358.5 L183.6,359.1 L184.0,359.7 L184.5,359.9 L185.0,359.5 L185.4,358.7 L185.9,358.1 L186.4,357.9 L186.8,358.2 L187.3,358.9 L187.7,359.4 L188.2,359.5 L188.7,359.0 L189.1,358.2 L189.6,357.5 L190.0,357.3 L190.5,357.7 L191.0,358.3 L191.4,358.7 L191.9,358.7 L192.4,358.1 L192.8,357.3 L193.3,356.7 L193.7,356.6 L194.2,356.9 L194.6,357.4 L195.1,357.7 L195.5,357.6 L196.0,357.0 L196.4,356.1 L196.9,355.4 L197.3,355.1 L197.8,355.4 L198.2,355.9 L198.7,356.2 L199.1,356.1 L199.6,355.6 L200.0,354.7 L200.4,354.0 L200.8,353.6 L201.2,353.6 L201.6,353.9 L202.0,354.3 L202.4,354.4 L202.8,354.2 L203.2,353.7 L203.6,352.8 L204.0,352.1 L204.4,351.6 L204.8,351.6 L205.2,351.9 L205.6,352.3 L206.0,352.5 L206.4,352.3 L206.8,351.8 L207.2,351.0 L207.6,350.2 L208.0,349.7 L208.4,349.6 L208.8,349.9 L209.2,350.3 L209.6,350.5 L210.0,350.3 L210.4,349.7 L210.8,348.8 L211.3,348.0 L211.7,347.5 L212.1,347.5 L212.5,347.8 L212.9,348.1 L213.3,348.3 L213.7,348.1 L214.1,347.5 L214.4,346.7 L214.8,345.8 L215.1,345.2 L215.4,344.8 L215.8,344.7 L216.1,344.8 L216.4,345.0 L216.8,345.0 L217.1,344.9 L217.4,344.5 L217.8,343.8 L218.1,342.9 L218.4,342.1 L218.8,341.5 L219.1,341.1 L219.4,341.0 L219.8,341.2 L220.1,341.3 L220.2,341.1 L220.4,340.8 L220.5,340.5 L220.7,340.2 L220.8,339.8 L220.9,339.3 L221.1,338.8 L221.2,338.2 L221.4,337.6 L221.5,337.0 L221.7,336.3 L221.8,335.7 L221.9,335.1 L222.1,334.4 L222.2,333.9 L222.4,333.3 L222.5,332.8 L222.7,332.4 L222.8,332.0 L222.9,331.6 L223.1,331.3 L223.2,331.1 L223.4,330.8 L223.6,330.6 L223.7,330.4 L223.8,330.1 L224.0,329.9 L224.2,329.6 L224.3,329.2 L224.5,328.7 L224.6,328.3 L224.8,327.7 L224.9,327.1 L225.1,326.5 L225.2,325.8 L225.4,325.1 L225.6,324.4 L225.8,323.8 L225.9,323.2 L226.1,323.5 L226.3,323.1 L226.4,322.6 L226.6,322.2 L226.8,321.8 L227.0,321.4 L227.1,320.9 L227.3,320.5 L227.5,320.1 L227.6,319.6 L227.8,319.2 L228.0,318.8 L228.2,318.4 L228.3,317.9 L228.5,317.5 L228.7,317.1 L228.8,316.6 L229.0,316.2 L229.2,315.8 L229.4,315.4 L229.5,314.9 L229.7,314.5 L229.8,314.1 L229.9,313.6 L230.0,313.2 L230.1,312.7 L230.2,312.3 L230.4,311.9 L230.5,311.4 L230.6,311.0 L230.7,310.5 L230.8,310.1 L230.9,309.6 L231.0,309.2 L231.1,308.8 L231.2,308.3 L231.3,307.9 L231.4,307.4 L231.6,307.0 L231.7,306.6 L231.8,306.1 L231.9,305.7 L232.0,305.2 L232.1,304.8 L232.2,304.4 L232.3,303.9 L232.5,303.5 L232.6,303.0 L232.7,302.6 L232.8,302.2 L232.9,301.7 L233.1,301.3 L233.2,300.8 L233.3,300.4 L233.4,300.0 L233.5,299.5 L233.7,299.1 L233.8,298.6 L233.9,298.2 L234.0,297.8 L234.1,297.3 L234.3,296.9 L234.4,296.4 L234.5,296.0 L234.7,295.6 L234.9,295.1 L235.1,294.7 L235.3,294.2 L235.6,293.8 L235.8,293.3 L236.0,292.9 L236.2,292.4 L236.4,292.0 L236.8,291.7 L237.2,291.4 L237.6,291.1 L238.0,290.7 L238.4,290.4 L238.8,290.1 L239.2,289.8 L239.6,289.5 L240.0,289.2 L240.5,289.0 L240.9,288.7 L241.3,288.4 L241.7,288.8 L242.0,289.1 L242.3,289.4 L242.7,289.8 L243.2,289.5 L243.6,289.1 L244.1,288.8 L244.5,289.1 L244.8,289.4 L245.2,289.7 L245.6,290.0 L245.9,290.3 L246.3,290.6 L246.6,290.9 L247.0,291.2 L247.4,291.4 L247.8,291.7 L248.2,291.0 L248.6,291.6 L248.9,292.3 L249.3,293.1 L249.7,293.7 L250.1,293.9 L250.5,293.7 L250.8,293.5 L251.2,293.3 L251.6,293.4 L251.9,293.7 L252.2,294.4 L252.6,295.2 L252.9,296.1 L253.3,296.7 L253.7,297.1 L254.0,297.1 L254.5,296.6 L254.9,296.1 L255.4,296.0 L255.8,296.5 L256.3,297.3 L256.7,298.0 L257.2,298.4 L257.6,298.2 L258.1,297.7 L258.5,297.2 L259.0,297.1 L259.4,297.6 L259.8,298.4 L260.2,299.2 L260.7,299.7 L261.1,299.8 L261.5,299.5 L261.9,299.1 L262.3,298.9 L262.8,299.0 L263.2,299.6 L263.6,300.4 L264.0,301.2 L264.4,301.6 L264.9,301.5 L265.3,301.1 L265.7,300.6 L266.1,300.5 L266.6,300.8 L267.0,301.5 L267.4,302.4 L267.9,303.0 L268.3,303.1 L268.7,302.8 L269.1,302.4 L269.6,302.0 L270.0,302.1 L270.4,302.7 L270.9,303.6 L271.3,304.4 L271.8,304.8 L272.2,304.6 L272.7,304.2 L273.1,303.8 L273.6,303.9 L274.0,304.4 L274.5,305.1 L274.9,305.7 L275.4,306.0 L275.8,305.6 L276.3,305.0 L276.8,304.4 L277.2,304.2 L277.7,304.6 L278.2,305.4 L278.6,305.9 L279.1,306.1 L279.5,305.7 L280.0,305.0 L280.5,304.5 L280.9,304.4 L281.4,304.9 L281.8,305.6 L282.3,306.1 L282.8,306.2 L283.2,305.8 L283.7,305.1 L284.2,304.6 L284.6,304.6 L285.1,305.1 L285.5,305.8 L286.0,306.3 L286.5,306.3 L286.9,305.8 L287.4,305.1 L287.8,304.6 L288.3,304.7 L288.8,305.2 L289.2,305.9 L289.7,306.3 L290.2,306.2 L290.6,305.6 L291.1,304.9 L291.5,304.5 L292.0,304.6 L292.5,305.2 L292.9,305.9 L293.4,306.3 L293.8,306.1 L294.3,305.5 L294.8,304.8 L295.2,304.5 L295.7,304.6 L296.2,305.2 L296.6,305.9 L297.1,306.2 L297.5,306.0 L298.0,305.3 L298.5,304.6 L299.0,304.3 L299.5,304.7 L300.0,305.4 L300.5,305.9 L301.0,305.9 L301.5,305.3 L302.0,304.5 L302.5,304.0 L302.9,304.1 L303.4,304.7 L303.9,305.3 L304.4,305.5 L304.8,305.2 L305.3,304.5 L305.8,303.8 L306.2,303.5 L306.7,303.7 L307.2,304.3 L307.6,304.9 L308.1,305.0 L308.6,304.5 L309.1,303.8 L309.5,303.1 L310.0,302.9 L310.4,303.3 L310.9,303.9 L311.4,304.4 L311.8,304.4 L312.2,303.9 L312.7,303.2 L313.1,302.6 L313.6,302.4 L314.1,302.7 L314.5,303.3 L314.9,303.8 L315.4,303.8 L315.9,303.4 L316.3,302.7 L316.8,302.0 L317.2,301.8 L317.6,302.1 L318.1,302.7 L318.6,303.2 L319.0,303.3 L319.4,302.8 L319.9,302.0 L320.4,301.3 L320.8,301.0 L321.2,301.2 L321.7,301.7 L322.1,302.2 L322.6,302.3 L323.1,301.8 L323.5,301.1 L323.9,300.3 L324.4,299.9 L324.9,300.1 L325.3,300.6 L325.8,301.1 L326.2,301.2 L326.6,300.8 L327.1,300.1 L327.6,299.3 L328.0,298.9 L328.3,298.7 L328.7,298.8 L329.0,299.0 L329.3,299.2 L329.7,299.1 L330.0,298.8 L330.3,298.3 L330.7,297.5 L331.0,296.7 L331.3,296.0 L331.7,295.6 L332.0,295.4 L332.3,295.5 L332.7,295.7 L333.0,295.9 L333.3,295.8 L333.7,295.5 L334.0,294.9 L334.3,294.1 L334.7,293.3 L335.0,292.6 L335.3,292.2 L335.7,292.1 L336.0,292.2 L336.4,292.5 L336.8,292.7 L337.1,292.6 L337.5,292.1 L337.9,291.3 L338.2,290.5 L338.6,289.7 L339.0,289.4 L339.4,289.3 L339.8,289.6 L340.1,289.8 L340.5,289.9 L340.9,289.7 L341.2,289.1 L341.6,288.3 L342.0,287.5 L342.3,286.9 L342.6,286.5 L342.9,286.3 L343.2,286.2 L343.5,286.3 L343.8,286.3 L344.1,286.2 L344.4,286.0 L344.7,285.5 L345.0,284.9 L345.3,284.1 L345.6,283.4 L345.9,282.8 L346.2,282.4 L346.5,282.2 L346.8,282.1 L347.1,282.0 L347.4,282.0 L347.7,281.9 L348.0,281.6 L348.3,281.2 L348.6,280.6 L348.9,280.0 L349.1,279.3 L349.4,278.8 L349.7,278.3 L350.0,277.9 L350.3,277.7 L350.6,277.6 L350.9,277.5 L351.1,277.4 L351.4,277.2 L351.7,276.9 L352.0,276.4 L352.3,275.9 L352.6,275.3 L352.9,274.7 L353.1,274.2 L353.4,273.7 L353.7,273.4 L354.0,273.2 L354.3,273.1 L354.6,273.0 L354.9,272.8 L355.2,272.5 L355.5,272.1 L355.8,271.6 L356.1,271.1 L356.4,270.6 L356.7,270.1 L357.0,269.7 L357.3,269.3 L357.6,269.1 L357.9,268.9 L358.2,268.7 L358.5,268.5 L358.8,268.2 L359.1,267.8 L359.4,267.4 L359.7,266.9 L360.0,266.4 L360.2,265.9 L360.5,265.5 L360.8,265.1 L361.0,264.7 L361.2,264.4 L361.5,264.1 L361.8,263.8 L362.0,263.5 L362.2,263.1 L362.5,262.7 L362.8,262.3 L363.0,261.9 L363.2,261.4 L363.5,261.0 L363.8,260.5 L364.0,260.1 L364.3,259.7 L364.5,259.3 L364.8,259.0 L365.0,258.6 L365.3,258.3 L365.6,258.0 L365.8,257.6 L366.1,257.2 L366.3,256.8 L366.6,256.5 L366.9,256.1 L367.1,255.7 L367.4,255.3 L367.7,254.9 L367.9,254.5 L368.2,254.1 L368.4,253.8 L368.7,253.4 L369.0,253.0 L369.2,252.6 L369.5,252.3 L369.7,251.9 L370.0,251.5 L370.3,251.1 L370.5,250.8 L370.8,250.4 L371.0,250.0 L371.3,249.7 L371.6,249.3 L371.8,248.9 L372.1,248.5 L372.3,248.2 L372.6,247.8 L372.9,247.4 L373.1,247.1 L373.4,246.7 L373.7,246.3 L373.9,246.0 L374.2,245.6 L374.4,245.2 L374.7,244.8 L375.0,244.5 L375.2,244.1 L375.5,243.7 L375.7,243.4 L376.0,243.0 L376.3,242.6 L376.5,242.3 L376.8,241.9 L377.0,241.5 L377.3,241.2 L377.6,240.8 L377.8,240.4 L378.1,240.0 L378.3,239.7 L378.6,239.3 L378.9,238.9 L379.1,238.6 L379.4,238.2 L379.7,237.8 L379.9,237.5 L380.2,237.1 L380.4,236.7 L380.7,236.3 L381.0,236.0 L381.2,235.6 L381.5,235.2 L381.7,234.9 L382.0,234.5 L382.2,234.1 L382.5,233.7 L382.7,233.3 L382.9,232.9 L383.1,232.5 L383.4,232.1 L383.6,231.7 L383.8,231.3 L384.1,230.9 L384.3,230.5 L384.5,230.1 L384.8,229.7 L385.0,229.3 L385.2,228.9 L385.5,228.5 L385.7,228.1 L385.9,227.7 L386.1,227.3 L386.4,226.9 L386.6,226.5 L386.9,226.1 L387.1,225.8 L387.4,225.4 L387.7,225.0 L387.9,224.6 L388.2,224.2 L388.5,223.9 L388.7,223.5 L389.0,223.1 L389.3,222.8 L389.5,222.4 L389.8,222.0 L390.1,221.6 L390.3,221.2 L390.6,220.9 L390.9,220.5 L391.1,220.1 L391.4,219.8 L391.7,219.4 L391.9,219.0 L392.2,218.6 L392.5,218.2 L392.7,217.9 L393.0,217.5 L393.3,217.1 L393.6,216.7 L393.9,216.4 L394.1,216.0 L394.4,215.6 L394.7,215.2 L395.0,214.8 L395.3,214.5 L395.6,214.1 L395.9,213.7 L396.1,213.3 L396.4,213.0 L396.7,212.6 L397.0,212.2 L397.3,211.8 L397.5,211.4 L397.8,211.0 L398.1,210.6 L398.3,210.2 L398.6,209.8 L398.9,209.4 L399.1,209.1 L399.4,208.7 L399.7,208.3 L399.9,207.9 L400.2,207.5 L400.5,207.1 L400.7,206.7 L401.0,206.3 L401.3,205.9 L401.6,205.6 L401.9,205.2 L402.2,204.9 L402.5,204.5 L402.8,204.2 L403.2,203.8 L403.5,203.5 L403.8,203.1 L404.1,202.8 L404.4,202.4 L404.7,202.1 L405.0,201.7 L405.3,201.3 L405.7,201.0 L406.0,200.6 L406.3,200.3 L406.7,199.9 L407.0,199.6 L407.3,199.2 L407.7,198.9 L408.0,198.6 L408.3,198.2 L408.7,197.8 L409.0,197.5 L409.4,197.2 L409.7,196.9 L410.1,196.6 L410.5,196.3 L410.8,196.0 L411.2,195.7 L411.5,195.4 L411.9,195.1 L412.3,194.8 L412.6,194.5 L413.0,194.2 L413.4,193.9 L413.7,193.6 L414.1,193.3 L414.5,193.0 L414.8,192.7 L415.2,192.5 L415.5,192.2 L415.9,191.9 L416.3,191.6 L416.6,191.3 L417.0,191.0 L417.4,190.7 L417.7,190.5 L418.1,190.2 L418.5,189.9 L418.8,189.6 L419.2,189.4 L419.5,189.1 L419.9,188.8 L420.3,188.5 L420.6,188.3 L421.0,188.0 L421.3,187.7 L421.7,187.3 L422.0,187.0 L422.3,186.7 L422.7,186.3 L423.0,186.0 L423.3,185.7 L423.7,185.3 L424.0,185.0 L424.3,184.7 L424.7,184.3 L425.0,184.0 L425.3,183.7 L425.7,183.3 L426.0,183.0 L426.4,182.8 L426.8,182.5 L427.2,182.3 L427.6,182.0 L428.0,181.8 L428.4,181.6 L428.8,181.3 L429.2,181.1 L429.6,180.8 L430.0,180.6 L430.4,180.4 L430.8,180.1 L431.2,179.9 L431.6,179.6 L432.0,179.4 L432.4,179.2 L432.8,178.9 L433.2,178.7 L433.6,178.5 L434.0,178.3 L434.4,178.0 L434.8,177.8 L435.2,177.6 L435.6,177.4 L436.0,177.1 L436.4,176.9 L436.8,176.7 L437.2,176.5 L437.6,176.2 L438.0,176.0 L438.4,175.7 L438.7,175.4 L439.1,175.1 L439.4,174.8 L439.8,174.5 L440.1,174.2 L440.5,173.9 L440.8,173.6 L441.2,173.4 L441.5,173.1 L441.9,172.8 L442.2,172.5 L442.6,172.2 L442.9,171.9 L443.3,171.6 L443.6,171.3 L444.0,171.0 L444.3,170.6 L444.6,170.3 L444.9,169.9 L445.2,169.5 L445.5,169.2 L445.8,168.8 L446.1,168.4 L446.4,168.1 L446.7,167.7 L447.0,167.3 L447.3,167.0 L447.6,166.6 L447.9,166.3 L448.2,165.9 L448.5,165.5 L448.8,165.2 L449.1,164.8 L449.4,164.4 L449.7,164.1 L450.0,163.7 L450.3,163.3 L450.6,163.0 L450.9,162.6 L451.2,162.3 L451.5,161.9 L451.8,161.5 L452.1,161.2 L452.4,160.8 L452.7,160.5 L453.0,160.1 L453.3,159.7 L453.6,159.4 L453.9,159.0 L454.2,158.7 L454.5,158.3 L454.8,157.9 L455.1,157.6 L455.4,157.2 L455.7,156.9 L456.0,156.5 L456.3,156.1 L456.5,155.8 L456.8,155.4 L457.0,155.0 L457.3,154.7 L457.6,154.3 L457.8,153.9 L458.1,153.5 L458.3,153.2 L458.6,152.8 L458.9,152.4 L459.1,152.1 L459.4,151.7 L459.7,151.3 L459.9,151.0 L460.2,150.6 L460.4,150.2 L460.7,149.8 L461.0,149.5 L461.2,149.1 L461.5,148.7 L461.7,148.4 L462.0,148.0 L462.3,147.6 L462.5,147.2 L462.8,146.9 L463.1,146.5 L463.4,146.1 L463.6,145.7 L463.9,145.3 L464.2,144.9 L464.5,144.6 L464.7,144.2 L465.0,143.8 L465.3,143.4 L465.5,143.0 L465.8,142.7 L466.1,142.3 L466.4,141.9 L466.6,141.5 L466.9,141.1 L467.2,140.7 L467.5,140.4 L467.7,140.0 L468.0,139.6 L468.3,139.2 L468.5,138.9 L468.8,138.5 L469.1,138.1 L469.3,137.7 L469.6,137.4 L469.8,137.0 L470.1,136.6 L470.4,136.2 L470.6,135.9 L470.9,135.5 L471.2,135.1 L471.4,134.7 L471.7,134.4 L471.9,134.0 L472.2,133.6 L472.5,133.2 L472.7,132.9 L473.0,132.5 L473.3,132.2 L473.6,131.8 L473.9,131.5 L474.2,131.1 L474.6,130.8 L474.9,130.4 L475.2,130.1 L475.5,129.8 L475.8,129.4 L476.1,129.1 L476.4,128.7 L476.8,128.4 L477.1,128.0 L477.4,127.7 L477.7,127.3 L478.0,127.0 L478.3,126.6 L478.5,126.3 L478.8,125.9 L479.1,125.5 L479.4,125.2 L479.6,124.8 L479.9,124.5 L480.2,124.1 L480.5,123.7 L480.7,123.4 L481.0,123.0 L481.3,122.6 L481.5,122.3 L481.8,121.9 L482.1,121.5 L482.4,121.2 L482.6,120.8 L482.9,120.5 L483.2,120.1 L483.5,119.7 L483.7,119.4 L484.0,119.0 L484.2,118.6 L484.5,118.2 L484.8,117.9 L485.0,117.5 L485.2,117.1 L485.5,116.8 L485.8,116.4 L486.0,116.0 L486.2,115.6 L486.5,115.2 L486.8,114.9 L487.0,114.5 L487.2,114.1 L487.5,113.8 L487.8,113.4 L488.0,113.0 L488.2,112.6 L488.5,112.2 L488.8,111.9 L489.0,111.5 L489.2,111.1 L489.5,110.8 L489.8,110.4 L490.0,110.0 L490.2,109.6 L490.5,109.2 L490.7,108.8 L491.0,108.4 L491.2,108.0 L491.4,107.6 L491.7,107.2 L491.9,106.8 L492.2,106.4 L492.4,106.0 L492.6,105.6 L492.9,105.2 L493.1,104.9 L493.4,104.5 L493.6,104.1 L493.8,103.7 L494.1,103.3 L494.3,102.9 L494.6,102.5 L494.8,102.1 L495.0,101.7 L495.3,101.3 L495.5,100.9 L495.8,100.5 L496.0,100.1 L496.2,99.7 L496.5,99.3 L496.7,98.9 L496.9,98.5 L497.2,98.2 L497.4,97.8 L497.6,97.4 L497.8,97.0 L498.1,96.6 L498.3,96.2 L498.5,95.8 L498.8,95.4 L499.0,95.0 L499.2,94.7 L499.5,94.3 L499.7,93.9 L499.9,93.5 L500.2,93.1 L500.4,92.7 L500.6,92.3 L500.8,91.9 L501.1,91.6 L501.3,91.2 L501.5,90.8 L501.8,90.4 L502.0,90.0 L502.3,89.7 L502.7,89.3 L503.0,89.0 L503.3,88.7 L503.7,88.3 L504.0,88.0 L504.3,87.7 L504.7,87.3 L505.0,87.0 L505.3,86.7 L505.7,86.3 L506.0,86.0 L506.3,85.7 L506.7,85.3 L507.0,85.0 L507.3,84.7 L507.7,84.3 L508.0,84.0 L508.3,83.7 L508.7,83.3 L509.0,83.0 L509.3,82.7 L509.7,82.4 L510.0,82.0 L510.3,81.7 L510.7,81.4 L511.0,81.1 L511.3,80.8 L511.7,80.4 L512.0,80.1 L512.4,79.9 L512.8,79.6 L513.2,79.4 L513.6,79.1 L514.0,78.9 L514.4,78.7 L514.8,78.4 L515.2,78.2 L515.6,77.9 L516.0,77.7 L516.4,77.6 L516.9,77.5 L517.3,77.4 L517.8,77.3 L518.2,77.3 L518.7,77.2 L519.1,77.1 L519.6,77.0 L520.0,76.9 L520.4,76.7 L520.9,76.5 L521.3,76.4 L521.8,76.2 L522.2,76.0 L522.7,75.8 L523.1,75.7 L523.6,75.5 L524.0,75.3 L524.4,75.0 L524.7,74.7 L525.1,74.4 L525.5,74.1 L525.8,73.8 L526.2,73.5 L526.5,73.2 L526.9,72.9 L527.3,72.6 L527.6,72.3 L528.0,72.0 L528.4,72.3 L528.8,72.6 L529.2,72.8 L529.7,73.1 L530.1,73.4 L530.5,73.7 L531.0,73.9 L531.5,74.0 L532.0,74.2 L532.5,74.3 L533.0,74.5 L533.2,74.1 L533.4,73.6 L533.5,73.2 L533.7,72.7 L533.9,72.3 L534.1,71.9 L534.2,71.4 L534.4,71.0 L534.6,70.6 L534.8,70.1 L534.9,69.7 L535.1,69.2 L535.3,68.8 L535.7,69.1 L536.1,69.3 L536.5,69.6 L537.0,69.9 L537.4,70.1 L537.8,70.4 L538.2,70.6 L538.7,70.7 L539.1,70.9 L539.6,71.0 L540.0,71.2 L540.4,71.1 L540.9,70.9 L541.3,70.8 L541.8,70.7 L542.2,70.5 L542.7,70.4 L543.1,70.3 L543.6,70.1 L544.0,70.0 L544.5,70.0 L544.9,70.0 L545.4,70.0 L545.9,70.0 L546.3,70.1 L546.8,70.1 L547.3,70.1 L547.7,70.1 L548.2,70.1 L548.7,69.9 L549.1,69.8 L549.5,69.7 L550.0,69.5 L550.5,69.4 L551.0,69.4 L551.4,69.3 L551.9,69.3 L552.4,69.2 L552.9,69.1 L553.4,69.1 L553.8,69.0 L554.3,69.0 L554.8,68.9 L555.1,69.2 L555.4,69.5 L555.8,69.9 L556.1,70.2 L556.4,70.5 L556.7,70.8 L557.0,71.1 L557.4,71.5 L557.7,71.8 L558.0,72.1 L558.3,72.4 L558.6,72.7 L559.0,73.1 L559.3,73.4 L559.6,73.7 L560.0,73.4 L560.4,73.2 L560.8,72.9 L561.2,72.6 L561.7,72.4 L562.1,72.1 L562.5,71.8 L562.9,71.6 L563.3,71.3 L563.7,71.5 L564.2,71.7 L564.6,72.0 L565.0,72.2 L565.5,72.4 L565.9,72.6 L566.4,72.8 L566.8,73.0 L567.2,73.3 L567.7,73.5 L568.1,73.7 L568.4,74.0 L568.7,74.4 L569.1,74.7 L569.4,75.0 L569.7,75.3 L570.0,75.7 L570.3,76.0 L570.7,76.3 L571.0,76.6 L571.3,77.0 L571.6,77.3 L571.9,77.6 L572.3,77.9 L572.6,78.3 L572.9,78.6 L573.2,78.9 L573.6,79.3 L573.9,79.6 L574.2,79.9 L574.5,80.2 L574.9,80.6 L575.2,80.9 L575.5,81.2 L575.8,81.5 L576.2,81.9 L576.5,82.2 L576.8,82.6 L577.1,82.9 L577.3,83.3 L577.6,83.6 L577.9,84.0 L578.2,84.3 L578.5,84.7 L578.8,85.0 L579.0,85.4 L579.3,85.7 L579.6,86.1 L579.9,86.4 L580.2,86.8 L580.5,87.1 L580.7,87.5 L581.0,87.8 L581.3,88.2 L581.8,88.4 L582.2,88.5 L582.6,88.7 L583.1,88.8 L583.5,89.0 L584.0,89.1 L584.4,89.2 L584.9,89.4 L585.3,89.7 L585.7,90.0 L586.0,90.2 L586.4,90.5 L586.8,90.8 L587.2,91.1 L587.5,91.3 L587.9,91.6 L588.3,91.9 L588.7,92.2 L589.0,92.4 L589.4,92.7 L589.8,93.0 L590.2,93.2 L590.7,93.4 L591.1,93.7 L591.5,93.9 L592.0,94.1 L592.4,94.3 L592.9,94.5 L593.3,94.7 L593.7,95.0 L594.2,95.2 L594.6,95.4 L594.9,95.7 L595.3,96.1 L595.6,96.4 L595.9,96.7 L596.2,97.0 L596.6,97.4 L596.9,97.7 L597.2,98.0 L597.5,98.3 L597.9,98.7 L598.2,99.0 L598.5,99.4 L598.8,99.8 L599.1,100.2 L599.4,100.5 L599.7,100.9 L600.0,101.3 L600.3,101.6 L600.6,102.0 L600.9,102.3 L601.2,102.7 L601.5,103.0 L601.8,103.4 L602.1,103.8 L602.4,104.1 L602.7,104.5 L603.0,104.8 L603.3,105.2 L603.6,105.5 L603.9,105.9 L604.2,106.2 L604.5,106.6 L604.8,106.9 L605.0,107.3 L605.3,107.7 L605.5,108.1 L605.8,108.5 L606.0,108.9 L606.2,109.3 L606.5,109.7 L606.7,110.1 L607.0,110.5 L607.2,110.9 L607.4,111.3 L607.7,111.7 L607.9,112.1 L608.2,112.5 L608.4,112.9 L608.6,113.3 L608.9,113.7 L609.1,114.1 L609.4,114.5 L609.6,114.9 L609.9,115.2 L610.2,115.6 L610.6,115.9 L610.9,116.2 L611.2,116.5 L611.5,116.9 L611.8,117.2 L612.2,117.5 L612.5,117.8 L612.8,118.2 L613.1,118.5 L613.4,118.8 L613.8,119.1 L614.1,119.5 L614.4,119.8 L614.7,120.2 L615.0,120.6 L615.3,120.9 L615.6,121.3 L615.8,121.7 L616.1,122.1 L616.4,122.4 L616.7,122.8 L617.0,123.2 L617.3,123.6 L617.6,123.9 L617.9,124.3 L618.1,124.7 L618.4,125.1 L618.7,125.4 L619.0,125.8 L619.3,126.2 L619.6,126.6 L619.9,127.0 L620.1,127.3 L620.4,127.7 L620.7,128.1 L621.0,128.5 L621.3,128.8 L621.6,129.2 L621.8,129.6 L622.1,130.0 L622.4,130.3 L622.7,130.7 L623.0,131.1 L623.3,131.5 L623.5,131.8 L623.8,132.2 L624.1,132.6 L624.4,132.9 L624.7,133.2 L625.1,133.6 L625.4,133.9 L625.7,134.2 L626.0,134.5 L626.3,134.8 L626.7,135.2 L627.0,135.5 L627.3,135.8 L627.6,136.1 L627.9,136.4 L628.3,136.8 L628.6,137.1 L628.9,137.4 L629.3,137.7 L629.7,137.9 L630.1,138.2 L630.5,138.5 L630.9,138.7 L631.3,139.0 L631.7,139.3 L632.1,139.5 L632.5,139.8 L632.9,140.1 L633.3,140.3 L633.7,140.6 L634.1,140.8 L634.6,141.0 L635.0,141.2 L635.4,141.5 L635.8,141.7 L636.3,141.9 L636.7,142.1 L637.1,142.3 L637.5,142.5 L638.0,142.7 L638.4,142.9 L638.8,143.2 L639.2,143.4 L639.7,143.6 L640.1,143.8 L640.6,143.9 L641.1,144.0 L641.5,144.0 L642.0,144.1 L642.5,144.2 L643.0,144.3 L643.5,144.4 L643.9,144.4 L644.4,144.5 L644.9,144.6 L645.3,144.5 L645.8,144.3 L646.2,144.2 L646.7,144.0 L647.1,143.9 L647.6,143.7 L648.0,143.6 L648.5,143.4 L648.9,143.3 L649.4,143.1 L649.8,143.0 L650.1,142.7 L650.4,142.3 L650.7,141.9 L651.0,141.6 L651.3,141.2 L651.6,140.9 L651.9,140.6 L652.2,140.2 L652.5,139.8 L652.8,139.5 L653.1,139.2 L653.4,138.8 L653.7,138.5 L654.0,138.1 L654.3,137.8 L654.6,137.4 L655.0,137.1 L655.4,136.9 L655.8,136.6 L656.2,136.3 L656.6,136.1 L657.0,135.8 L657.4,135.5 L657.8,135.3 L658.2,135.0 L658.6,134.7 L659.0,134.5 L659.4,134.2 L659.8,134.0 L660.2,133.7 L660.6,133.5 L661.0,133.2 L661.4,133.0 L661.8,132.7 L662.2,132.5 L662.6,132.2 L663.0,132.0" fill="none" stroke="#ff00ff" stroke-width="1.2" stroke-linejoin="round"/><path d="M84.4,378.5 L88.8,369.6" fill="none" stroke="#800080" stroke-width="3.1" stroke-linecap="round"/><path d="M93.6,361.7 L100.3,368.4" fill="none" stroke="#800080" stroke-width="3.1" stroke-linecap="round"/><path d="M108.1,363.6 L115.9,366.6" fill="none" stroke="#800080" stroke-width="3.1" stroke-linecap="round"/><path d="M123.8,367.2 L131.6,367.8" fill="none" stroke="#800080" stroke-width="3.1" stroke-linecap="round"/><path d="M140.0,371.3 L147.2,371.8" fill="none" stroke="#800080" stroke-width="3.1" stroke-linecap="round"/><path d="M155.1,369.4 L162.9,371.8" fill="none" stroke="#800080" stroke-width="3.1" stroke-linecap="round"/><path d="M171.9,369.2 L179.8,367.6" fill="none" stroke="#800080" stroke-width="3.1" stroke-linecap="round"/><path d="M189.4,365.8 L197.2,362.8" fill="none" stroke="#800080" stroke-width="3.1" stroke-linecap="round"/><path d="M206.8,356.6 L214.1,352.4" fill="none" stroke="#800080" stroke-width="3.1" stroke-linecap="round"/><path d="M220.7,341.0 L223.6,332.5" fill="none" stroke="#800080" stroke-width="3.1" stroke-linecap="round"/><path d="M227.9,322.3 L234.6,312.7" fill="none" stroke="#800080" stroke-width="3.1" stroke-linecap="round"/><path d="M244.2,306.0 L252.6,304.8" fill="none" stroke="#800080" stroke-width="3.1" stroke-linecap="round"/><path d="M259.0,296.9 L267.5,302.3" fill="none" stroke="#800080" stroke-width="3.1" stroke-linecap="round"/><path d="M274.7,308.9 L283.1,313.7" fill="none" stroke="#800080" stroke-width="3.1" stroke-linecap="round"/><path d="M292.2,311.9 L301.8,311.6" fill="none" stroke="#800080" stroke-width="3.1" stroke-linecap="round"/><path d="M310.8,309.0 L319.9,308.8" fill="none" stroke="#800080" stroke-width="3.1" stroke-linecap="round"/><path d="M330.7,303.6 L336.7,297.6" fill="none" stroke="#800080" stroke-width="3.1" stroke-linecap="round"/><path d="M345.8,289.8 L351.8,283.1" fill="none" stroke="#800080" stroke-width="3.1" stroke-linecap="round"/><path d="M357.7,272.5 L364.5,265.0" fill="none" stroke="#800080" stroke-width="3.1" stroke-linecap="round"/><path d="M370.0,253.0 L377.0,245.5" fill="none" stroke="#800080" stroke-width="3.1" stroke-linecap="round"/><path d="M382.0,231.5 L387.1,224.5" fill="none" stroke="#800080" stroke-width="3.1" stroke-linecap="round"/><path d="M396.0,219.5 L402.0,211.9" fill="none" stroke="#800080" stroke-width="3.1" stroke-linecap="round"/><path d="M410.5,202.7 L418.3,196.6" fill="none" stroke="#800080" stroke-width="3.1" stroke-linecap="round"/><path d="M425.8,191.7 L434.2,187.5" fill="none" stroke="#800080" stroke-width="3.1" stroke-linecap="round"/><path d="M441.0,181.2 L448.3,174.0" fill="none" stroke="#800080" stroke-width="3.1" stroke-linecap="round"/><path d="M456.1,164.9 L461.6,158.3" fill="none" stroke="#800080" stroke-width="3.1" stroke-linecap="round"/><path d="M468.8,146.3 L476.0,137.2" fill="none" stroke="#800080" stroke-width="3.1" stroke-linecap="round"/><path d="M482.3,127.8 L488.9,120.0" fill="none" stroke="#800080" stroke-width="3.1" stroke-linecap="round"/><path d="M497.3,110.4 L505.2,103.1" fill="none" stroke="#800080" stroke-width="3.1" stroke-linecap="round"/><path d="M515.7,96.0 L522.9,93.0" fill="none" stroke="#800080" stroke-width="3.1" stroke-linecap="round"/><path d="M532.5,91.8 L541.0,90.0" fill="none" stroke="#800080" stroke-width="3.1" stroke-linecap="round"/><path d="M549.4,88.2 L556.0,86.7" fill="none" stroke="#800080" stroke-width="3.1" stroke-linecap="round"/><path d="M563.9,93.9 L570.9,98.8" fill="none" stroke="#800080" stroke-width="3.1" stroke-linecap="round"/><path d="M576.6,103.0 L585.0,108.2" fill="none" stroke="#800080" stroke-width="3.1" stroke-linecap="round"/><path d="M589.8,114.2 L596.2,117.0" fill="none" stroke="#800080" stroke-width="3.1" stroke-linecap="round"/><path d="M605.3,120.5 L608.8,130.4" fill="none" stroke="#800080" stroke-width="3.1" stroke-linecap="round"/><path d="M613.0,139.5 L617.9,147.2" fill="none" stroke="#800080" stroke-width="3.1" stroke-linecap="round"/><path d="M627.1,152.1 L634.1,158.5" fill="none" stroke="#800080" stroke-width="3.1" stroke-linecap="round"/><path d="M642.5,160.6 L649.5,159.9" fill="none" stroke="#800080" stroke-width="3.1" stroke-linecap="round"/><path d="M659.4,150.7 L662.2,153.6" fill="none" stroke="#800080" stroke-width="3.1" stroke-linecap="round"/><path d="M84.4,359.0 L84.6,359.3 L84.8,359.6 L85.0,359.9 L85.2,360.2 L85.4,360.5 L85.6,360.8 L85.8,361.2 L86.0,361.5 L86.2,361.9 L86.4,362.3 L86.6,362.7 L86.8,363.1 L87.0,363.6 L87.2,363.2 L87.3,362.9 L87.5,362.5 L87.6,362.2 L87.8,361.8 L88.0,361.5 L88.1,361.2 L88.3,360.8 L88.5,360.4 L88.6,360.1 L88.8,359.7 L88.9,359.3 L89.1,358.8 L89.3,358.4 L89.4,358.0 L89.6,357.5 L89.7,357.0 L89.9,356.5 L90.1,356.0 L90.2,355.5 L90.4,354.9 L90.6,354.4 L90.7,353.9 L90.9,353.4 L91.0,352.9 L91.2,352.4 L91.6,351.9 L91.9,351.5 L92.3,351.2 L92.6,351.0 L93.0,350.8 L93.4,351.2 L93.9,351.6 L94.3,351.9 L94.7,352.1 L95.1,352.1 L95.6,352.1 L96.0,352.0 L96.2,351.5 L96.5,351.0 L96.7,350.5 L97.0,350.0 L97.2,349.6 L97.5,349.2 L97.7,348.8 L98.0,348.5 L98.2,348.2 L98.5,348.0 L98.7,347.7 L98.9,347.5 L99.2,347.2 L99.4,347.0 L99.7,346.7 L99.9,346.3 L100.2,346.0 L100.4,345.5 L100.7,345.1 L100.9,344.6 L101.2,344.9 L101.4,345.2 L101.7,345.4 L102.0,345.7 L102.2,345.9 L102.5,346.3 L102.8,346.6 L103.0,347.0 L103.3,347.5 L103.6,347.1 L103.8,346.9 L104.1,346.6 L104.3,346.4 L104.6,346.1 L104.8,345.9 L105.1,345.6 L105.4,345.3 L105.6,344.9 L105.9,344.5 L106.1,344.1 L106.4,343.6 L106.6,343.1 L106.9,342.6 L107.3,342.6 L107.8,342.6 L108.2,342.8 L108.6,343.0 L109.0,343.4 L109.5,343.9 L109.9,344.4 L110.1,344.9 L110.3,345.5 L110.5,346.0 L110.8,346.5 L111.0,346.9 L111.2,347.4 L111.4,347.8 L111.6,348.2 L111.8,348.5 L112.0,348.8 L112.3,349.2 L112.5,349.5 L112.7,349.8 L112.9,350.1 L113.4,349.7 L113.8,349.5 L114.2,349.4 L114.7,349.4 L115.2,349.5 L115.6,349.6 L116.0,349.6 L116.5,349.6 L116.8,349.9 L117.2,350.2 L117.5,350.4 L117.8,350.5 L118.1,350.7 L118.5,350.8 L118.8,351.0 L119.1,351.2 L119.4,351.5 L119.8,351.9 L120.1,352.4 L120.5,352.8 L120.8,353.3 L121.2,353.8 L121.6,354.3 L121.9,354.7 L122.3,355.0 L122.7,355.2 L123.1,355.4 L123.4,355.5 L123.8,355.5 L124.3,355.6 L124.8,355.7 L125.2,356.0 L125.7,356.4 L126.2,356.9 L126.5,356.7 L126.8,356.5 L127.1,356.3 L127.4,356.0 L127.7,355.6 L128.0,355.3 L128.3,354.8 L128.6,354.3 L128.9,353.8 L129.2,353.3 L129.5,352.8 L129.8,352.3 L130.3,352.1 L130.8,352.0 L131.2,352.1 L131.7,352.2 L132.2,352.3 L132.7,352.4 L133.2,352.4 L133.6,352.2 L134.1,351.8 L134.6,351.5 L134.9,351.6 L135.3,351.8 L135.6,352.1 L136.0,352.4 L136.3,352.8 L136.7,353.2 L137.0,353.7 L137.4,354.2 L137.7,354.7 L138.1,355.2 L138.4,355.6 L138.8,355.9 L139.2,356.1 L139.5,356.3 L139.9,356.4 L140.2,356.5 L140.6,356.6 L141.1,356.4 L141.6,356.3 L142.1,356.5 L142.6,356.7 L143.1,356.9 L143.6,357.1 L143.9,357.5 L144.3,357.8 L144.6,358.0 L145.0,358.2 L145.3,358.4 L145.7,358.5 L146.0,358.6 L146.3,358.8 L146.7,359.0 L147.0,359.3 L147.4,359.6 L147.7,360.1 L148.1,360.6 L148.4,361.1 L148.8,361.2 L149.3,361.3 L149.8,361.3 L150.2,361.1 L150.7,360.8 L151.1,360.5 L151.6,360.2 L152.0,360.0 L152.5,359.8 L152.9,359.7 L153.4,359.8 L153.8,359.9 L154.3,360.0 L154.8,360.0 L155.2,359.9 L155.7,359.7 L156.2,359.4 L156.6,359.0 L157.1,358.6 L157.5,358.3 L158.0,358.1 L158.4,358.0 L158.8,357.9 L159.2,357.9 L159.6,358.0 L160.0,357.9 L160.4,357.8 L160.8,357.6 L161.3,357.3 L161.7,356.9 L162.1,356.5 L162.5,356.1 L162.9,355.7 L163.3,355.4 L163.7,355.2 L164.1,355.2 L164.6,355.2 L165.0,355.4 L165.5,355.4 L165.9,355.4 L166.4,355.3 L166.9,355.0 L167.3,354.6 L167.8,354.2 L168.3,353.9 L168.7,353.6 L169.2,353.5 L169.6,353.5 L170.1,353.6 L170.6,353.8 L171.0,353.9 L171.5,353.9 L171.9,353.8 L172.4,353.6 L172.9,353.2 L173.3,352.9 L173.8,352.6 L174.3,352.4 L174.7,352.3 L175.2,352.4 L175.6,352.5 L176.1,352.7 L176.6,352.8 L177.0,352.8 L177.5,352.7 L178.0,352.4 L178.4,352.1 L178.9,351.7 L179.4,351.4 L179.9,351.3 L180.3,351.2 L180.8,351.3 L181.3,351.5 L181.7,351.6 L182.2,351.7 L182.7,351.7 L183.1,351.5 L183.6,351.3 L184.0,350.9 L184.5,350.6 L185.0,350.3 L185.4,350.2 L185.9,350.1 L186.4,350.2 L186.8,350.4 L187.3,350.6 L187.7,350.6 L188.2,350.6 L188.7,350.5 L189.1,350.2 L189.6,349.9 L190.0,349.6 L190.5,349.4 L191.0,349.3 L191.4,349.4 L191.9,349.5 L192.4,349.7 L192.8,349.9 L193.3,350.0 L193.7,350.0 L194.2,349.9 L194.7,349.7 L195.2,349.5 L195.6,349.3 L196.1,349.2 L196.6,349.3 L197.1,349.5 L197.6,349.7 L198.1,350.1 L198.6,350.3 L199.0,350.5 L199.5,350.5 L200.0,350.4 L200.4,350.0 L200.9,349.7 L201.3,349.4 L201.8,349.2 L202.2,349.1 L202.7,349.1 L203.1,349.3 L203.6,349.4 L204.0,349.5 L204.4,349.5 L204.9,349.4 L205.3,349.2 L205.8,348.9 L206.2,348.5 L206.7,348.2 L207.1,347.9 L207.6,347.8 L208.0,347.8 L208.4,347.7 L208.8,347.7 L209.1,347.6 L209.5,347.5 L209.9,347.4 L210.2,347.1 L210.6,346.8 L211.0,346.4 L211.4,345.9 L211.8,345.4 L212.1,345.0 L212.5,344.6 L212.9,344.3 L213.2,344.1 L213.6,343.9 L214.0,343.8 L214.3,343.7 L214.6,343.5 L214.9,343.3 L215.2,343.0 L215.5,342.7 L215.7,342.4 L216.0,342.0 L216.3,341.6 L216.6,341.1 L216.9,340.6 L217.2,340.1 L217.5,339.6 L217.8,339.1 L218.1,338.7 L218.4,338.3 L218.6,338.0 L218.9,337.7 L219.2,337.5 L219.5,337.3 L219.8,337.1 L220.1,336.9 L220.6,337.0 L221.0,336.9 L221.5,336.7 L221.9,336.5 L222.4,336.1 L222.9,335.7 L223.3,335.3 L223.8,335.1 L224.3,335.0 L224.7,335.0 L225.2,335.1 L225.6,335.2 L226.1,334.9 L226.6,334.8 L227.0,334.7 L227.5,334.6 L227.9,334.5 L228.4,334.4 L228.9,334.3 L229.3,334.3 L229.8,334.2 L230.3,334.1 L230.7,334.0 L231.2,333.9 L231.6,333.8 L232.1,333.7 L232.4,333.3 L232.6,332.9 L232.9,332.5 L233.2,332.2 L233.4,331.8 L233.7,331.4 L233.9,331.0 L234.2,330.6 L234.5,330.2 L234.7,329.8 L235.0,329.5 L235.3,329.1 L235.5,328.7 L235.8,328.3 L236.3,328.2 L236.7,328.1 L237.2,328.0 L237.7,327.9 L238.1,327.9 L238.6,327.8 L239.1,327.7 L239.5,327.6 L240.0,327.5 L240.4,327.3 L240.8,327.1 L241.3,326.8 L241.7,326.6 L242.1,326.4 L242.5,326.2 L242.9,326.0 L243.4,325.7 L243.8,325.5 L244.2,325.3 L244.7,325.2 L245.2,325.1 L245.6,324.9 L246.1,324.8 L246.6,324.7 L247.0,324.9 L247.5,325.1 L247.9,325.4 L248.4,326.1 L248.8,326.3 L249.3,326.4 L249.8,326.4 L250.2,326.4 L250.6,326.1 L251.1,325.8 L251.5,325.7 L252.0,325.6 L252.4,325.7 L252.9,325.9 L253.3,326.0 L253.8,326.0 L254.2,326.0 L254.7,325.8 L255.1,325.5 L255.6,325.1 L256.0,324.7 L256.5,324.4 L256.9,324.3 L257.4,324.2 L257.8,324.3 L258.3,324.4 L258.8,324.5 L259.2,324.6 L259.7,324.5 L260.2,324.3 L260.6,324.0 L261.1,323.6 L261.5,323.2 L262.0,323.0 L262.5,322.8 L262.9,322.7 L263.4,322.8 L263.8,322.9 L264.3,323.0 L264.8,323.0 L265.2,322.9 L265.7,322.7 L266.2,322.4 L266.6,322.0 L267.1,321.6 L267.5,321.3 L268.0,321.1 L268.4,321.0 L268.9,320.9 L269.3,321.0 L269.7,321.0 L270.1,320.9 L270.6,320.8 L271.0,320.6 L271.4,320.2 L271.9,319.8 L272.3,319.3 L272.7,318.9 L273.1,318.5 L273.6,318.3 L274.0,318.2 L274.5,318.3 L274.9,318.5 L275.4,318.6 L275.8,318.7 L276.3,318.6 L276.8,318.4 L277.2,318.1 L277.7,317.7 L278.2,317.4 L278.6,317.1 L279.1,317.0 L279.5,317.0 L280.0,317.1 L280.5,317.3 L280.9,317.5 L281.4,317.5 L281.8,317.4 L282.3,317.2 L282.8,316.9 L283.2,316.5 L283.7,316.2 L284.2,316.0 L284.6,315.9 L285.1,315.9 L285.5,316.1 L286.0,316.2 L286.5,316.4 L286.9,316.5 L287.4,316.4 L287.8,316.3 L288.3,316.0 L288.8,315.7 L289.2,315.4 L289.7,315.2 L290.2,315.2 L290.6,315.3 L291.1,315.5 L291.5,315.7 L292.0,315.9 L292.5,316.0 L292.9,316.1 L293.4,316.0 L293.8,315.8 L294.3,315.6 L294.8,315.4 L295.2,315.3 L295.7,315.4 L296.2,315.6 L296.6,315.9 L297.1,316.2 L297.5,316.4 L298.0,316.6 L298.5,316.7 L298.9,316.6 L299.4,316.5 L299.8,316.3 L300.3,316.2 L300.8,316.2 L301.2,316.3 L301.7,316.5 L302.2,316.9 L302.6,317.2 L303.1,317.5 L303.5,317.7 L304.0,317.8 L304.5,317.8 L304.9,317.8 L305.4,317.8 L305.8,317.4 L306.3,317.1 L306.7,316.9 L307.1,316.8 L307.6,316.8 L308.0,316.9 L308.5,316.9 L308.9,316.8 L309.3,317.1 L309.8,317.2 L310.2,317.3 L310.6,317.4 L311.1,317.4 L311.5,317.6 L311.9,317.3 L312.3,317.1 L312.7,317.0 L313.1,316.9 L313.5,316.9 L314.0,316.9 L314.4,316.8 L314.8,316.5 L315.2,316.2 L315.6,315.8 L316.0,315.3 L316.4,314.9 L316.9,314.6 L317.3,314.3 L317.7,314.2 L318.1,314.1 L318.5,314.2 L319.0,314.3 L319.4,314.3 L319.8,314.2 L320.3,313.9 L320.7,313.6 L321.1,313.1 L321.6,312.6 L322.0,312.0 L322.4,311.8 L322.9,311.7 L323.4,311.8 L323.8,311.9 L324.2,312.1 L324.7,312.3 L325.0,312.1 L325.3,311.8 L325.6,311.5 L325.8,311.1 L326.1,310.7 L326.4,310.2 L326.7,309.7 L327.0,309.2 L327.3,308.7 L327.6,308.1 L327.9,307.7 L328.1,307.2 L328.4,306.8 L328.7,306.5 L329.0,306.2 L329.4,306.1 L329.8,306.0 L330.2,305.9 L330.6,305.8 L330.9,305.6 L331.3,305.4 L331.7,305.0 L332.1,304.5 L332.5,304.0 L332.9,303.5 L333.3,303.1 L333.7,302.8 L334.1,302.5 L334.5,302.4 L334.9,302.3 L335.3,302.3 L335.7,302.3 L336.1,302.2 L336.5,302.0 L336.9,301.8 L337.3,301.4 L337.8,300.9 L338.2,300.5 L338.7,300.0 L339.1,299.6 L339.6,299.4 L340.0,299.2 L340.3,299.0 L340.5,298.7 L340.8,298.5 L341.1,298.3 L341.4,298.1 L341.6,297.8 L341.9,297.5 L342.2,297.1 L342.4,296.8 L342.7,296.3 L343.0,295.9 L343.2,295.4 L343.5,294.9 L343.8,294.4 L344.1,293.9 L344.3,293.4 L344.6,293.0 L344.9,292.6 L345.2,292.3 L345.5,292.0 L345.8,291.7 L346.1,291.5 L346.4,291.3 L346.7,291.0 L347.0,290.8 L347.3,290.5 L347.6,290.1 L347.9,289.7 L348.2,289.3 L348.5,288.9 L348.8,288.4 L349.1,287.9 L349.4,287.4 L349.7,287.0 L350.0,286.5 L350.3,286.2 L350.6,285.8 L350.9,285.5 L351.2,285.2 L351.5,284.9 L351.8,284.7 L352.1,284.4 L352.4,284.1 L352.7,283.8 L353.0,283.5 L353.3,283.1 L353.6,282.7 L353.9,282.3 L354.2,281.9 L354.5,281.4 L354.8,281.0 L355.1,280.6 L355.4,280.2 L355.7,279.8 L356.0,279.4 L356.3,279.1 L356.6,278.8 L356.9,278.5 L357.3,278.3 L357.6,278.0 L358.0,277.8 L358.3,277.5 L358.6,277.2 L359.0,276.9 L359.3,276.5 L359.7,276.2 L360.0,275.8 L360.3,275.4 L360.6,275.0 L360.9,274.6 L361.2,274.2 L361.5,273.9 L361.8,273.5 L362.1,273.2 L362.4,272.9 L362.7,272.6 L363.1,272.2 L363.4,271.9 L363.7,271.5 L364.0,271.2 L364.3,270.8 L364.6,270.5 L364.9,270.1 L365.2,269.7 L365.5,269.3 L365.8,268.9 L366.1,268.6 L366.4,268.2 L366.7,267.9 L367.0,267.5 L367.3,267.2 L367.6,266.9 L367.8,266.5 L368.1,266.2 L368.4,265.8 L368.7,265.5 L369.0,265.1 L369.3,264.8 L369.6,264.4 L369.9,264.1 L370.2,263.7 L370.5,263.4 L370.7,263.0 L371.0,262.7 L371.3,262.3 L371.6,262.0 L371.9,261.6 L372.2,261.3 L372.5,260.9 L372.7,260.5 L373.0,260.2 L373.3,259.8 L373.6,259.4 L373.8,259.0 L374.1,258.6 L374.4,258.2 L374.7,257.9 L374.9,257.5 L375.2,257.1 L375.5,256.7 L375.7,256.3 L376.0,256.0 L376.3,255.6 L376.6,255.2 L376.8,254.8 L377.1,254.4 L377.4,254.0 L377.7,253.7 L377.9,253.3 L378.2,252.9 L378.4,252.5 L378.6,252.1 L378.8,251.6 L379.0,251.2 L379.2,250.8 L379.5,250.4 L379.7,250.0 L379.9,249.6 L380.1,249.1 L380.3,248.7 L380.5,248.3 L380.7,247.9 L380.9,247.5 L381.1,247.1 L381.3,246.6 L381.5,246.2 L381.7,245.8 L382.0,245.4 L382.2,245.0 L382.4,244.6 L382.6,244.1 L382.8,243.7 L383.0,243.3 L383.2,242.9 L383.4,242.5 L383.6,242.1 L383.8,241.7 L384.0,241.3 L384.2,240.9 L384.4,240.5 L384.6,240.1 L384.8,239.7 L385.0,239.2 L385.2,238.8 L385.4,238.4 L385.6,238.0 L385.8,237.6 L386.0,237.2 L386.2,236.8 L386.4,236.4 L386.6,236.0 L386.8,235.6 L387.0,235.2 L387.2,234.8 L387.5,234.4 L387.7,234.0 L387.9,233.6 L388.1,233.2 L388.3,232.8 L388.5,232.3 L388.7,231.9 L388.9,231.5 L389.1,231.1 L389.4,230.7 L389.6,230.3 L389.8,229.9 L390.0,229.5 L390.3,229.1 L390.5,228.7 L390.8,228.3 L391.1,227.9 L391.4,227.5 L391.6,227.1 L391.9,226.8 L392.2,226.4 L392.4,226.0 L392.7,225.6 L393.0,225.2 L393.3,224.8 L393.5,224.4 L393.8,224.0 L394.0,223.6 L394.2,223.2 L394.4,222.8 L394.6,222.4 L394.8,222.0 L395.0,221.6 L395.2,221.2 L395.4,220.8 L395.6,220.3 L395.8,219.9 L396.0,219.5 L396.2,219.1 L396.4,218.7 L396.6,218.3 L396.8,217.9 L397.0,217.5 L397.3,217.1 L397.6,216.8 L397.9,216.4 L398.1,216.0 L398.4,215.6 L398.7,215.3 L399.0,214.9 L399.3,214.5 L399.6,214.2 L399.9,213.8 L400.1,213.4 L400.4,213.0 L400.7,212.7 L401.0,212.3 L401.3,212.0 L401.7,211.6 L402.0,211.3 L402.3,211.0 L402.7,210.6 L403.0,210.3 L403.3,210.0 L403.7,209.6 L404.0,209.3 L404.3,209.0 L404.7,208.6 L405.0,208.3 L405.4,208.0 L405.7,207.7 L406.1,207.4 L406.5,207.1 L406.8,206.8 L407.2,206.6 L407.5,206.3 L407.9,206.0 L408.3,205.7 L408.6,205.4 L409.0,205.1 L409.3,204.8 L409.6,204.4 L409.9,204.1 L410.2,203.7 L410.6,203.3 L410.9,203.0 L411.2,202.7 L411.5,202.3 L411.9,202.2 L412.4,202.0 L412.8,201.9 L413.3,201.8 L413.7,201.6 L414.2,201.5 L414.6,201.4 L415.1,201.2 L415.5,201.1 L415.8,200.8 L416.2,200.4 L416.5,200.1 L416.8,199.7 L417.2,199.4 L417.5,199.1 L417.8,198.7 L418.2,198.4 L418.5,198.0 L418.8,197.7 L419.2,197.3 L419.5,197.0 L419.8,196.7 L420.1,196.3 L420.4,196.0 L420.7,195.6 L421.0,195.3 L421.3,194.9 L421.6,194.6 L421.8,194.3 L422.1,193.9 L422.4,193.6 L422.7,193.2 L423.0,192.9 L423.3,192.5 L423.6,192.2 L424.0,191.9 L424.4,191.7 L424.8,191.4 L425.2,191.1 L425.6,190.9 L426.0,190.6 L426.4,190.4 L426.8,190.1 L427.2,189.8 L427.6,189.6 L428.0,189.3 L428.3,188.9 L428.6,188.6 L428.9,188.2 L429.2,187.8 L429.5,187.5 L429.8,187.1 L430.2,186.7 L430.5,186.3 L430.8,186.0 L431.1,185.6 L431.4,185.2 L431.7,184.9 L432.0,184.5 L432.3,184.1 L432.5,183.7 L432.8,183.4 L433.0,183.0 L433.3,182.6 L433.6,182.2 L433.8,181.9 L434.1,181.5 L434.3,181.1 L434.6,180.7 L434.9,180.3 L435.1,180.0 L435.4,179.6 L435.7,179.2 L435.9,178.8 L436.2,178.4 L436.4,178.1 L436.7,177.7 L437.0,177.3 L437.2,176.9 L437.5,176.6 L437.7,176.2 L438.0,175.8 L438.4,175.5 L438.7,175.2 L439.1,175.0 L439.4,174.7 L439.8,174.4 L440.1,174.1 L440.5,173.8 L440.8,173.5 L441.2,173.3 L441.5,173.0 L441.9,172.7 L442.2,172.4 L442.6,172.1 L442.9,171.8 L443.3,171.6 L443.6,171.3 L444.0,171.0 L444.4,170.7 L444.7,170.4 L445.1,170.1 L445.4,169.8 L445.8,169.6 L446.1,169.3 L446.5,169.0 L446.8,168.7 L447.2,168.4 L447.5,168.1 L447.9,167.8 L448.2,167.5 L448.6,167.3 L448.9,167.0 L449.3,166.7 L449.6,166.4 L450.0,166.1 L450.5,166.0 L450.9,165.8 L451.4,165.7 L451.8,165.5 L452.3,165.4 L452.8,165.3 L453.2,165.1 L453.7,165.0 L454.2,164.9 L454.6,164.7 L455.1,164.6 L455.5,164.4 L456.0,164.3 L456.3,163.9 L456.5,163.5 L456.8,163.1 L457.1,162.8 L457.4,162.4 L457.6,162.0 L457.9,161.6 L458.2,161.2 L458.4,160.8 L458.7,160.4 L459.0,160.1 L459.3,159.7 L459.5,159.3 L459.8,158.9 L460.0,158.5 L460.2,158.0 L460.5,157.6 L460.7,157.2 L460.9,156.7 L461.1,156.3 L461.3,155.8 L461.5,155.4 L461.8,155.0 L462.0,154.5 L462.2,154.1 L462.5,153.7 L462.8,153.4 L463.1,153.0 L463.4,152.7 L463.7,152.3 L464.0,151.9 L464.3,151.6 L464.6,151.2 L464.9,150.9 L465.2,150.5 L465.5,150.1 L465.8,149.8 L466.1,149.4 L466.4,149.1 L466.7,148.7 L467.0,148.3 L467.3,148.0 L467.6,147.6 L467.9,147.3 L468.2,146.9 L468.5,146.5 L468.7,146.2 L469.0,145.8 L469.2,145.4 L469.5,145.1 L469.8,144.7 L470.0,144.3 L470.3,143.9 L470.5,143.6 L470.8,143.2 L471.1,142.8 L471.3,142.5 L471.6,142.1 L471.9,141.7 L472.1,141.4 L472.4,141.0 L472.6,140.6 L472.9,140.2 L473.2,139.9 L473.4,139.5 L473.7,139.1 L473.9,138.8 L474.2,138.4 L474.4,138.0 L474.6,137.6 L474.7,137.1 L474.9,136.7 L475.1,136.3 L475.3,135.9 L475.5,135.4 L475.7,135.0 L475.8,134.6 L476.0,134.2 L476.2,133.8 L476.4,133.3 L476.6,132.9 L476.8,132.5 L476.9,132.1 L477.1,131.7 L477.3,131.2 L477.5,130.8 L477.7,130.4 L477.8,130.0 L478.0,129.6 L478.2,129.1 L478.4,128.7 L478.6,128.3 L478.8,127.9 L478.9,127.4 L479.1,127.0 L479.3,126.6 L479.6,126.2 L479.9,125.9 L480.1,125.5 L480.4,125.2 L480.7,124.8 L481.0,124.5 L481.3,124.1 L481.6,123.8 L481.8,123.4 L482.1,123.1 L482.4,122.7 L482.7,122.4 L483.0,122.0 L483.3,121.7 L483.5,121.3 L483.8,121.0 L484.1,120.6 L484.3,120.2 L484.5,119.8 L484.8,119.4 L485.0,119.0 L485.2,118.6 L485.4,118.2 L485.7,117.8 L485.9,117.4 L486.1,117.0 L486.3,116.6 L486.5,116.2 L486.8,115.8 L487.0,115.4 L487.2,115.0 L487.4,114.6 L487.7,114.2 L487.9,113.8 L488.1,113.4 L488.3,113.0 L488.5,112.6 L488.8,112.2 L489.0,111.8 L489.2,111.4 L489.4,111.0 L489.7,110.6 L489.9,110.2 L490.1,109.8 L490.4,109.5 L490.7,109.2 L491.0,108.8 L491.4,108.5 L491.7,108.2 L492.0,107.9 L492.3,107.6 L492.6,107.2 L492.9,106.9 L493.3,106.6 L493.6,106.3 L493.9,105.9 L494.2,105.6 L494.5,105.3 L494.8,105.0 L495.2,104.7 L495.5,104.3 L495.8,104.0 L496.1,103.7 L496.4,103.4 L496.8,103.1 L497.1,102.8 L497.5,102.5 L497.8,102.2 L498.1,101.9 L498.5,101.6 L498.8,101.3 L499.1,101.0 L499.5,100.7 L499.8,100.4 L500.2,100.1 L500.5,99.8 L500.8,99.5 L501.2,99.2 L501.5,98.9 L501.9,98.6 L502.2,98.3 L502.7,98.2 L503.1,98.1 L503.6,98.0 L504.0,97.9 L504.5,97.8 L505.0,97.7 L505.4,97.7 L505.9,97.6 L506.4,97.5 L506.8,97.4 L507.3,97.3 L507.7,97.2 L508.2,97.1 L508.5,96.8 L508.9,96.4 L509.2,96.1 L509.6,95.7 L509.9,95.4 L510.3,95.0 L510.6,94.7 L510.9,94.4 L511.3,94.1 L511.6,93.8 L512.0,93.5 L512.3,93.2 L512.7,92.9 L513.0,92.6 L513.3,92.3 L513.7,92.0 L514.0,91.7 L514.4,91.4 L514.7,91.1 L515.1,90.8 L515.4,90.5 L515.8,90.8 L516.2,91.1 L516.6,91.4 L517.0,91.7 L517.4,92.0 L517.8,92.3 L518.2,92.1 L518.7,91.9 L519.1,91.7 L519.5,91.5 L520.0,91.4 L520.4,91.2 L520.8,91.0 L521.3,90.8 L521.7,90.6 L522.2,90.4 L522.6,90.3 L523.0,90.2 L523.5,90.0 L524.0,89.8 L524.4,89.7 L524.8,89.6 L525.3,89.4 L525.5,89.0 L525.8,88.6 L526.0,88.2 L526.2,87.8 L526.4,87.3 L526.6,86.9 L526.9,86.5 L527.1,86.1 L527.3,85.7 L527.5,85.3 L527.8,84.9 L528.0,84.5 L528.2,84.0 L528.4,83.6 L528.7,83.2 L528.9,82.8 L529.2,83.2 L529.4,83.6 L529.7,84.0 L530.0,84.4 L530.2,84.8 L530.5,85.2 L530.8,85.6 L531.0,86.0 L531.3,86.4 L531.8,86.5 L532.3,86.5 L532.7,86.6 L533.2,86.6 L533.7,86.7 L534.2,86.8 L534.7,86.8 L535.1,86.9 L535.6,86.9 L536.1,87.0 L536.5,87.3 L536.8,87.7 L537.2,88.0 L537.5,88.4 L537.9,88.7 L538.2,89.1 L538.6,89.4 L538.8,89.0 L539.0,88.5 L539.2,88.1 L539.5,87.7 L539.7,87.3 L539.9,86.8 L540.1,86.4 L540.3,86.0 L540.5,85.5 L540.7,85.1 L541.0,84.7 L541.2,84.3 L541.4,83.8 L541.6,83.4 L541.9,83.8 L542.1,84.2 L542.4,84.6 L542.6,85.0 L542.9,85.4 L543.1,85.8 L543.4,86.2 L543.6,86.6 L543.9,87.0 L544.1,87.4 L544.4,87.8 L544.6,88.2 L545.1,88.4 L545.5,88.5 L546.0,88.7 L546.4,88.8 L546.9,89.0 L547.3,89.1 L547.8,89.2 L548.2,89.4 L548.7,89.6 L549.1,89.7 L549.5,89.8 L550.0,90.0 L550.5,90.2 L550.9,90.3 L551.3,90.4 L551.8,90.6 L552.1,90.9 L552.5,91.3 L552.8,91.6 L553.1,91.9 L553.4,92.2 L553.8,92.6 L554.1,92.9 L554.4,93.2 L554.7,93.5 L555.1,93.9 L555.4,94.2 L555.7,94.5 L556.1,94.9 L556.4,95.2 L556.7,95.6 L557.0,95.9 L557.4,96.3 L557.7,96.6 L558.0,96.9 L558.4,97.3 L558.7,97.6 L559.0,98.0 L559.3,98.3 L559.7,98.7 L560.0,99.0 L560.4,99.2 L560.8,99.4 L561.2,99.6 L561.7,99.8 L562.1,100.0 L562.5,100.2 L562.9,100.5 L563.3,100.7 L563.8,100.9 L564.2,101.1 L564.6,101.3 L565.0,101.5 L565.4,101.8 L565.8,102.0 L566.3,102.2 L566.7,102.5 L567.1,102.8 L567.5,103.0 L567.9,103.2 L568.4,103.5 L568.8,103.8 L569.2,104.0 L569.6,104.3 L570.0,104.5 L570.4,104.8 L570.8,105.1 L571.2,105.3 L571.6,105.6 L572.0,105.9 L572.3,106.1 L572.7,106.4 L573.1,106.7 L573.5,106.9 L573.9,107.2 L574.3,107.5 L574.7,107.7 L575.1,108.0 L575.4,108.3 L575.7,108.7 L576.0,109.0 L576.3,109.4 L576.6,109.7 L576.9,110.1 L577.2,110.4 L577.5,110.8 L577.9,111.1 L578.2,111.4 L578.5,111.8 L578.8,112.1 L579.1,112.5 L579.4,112.8 L579.7,113.2 L580.0,113.5 L580.3,113.8 L580.6,114.1 L581.0,114.5 L581.3,114.8 L581.6,115.1 L581.9,115.4 L582.3,115.8 L582.6,116.1 L582.9,116.4 L583.2,116.7 L583.6,117.1 L583.9,117.4 L584.2,117.7 L584.6,118.0 L584.9,118.3 L585.2,118.6 L585.6,118.9 L586.0,119.2 L586.3,119.5 L586.6,119.7 L587.0,120.0 L587.4,120.3 L587.7,120.6 L588.0,120.9 L588.4,121.2 L588.7,121.6 L589.0,121.9 L589.3,122.3 L589.6,122.6 L590.0,123.0 L590.3,123.3 L590.6,123.7 L590.9,124.0 L591.2,124.4 L591.5,124.8 L591.8,125.1 L592.1,125.5 L592.4,125.8 L592.8,126.2 L593.1,126.5 L593.4,126.9 L593.7,127.2 L594.0,127.6 L594.3,128.0 L594.6,128.3 L594.9,128.7 L595.1,129.1 L595.4,129.5 L595.7,129.8 L596.0,130.2 L596.3,130.6 L596.6,131.0 L596.9,131.3 L597.2,131.7 L597.4,132.1 L597.7,132.5 L598.0,132.8 L598.3,133.2 L598.6,133.5 L598.9,133.9 L599.2,134.2 L599.5,134.6 L599.8,134.9 L600.1,135.3 L600.4,135.6 L600.7,136.0 L601.0,136.3 L601.3,136.7 L601.6,137.0 L601.9,137.4 L602.2,137.8 L602.5,138.1 L602.8,138.5 L603.1,138.8 L603.3,139.2 L603.6,139.6 L603.9,140.0 L604.2,140.3 L604.5,140.7 L604.7,141.1 L605.0,141.5 L605.3,141.8 L605.6,142.2 L605.9,142.6 L606.1,143.0 L606.4,143.3 L606.7,143.7 L607.0,144.1 L607.2,144.5 L607.5,144.9 L607.8,145.3 L608.0,145.7 L608.3,146.1 L608.5,146.5 L608.8,146.8 L609.1,147.2 L609.3,147.6 L609.6,148.0 L609.9,148.4 L610.1,148.8 L610.4,149.2 L610.6,149.6 L610.9,150.0 L611.2,150.3 L611.6,150.6 L611.9,150.9 L612.3,151.2 L612.6,151.6 L613.0,151.9 L613.4,152.2 L613.7,152.5 L614.0,152.8 L614.4,153.1 L614.8,153.4 L615.1,153.8 L615.5,154.1 L615.8,154.4 L616.1,154.7 L616.5,155.0 L616.8,155.3 L617.1,155.7 L617.4,156.1 L617.7,156.4 L618.0,156.8 L618.3,157.1 L618.6,157.4 L618.9,157.8 L619.2,158.2 L619.5,158.5 L619.8,158.8 L620.1,159.2 L620.4,159.6 L620.7,159.9 L621.0,160.2 L621.4,160.5 L621.7,160.9 L622.0,161.2 L622.4,161.5 L622.7,161.8 L623.0,162.2 L623.3,162.5 L623.7,162.8 L624.0,163.1 L624.3,163.5 L624.7,163.8 L625.0,164.1 L625.4,164.3 L625.9,164.5 L626.3,164.7 L626.7,165.0 L627.2,165.2 L627.6,165.4 L628.0,165.6 L628.4,165.8 L628.9,166.0 L629.3,166.3 L629.7,166.5 L630.2,166.7 L630.6,166.9 L631.0,167.1 L631.5,167.2 L631.9,167.4 L632.3,167.5 L632.8,167.7 L633.2,167.9 L633.6,168.0 L634.0,168.2 L634.5,168.4 L634.9,168.5 L635.3,168.7 L635.8,168.8 L636.2,169.0 L636.6,169.3 L636.9,169.6 L637.2,169.9 L637.6,170.2 L638.0,170.5 L638.3,170.8 L638.6,171.0 L639.0,171.3 L639.4,171.6 L639.7,171.9 L640.0,172.2 L640.4,172.5 L640.8,172.3 L641.2,172.1 L641.7,171.9 L642.1,171.7 L642.5,171.4 L642.9,171.2 L643.3,171.0 L643.8,170.8 L644.2,170.6 L644.6,170.4 L645.0,170.6 L645.5,170.8 L645.9,171.0 L646.3,171.3 L646.8,171.5 L647.2,171.7 L647.6,171.9 L648.0,172.1 L648.5,172.3 L648.9,172.6 L649.3,172.8 L649.8,173.0 L650.2,173.2 L650.6,173.1 L651.1,172.9 L651.5,172.8 L651.9,172.6 L652.4,172.5 L652.8,172.4 L653.2,172.2 L653.6,172.1 L654.1,171.9 L654.5,171.8 L654.8,171.5 L655.1,171.2 L655.5,170.8 L655.8,170.5 L656.1,170.2 L656.4,169.9 L656.8,169.5 L657.1,169.2 L657.4,168.9 L657.7,168.6 L658.1,168.2 L658.4,167.9 L658.7,167.6 L659.2,167.4 L659.6,167.3 L660.1,167.1 L660.6,167.0 L661.0,166.8 L661.5,166.7 L662.0,166.5 L662.4,166.4 L662.9,166.2" fill="none" stroke="#ff8c1a" stroke-width="1.2" stroke-linejoin="round"/></g>
<g><rect x="84.3" y="11.4" width="578.5" height="413.5" fill="none" stroke="#000" stroke-width="2"/><line x1="104.4" y1="424.9" x2="104.4" y2="419.29999999999995" stroke="#000" stroke-width="2"/><line x1="104.4" y1="11.4" x2="104.4" y2="17.0" stroke="#000" stroke-width="2"/><line x1="155.2" y1="424.9" x2="155.2" y2="413.7" stroke="#000" stroke-width="2"/><line x1="155.2" y1="11.4" x2="155.2" y2="22.6" stroke="#000" stroke-width="2"/><line x1="206.0" y1="424.9" x2="206.0" y2="419.29999999999995" stroke="#000" stroke-width="2"/><line x1="206.0" y1="11.4" x2="206.0" y2="17.0" stroke="#000" stroke-width="2"/><line x1="256.8" y1="424.9" x2="256.8" y2="413.7" stroke="#000" stroke-width="2"/><line x1="256.8" y1="11.4" x2="256.8" y2="22.6" stroke="#000" stroke-width="2"/><line x1="307.5" y1="424.9" x2="307.5" y2="419.29999999999995" stroke="#000" stroke-width="2"/><line x1="307.5" y1="11.4" x2="307.5" y2="17.0" stroke="#000" stroke-width="2"/><line x1="358.3" y1="424.9" x2="358.3" y2="413.7" stroke="#000" stroke-width="2"/><line x1="358.3" y1="11.4" x2="358.3" y2="22.6" stroke="#000" stroke-width="2"/><line x1="409.1" y1="424.9" x2="409.1" y2="419.29999999999995" stroke="#000" stroke-width="2"/><line x1="409.1" y1="11.4" x2="409.1" y2="17.0" stroke="#000" stroke-width="2"/><line x1="459.9" y1="424.9" x2="459.9" y2="413.7" stroke="#000" stroke-width="2"/><line x1="459.9" y1="11.4" x2="459.9" y2="22.6" stroke="#000" stroke-width="2"/><line x1="510.7" y1="424.9" x2="510.7" y2="419.29999999999995" stroke="#000" stroke-width="2"/><line x1="510.7" y1="11.4" x2="510.7" y2="17.0" stroke="#000" stroke-width="2"/><line x1="561.4" y1="424.9" x2="561.4" y2="413.7" stroke="#000" stroke-width="2"/><line x1="561.4" y1="11.4" x2="561.4" y2="22.6" stroke="#000" stroke-width="2"/><line x1="612.2" y1="424.9" x2="612.2" y2="419.29999999999995" stroke="#000" stroke-width="2"/><line x1="612.2" y1="11.4" x2="612.2" y2="17.0" stroke="#000" stroke-width="2"/><line x1="84.3" y1="383.2" x2="89.89999999999999" y2="383.2" stroke="#000" stroke-width="2"/><line x1="662.8" y1="383.2" x2="657.1999999999999" y2="383.2" stroke="#000" stroke-width="2"/><line x1="84.3" y1="341.9" x2="95.5" y2="341.9" stroke="#000" stroke-width="2"/><line x1="662.8" y1="341.9" x2="651.5999999999999" y2="341.9" stroke="#000" stroke-width="2"/><line x1="84.3" y1="300.7" x2="89.89999999999999" y2="300.7" stroke="#000" stroke-width="2"/><line x1="662.8" y1="300.7" x2="657.1999999999999" y2="300.7" stroke="#000" stroke-width="2"/><line x1="84.3" y1="259.4" x2="95.5" y2="259.4" stroke="#000" stroke-width="2"/><line x1="662.8" y1="259.4" x2="651.5999999999999" y2="259.4" stroke="#000" stroke-width="2"/><line x1="84.3" y1="218.1" x2="89.89999999999999" y2="218.1" stroke="#000" stroke-width="2"/><line x1="662.8" y1="218.1" x2="657.1999999999999" y2="218.1" stroke="#000" stroke-width="2"/><line x1="84.3" y1="176.8" x2="95.5" y2="176.8" stroke="#000" stroke-width="2"/><line x1="662.8" y1="176.8" x2="651.5999999999999" y2="176.8" stroke="#000" stroke-width="2"/><line x1="84.3" y1="135.5" x2="89.89999999999999" y2="135.5" stroke="#000" stroke-width="2"/><line x1="662.8" y1="135.5" x2="657.1999999999999" y2="135.5" stroke="#000" stroke-width="2"/><line x1="84.3" y1="94.3" x2="95.5" y2="94.3" stroke="#000" stroke-width="2"/><line x1="662.8" y1="94.3" x2="651.5999999999999" y2="94.3" stroke="#000" stroke-width="2"/><line x1="84.3" y1="53.0" x2="89.89999999999999" y2="53.0" stroke="#000" stroke-width="2"/><line x1="662.8" y1="53.0" x2="657.1999999999999" y2="53.0" stroke="#000" stroke-width="2"/><line x1="457.5" y1="177.6" x2="525.3" y2="177.6" stroke="#000" stroke-width="2.6"/><line x1="457.5" y1="214.5" x2="525.3" y2="214.5" stroke="#ff0000" stroke-width="1.3"/><line x1="457.5" y1="252.0" x2="525.3" y2="252.0" stroke="#00ff00" stroke-width="1.2"/><line x1="457.5" y1="288.5" x2="525.3" y2="288.5" stroke="#0000ff" stroke-width="1.4"/><line x1="457.5" y1="326.0" x2="525.3" y2="326.0" stroke="#ff00ff" stroke-width="1.2"/><line x1="458.5" y1="361.5" x2="468.0" y2="361.5" stroke="#800080" stroke-width="3.2" stroke-linecap="round"/><line x1="481.5" y1="361.5" x2="491.0" y2="361.5" stroke="#800080" stroke-width="3.2" stroke-linecap="round"/><line x1="505" y1="361.5" x2="514.5" y2="361.5" stroke="#800080" stroke-width="3.2" stroke-linecap="round"/><line x1="457.5" y1="399.5" x2="525.3" y2="399.5" stroke="#ff9a40" stroke-width="1.4"/></g>
<path d="M178.6,108.2 L181,110 L183.4,112.2 L187,116.7 L190,119.6 L193.1,122.5 L196.7,127 L199.5,129.8 L202.7,132.7 L206.3,137.2 L208.8,139.6 L211.1,141.7 L215,145" fill="none" stroke="#000" stroke-width="1.7" stroke-linejoin="round" stroke-linecap="round"/><path d="M227.6,157.4 L209.8,146.5 L214.6,145.7 L216.6,139.6 Z" fill="#000" stroke="#000" stroke-width="0.5" stroke-linejoin="round"/>
<g font-family="Liberation Sans, sans-serif" font-size="30" fill="#000" stroke="#000" stroke-width="0.3"><text transform="translate(73.0,433.4) scale(0.93,0.965)" text-anchor="end">0.4</text><text transform="translate(73.0,350.8) scale(0.93,0.965)" text-anchor="end">0.5</text><text transform="translate(73.0,268.3) scale(0.93,0.965)" text-anchor="end">0.6</text><text transform="translate(73.0,185.7) scale(0.93,0.965)" text-anchor="end">0.7</text><text transform="translate(73.0,103.2) scale(0.93,0.965)" text-anchor="end">0.8</text><text transform="translate(73.0,20.6) scale(0.93,0.965)" text-anchor="end">0.9</text><text transform="translate(155.5,459.0) scale(0.94,0.96)" text-anchor="middle">100</text><text transform="translate(257.1,459.0) scale(0.94,0.96)" text-anchor="middle">200</text><text transform="translate(358.6,459.0) scale(0.94,0.96)" text-anchor="middle">300</text><text transform="translate(460.2,459.0) scale(0.94,0.96)" text-anchor="middle">400</text><text transform="translate(561.7,459.0) scale(0.94,0.96)" text-anchor="middle">500</text><text transform="translate(663.3,459.0) scale(0.94,0.96)" text-anchor="middle">600</text><text transform="translate(21.5,185) rotate(-90) scale(1,1.05)" text-anchor="middle">Reflectance</text><text transform="translate(256.0,491.0) scale(1.0,1.05)">Wavenumber (cm<tspan dx="1.5" dy="-14.5" font-size="18">-</tspan><tspan dx="1" font-size="18">1</tspan><tspan dx="2" dy="14.5">)</tspan></text><text transform="translate(103.0,60.0) scale(1.0,1.05)">EuO</text><text transform="translate(103.0,96.5) scale(1.0,1.05)">phonon</text><text transform="translate(307.0,83.0) scale(1.0,1.05)">EuO/YSZ</text><text transform="translate(612.5,188.0) scale(1.0,1.05)" text-anchor="end">10 K</text><text transform="translate(612.5,224.9) scale(1.0,1.05)" text-anchor="end">50 K</text><text transform="translate(612.5,262.4) scale(1.0,1.05)" text-anchor="end">100 K</text><text transform="translate(612.5,298.9) scale(1.0,1.05)" text-anchor="end">150 K</text><text transform="translate(612.5,336.4) scale(1.0,1.05)" text-anchor="end">200 K</text><text transform="translate(612.5,371.9) scale(1.0,1.05)" text-anchor="end">300 K</text><text transform="translate(612.5,409.9) scale(1.0,1.05)" text-anchor="end">300 K</text><text transform="translate(400.0,409.5) scale(1.0,1.05)">YSZ</text></g>
</svg>
</body></html>
